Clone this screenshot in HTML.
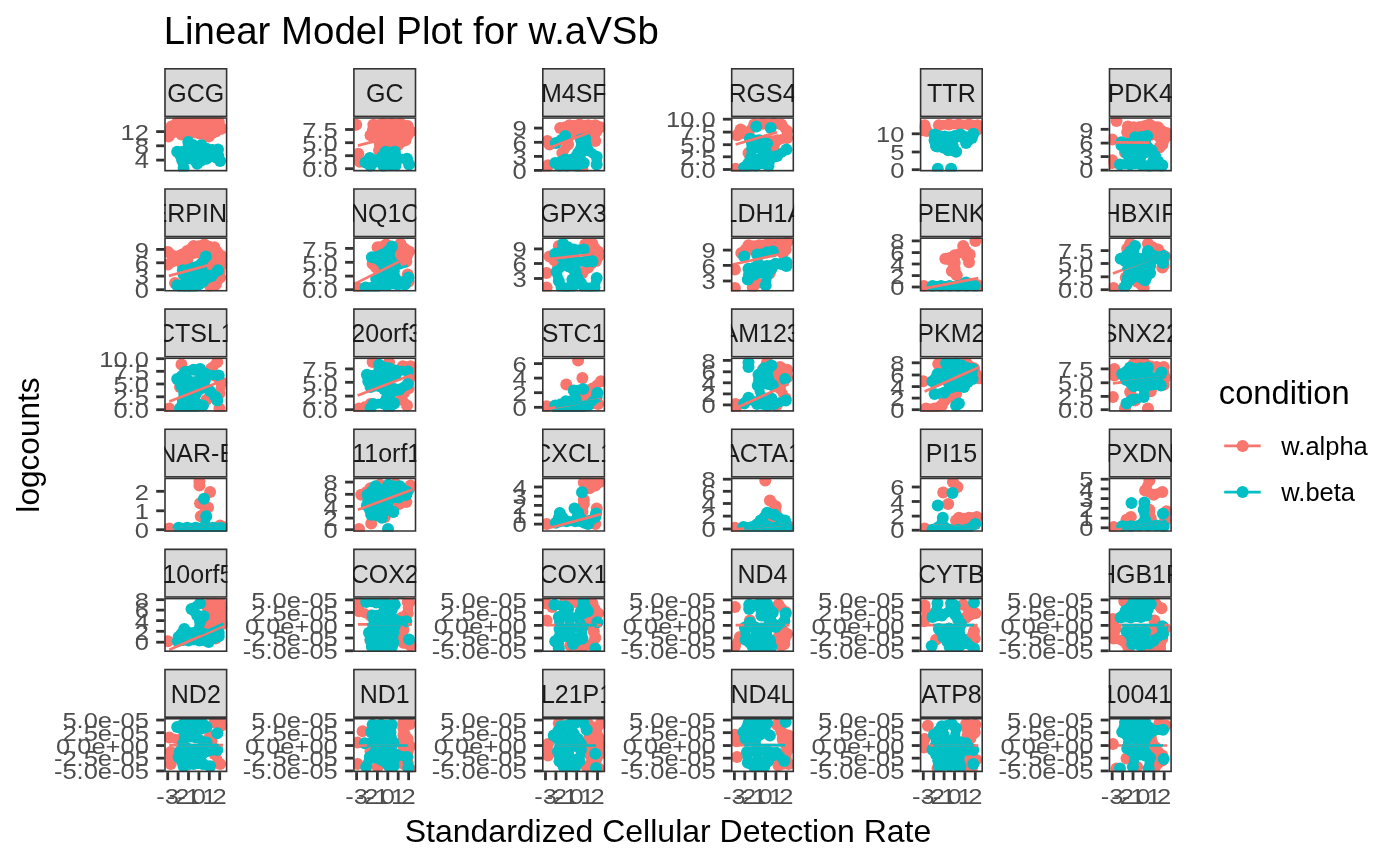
<!DOCTYPE html><html><head><meta charset="utf-8"><style>html,body{margin:0;padding:0;background:#fff;overflow:hidden}svg{display:block;will-change:transform;opacity:0.999}text{font-family:"Liberation Sans",sans-serif}</style></head><body>
<svg width="1400" height="866" viewBox="0 0 1400 866">
<rect width="1400" height="866" fill="#fff"/>
<defs>
<clipPath id="s0"><rect x="164.20" y="68.00" width="63.2" height="49.2"/></clipPath>
<clipPath id="p0"><rect x="164.20" y="117.20" width="63.2" height="54.2"/></clipPath>
<clipPath id="s1"><rect x="353.10" y="68.00" width="63.2" height="49.2"/></clipPath>
<clipPath id="p1"><rect x="353.10" y="117.20" width="63.2" height="54.2"/></clipPath>
<clipPath id="s2"><rect x="542.00" y="68.00" width="63.2" height="49.2"/></clipPath>
<clipPath id="p2"><rect x="542.00" y="117.20" width="63.2" height="54.2"/></clipPath>
<clipPath id="s3"><rect x="730.90" y="68.00" width="63.2" height="49.2"/></clipPath>
<clipPath id="p3"><rect x="730.90" y="117.20" width="63.2" height="54.2"/></clipPath>
<clipPath id="s4"><rect x="919.80" y="68.00" width="63.2" height="49.2"/></clipPath>
<clipPath id="p4"><rect x="919.80" y="117.20" width="63.2" height="54.2"/></clipPath>
<clipPath id="s5"><rect x="1108.70" y="68.00" width="63.2" height="49.2"/></clipPath>
<clipPath id="p5"><rect x="1108.70" y="117.20" width="63.2" height="54.2"/></clipPath>
<clipPath id="s6"><rect x="164.20" y="188.15" width="63.2" height="49.2"/></clipPath>
<clipPath id="p6"><rect x="164.20" y="237.35" width="63.2" height="54.2"/></clipPath>
<clipPath id="s7"><rect x="353.10" y="188.15" width="63.2" height="49.2"/></clipPath>
<clipPath id="p7"><rect x="353.10" y="237.35" width="63.2" height="54.2"/></clipPath>
<clipPath id="s8"><rect x="542.00" y="188.15" width="63.2" height="49.2"/></clipPath>
<clipPath id="p8"><rect x="542.00" y="237.35" width="63.2" height="54.2"/></clipPath>
<clipPath id="s9"><rect x="730.90" y="188.15" width="63.2" height="49.2"/></clipPath>
<clipPath id="p9"><rect x="730.90" y="237.35" width="63.2" height="54.2"/></clipPath>
<clipPath id="s10"><rect x="919.80" y="188.15" width="63.2" height="49.2"/></clipPath>
<clipPath id="p10"><rect x="919.80" y="237.35" width="63.2" height="54.2"/></clipPath>
<clipPath id="s11"><rect x="1108.70" y="188.15" width="63.2" height="49.2"/></clipPath>
<clipPath id="p11"><rect x="1108.70" y="237.35" width="63.2" height="54.2"/></clipPath>
<clipPath id="s12"><rect x="164.20" y="308.30" width="63.2" height="49.2"/></clipPath>
<clipPath id="p12"><rect x="164.20" y="357.50" width="63.2" height="54.2"/></clipPath>
<clipPath id="s13"><rect x="353.10" y="308.30" width="63.2" height="49.2"/></clipPath>
<clipPath id="p13"><rect x="353.10" y="357.50" width="63.2" height="54.2"/></clipPath>
<clipPath id="s14"><rect x="542.00" y="308.30" width="63.2" height="49.2"/></clipPath>
<clipPath id="p14"><rect x="542.00" y="357.50" width="63.2" height="54.2"/></clipPath>
<clipPath id="s15"><rect x="730.90" y="308.30" width="63.2" height="49.2"/></clipPath>
<clipPath id="p15"><rect x="730.90" y="357.50" width="63.2" height="54.2"/></clipPath>
<clipPath id="s16"><rect x="919.80" y="308.30" width="63.2" height="49.2"/></clipPath>
<clipPath id="p16"><rect x="919.80" y="357.50" width="63.2" height="54.2"/></clipPath>
<clipPath id="s17"><rect x="1108.70" y="308.30" width="63.2" height="49.2"/></clipPath>
<clipPath id="p17"><rect x="1108.70" y="357.50" width="63.2" height="54.2"/></clipPath>
<clipPath id="s18"><rect x="164.20" y="428.45" width="63.2" height="49.2"/></clipPath>
<clipPath id="p18"><rect x="164.20" y="477.65" width="63.2" height="54.2"/></clipPath>
<clipPath id="s19"><rect x="353.10" y="428.45" width="63.2" height="49.2"/></clipPath>
<clipPath id="p19"><rect x="353.10" y="477.65" width="63.2" height="54.2"/></clipPath>
<clipPath id="s20"><rect x="542.00" y="428.45" width="63.2" height="49.2"/></clipPath>
<clipPath id="p20"><rect x="542.00" y="477.65" width="63.2" height="54.2"/></clipPath>
<clipPath id="s21"><rect x="730.90" y="428.45" width="63.2" height="49.2"/></clipPath>
<clipPath id="p21"><rect x="730.90" y="477.65" width="63.2" height="54.2"/></clipPath>
<clipPath id="s22"><rect x="919.80" y="428.45" width="63.2" height="49.2"/></clipPath>
<clipPath id="p22"><rect x="919.80" y="477.65" width="63.2" height="54.2"/></clipPath>
<clipPath id="s23"><rect x="1108.70" y="428.45" width="63.2" height="49.2"/></clipPath>
<clipPath id="p23"><rect x="1108.70" y="477.65" width="63.2" height="54.2"/></clipPath>
<clipPath id="s24"><rect x="164.20" y="548.60" width="63.2" height="49.2"/></clipPath>
<clipPath id="p24"><rect x="164.20" y="597.80" width="63.2" height="54.2"/></clipPath>
<clipPath id="s25"><rect x="353.10" y="548.60" width="63.2" height="49.2"/></clipPath>
<clipPath id="p25"><rect x="353.10" y="597.80" width="63.2" height="54.2"/></clipPath>
<clipPath id="s26"><rect x="542.00" y="548.60" width="63.2" height="49.2"/></clipPath>
<clipPath id="p26"><rect x="542.00" y="597.80" width="63.2" height="54.2"/></clipPath>
<clipPath id="s27"><rect x="730.90" y="548.60" width="63.2" height="49.2"/></clipPath>
<clipPath id="p27"><rect x="730.90" y="597.80" width="63.2" height="54.2"/></clipPath>
<clipPath id="s28"><rect x="919.80" y="548.60" width="63.2" height="49.2"/></clipPath>
<clipPath id="p28"><rect x="919.80" y="597.80" width="63.2" height="54.2"/></clipPath>
<clipPath id="s29"><rect x="1108.70" y="548.60" width="63.2" height="49.2"/></clipPath>
<clipPath id="p29"><rect x="1108.70" y="597.80" width="63.2" height="54.2"/></clipPath>
<clipPath id="s30"><rect x="164.20" y="668.75" width="63.2" height="49.2"/></clipPath>
<clipPath id="p30"><rect x="164.20" y="717.95" width="63.2" height="54.2"/></clipPath>
<clipPath id="s31"><rect x="353.10" y="668.75" width="63.2" height="49.2"/></clipPath>
<clipPath id="p31"><rect x="353.10" y="717.95" width="63.2" height="54.2"/></clipPath>
<clipPath id="s32"><rect x="542.00" y="668.75" width="63.2" height="49.2"/></clipPath>
<clipPath id="p32"><rect x="542.00" y="717.95" width="63.2" height="54.2"/></clipPath>
<clipPath id="s33"><rect x="730.90" y="668.75" width="63.2" height="49.2"/></clipPath>
<clipPath id="p33"><rect x="730.90" y="717.95" width="63.2" height="54.2"/></clipPath>
<clipPath id="s34"><rect x="919.80" y="668.75" width="63.2" height="49.2"/></clipPath>
<clipPath id="p34"><rect x="919.80" y="717.95" width="63.2" height="54.2"/></clipPath>
<clipPath id="s35"><rect x="1108.70" y="668.75" width="63.2" height="49.2"/></clipPath>
<clipPath id="p35"><rect x="1108.70" y="717.95" width="63.2" height="54.2"/></clipPath>
</defs>
<text x="163.7" y="43.6" font-size="38.4" fill="#000">Linear Model Plot for w.aVSb</text>
<text x="668" y="842" font-size="32" text-anchor="middle" fill="#000">Standardized Cellular Detection Rate</text>
<text transform="translate(39.2,445) rotate(-90)" font-size="31.6" text-anchor="middle" fill="#000">logcounts</text>
<text transform="translate(1218.8,404.3) scale(0.99,1)" font-size="33" fill="#000">condition</text>
<line x1="1224.2" y1="445.9" x2="1260.7" y2="445.9" stroke="#F8766D" stroke-width="2.6"/>
<circle cx="1242.6" cy="445.9" r="6.0" fill="#F8766D"/>
<text transform="translate(1281.3,454.7) scale(1.02,1)" font-size="25" fill="#000">w.alpha</text>
<line x1="1224.2" y1="492.1" x2="1260.7" y2="492.1" stroke="#00BFC4" stroke-width="2.6"/>
<circle cx="1242.6" cy="492.1" r="6.0" fill="#00BFC4"/>
<text transform="translate(1281.3,500.9) scale(1.02,1)" font-size="25" fill="#000">w.beta</text>
<g clip-path="url(#s0)"><rect x="164.20" y="68.00" width="63.2" height="49.2" fill="#D9D9D9" stroke="#333" stroke-width="3.2"/>
<text x="195.80" y="102.00" font-size="25" text-anchor="middle" fill="#1A1A1A">GCG</text></g>
<g clip-path="url(#p0)"><rect x="164.20" y="117.20" width="63.2" height="54.2" fill="#fff"/>
<circle cx="171.5" cy="126.6" r="6.0" fill="#F8766D"/>
<circle cx="168.6" cy="136.6" r="6.0" fill="#F8766D"/>
<circle cx="180.8" cy="124.8" r="6.0" fill="#F8766D"/>
<circle cx="181.5" cy="134.5" r="6.0" fill="#F8766D"/>
<circle cx="190.8" cy="124.5" r="6.0" fill="#F8766D"/>
<circle cx="190.1" cy="133.0" r="6.0" fill="#F8766D"/>
<circle cx="200.1" cy="124.8" r="6.0" fill="#F8766D"/>
<circle cx="200.1" cy="133.8" r="6.0" fill="#F8766D"/>
<circle cx="209.4" cy="124.5" r="6.0" fill="#F8766D"/>
<circle cx="208.7" cy="136.6" r="6.0" fill="#F8766D"/>
<circle cx="218.7" cy="125.9" r="6.0" fill="#F8766D"/>
<circle cx="221.6" cy="128.7" r="6.0" fill="#F8766D"/>
<circle cx="215.8" cy="131.6" r="6.0" fill="#F8766D"/>
<circle cx="175.7" cy="130.9" r="6.0" fill="#F8766D"/>
<circle cx="177.9" cy="121.6" r="6.0" fill="#F8766D"/>
<circle cx="188.6" cy="120.9" r="6.0" fill="#F8766D"/>
<circle cx="199.4" cy="120.9" r="6.0" fill="#F8766D"/>
<circle cx="210.1" cy="120.9" r="6.0" fill="#F8766D"/>
<circle cx="218.7" cy="121.6" r="6.0" fill="#F8766D"/>
<circle cx="170.0" cy="131.6" r="5.0" fill="#F8766D"/>
<circle cx="176.1" cy="125.7" r="5.0" fill="#F8766D"/>
<circle cx="173.6" cy="128.7" r="5.0" fill="#F8766D"/>
<circle cx="174.7" cy="124.1" r="5.0" fill="#F8766D"/>
<circle cx="172.2" cy="133.8" r="5.0" fill="#F8766D"/>
<circle cx="181.1" cy="129.6" r="5.0" fill="#F8766D"/>
<circle cx="185.8" cy="124.6" r="5.0" fill="#F8766D"/>
<circle cx="185.4" cy="128.9" r="5.0" fill="#F8766D"/>
<circle cx="178.3" cy="127.9" r="5.0" fill="#F8766D"/>
<circle cx="179.3" cy="123.2" r="5.0" fill="#F8766D"/>
<circle cx="184.7" cy="122.8" r="5.0" fill="#F8766D"/>
<circle cx="185.8" cy="133.8" r="5.0" fill="#F8766D"/>
<circle cx="178.6" cy="132.7" r="5.0" fill="#F8766D"/>
<circle cx="190.4" cy="128.7" r="5.0" fill="#F8766D"/>
<circle cx="195.4" cy="124.6" r="5.0" fill="#F8766D"/>
<circle cx="189.7" cy="122.7" r="5.0" fill="#F8766D"/>
<circle cx="195.1" cy="122.7" r="5.0" fill="#F8766D"/>
<circle cx="195.1" cy="133.4" r="5.0" fill="#F8766D"/>
<circle cx="189.3" cy="127.0" r="5.0" fill="#F8766D"/>
<circle cx="200.1" cy="129.3" r="5.0" fill="#F8766D"/>
<circle cx="204.7" cy="124.6" r="5.0" fill="#F8766D"/>
<circle cx="194.4" cy="122.8" r="5.0" fill="#F8766D"/>
<circle cx="199.7" cy="122.8" r="5.0" fill="#F8766D"/>
<circle cx="205.1" cy="122.8" r="5.0" fill="#F8766D"/>
<circle cx="204.4" cy="135.2" r="5.0" fill="#F8766D"/>
<circle cx="209.0" cy="130.5" r="5.0" fill="#F8766D"/>
<circle cx="214.0" cy="125.2" r="5.0" fill="#F8766D"/>
<circle cx="212.6" cy="128.0" r="5.0" fill="#F8766D"/>
<circle cx="204.4" cy="122.7" r="5.0" fill="#F8766D"/>
<circle cx="209.7" cy="122.7" r="5.0" fill="#F8766D"/>
<circle cx="214.0" cy="123.0" r="5.0" fill="#F8766D"/>
<circle cx="212.3" cy="134.1" r="5.0" fill="#F8766D"/>
<circle cx="220.1" cy="127.3" r="5.0" fill="#F8766D"/>
<circle cx="217.3" cy="128.7" r="5.0" fill="#F8766D"/>
<circle cx="214.4" cy="123.4" r="5.0" fill="#F8766D"/>
<circle cx="218.7" cy="123.7" r="5.0" fill="#F8766D"/>
<circle cx="218.7" cy="130.2" r="5.0" fill="#F8766D"/>
<circle cx="220.1" cy="125.2" r="5.0" fill="#F8766D"/>
<circle cx="213.0" cy="126.2" r="5.0" fill="#F8766D"/>
<circle cx="217.3" cy="126.6" r="5.0" fill="#F8766D"/>
<circle cx="176.8" cy="126.2" r="5.0" fill="#F8766D"/>
<circle cx="183.3" cy="121.2" r="5.0" fill="#F8766D"/>
<circle cx="194.0" cy="120.9" r="5.0" fill="#F8766D"/>
<circle cx="204.7" cy="120.9" r="5.0" fill="#F8766D"/>
<circle cx="214.4" cy="121.2" r="5.0" fill="#F8766D"/>
<circle cx="177.2" cy="151.7" r="6.0" fill="#00BFC4"/>
<circle cx="188.3" cy="142.0" r="6.0" fill="#00BFC4"/>
<circle cx="201.5" cy="145.2" r="6.0" fill="#00BFC4"/>
<circle cx="218.0" cy="149.5" r="6.0" fill="#00BFC4"/>
<circle cx="220.1" cy="161.0" r="6.0" fill="#00BFC4"/>
<circle cx="197.2" cy="163.8" r="6.0" fill="#00BFC4"/>
<circle cx="206.5" cy="158.8" r="6.0" fill="#00BFC4"/>
<circle cx="182.2" cy="160.2" r="6.0" fill="#00BFC4"/>
<circle cx="183.6" cy="168.1" r="6.0" fill="#00BFC4"/>
<circle cx="194.4" cy="153.1" r="6.0" fill="#00BFC4"/>
<circle cx="187.2" cy="150.2" r="6.0" fill="#00BFC4"/>
<circle cx="206.5" cy="148.8" r="6.0" fill="#00BFC4"/>
<circle cx="198.7" cy="146.6" r="6.0" fill="#00BFC4"/>
<circle cx="181.5" cy="154.5" r="6.0" fill="#00BFC4"/>
<circle cx="188.6" cy="155.9" r="6.0" fill="#00BFC4"/>
<circle cx="200.1" cy="155.9" r="6.0" fill="#00BFC4"/>
<circle cx="210.1" cy="153.1" r="6.0" fill="#00BFC4"/>
<circle cx="192.9" cy="158.8" r="6.0" fill="#00BFC4"/>
<circle cx="202.9" cy="153.1" r="6.0" fill="#00BFC4"/>
<circle cx="211.5" cy="155.9" r="6.0" fill="#00BFC4"/>
<circle cx="179.7" cy="155.9" r="5.0" fill="#00BFC4"/>
<circle cx="182.2" cy="150.9" r="5.0" fill="#00BFC4"/>
<circle cx="179.3" cy="153.1" r="5.0" fill="#00BFC4"/>
<circle cx="182.9" cy="153.8" r="5.0" fill="#00BFC4"/>
<circle cx="187.7" cy="146.1" r="5.0" fill="#00BFC4"/>
<circle cx="193.5" cy="144.3" r="5.0" fill="#00BFC4"/>
<circle cx="197.9" cy="149.1" r="5.0" fill="#00BFC4"/>
<circle cx="204.0" cy="147.0" r="5.0" fill="#00BFC4"/>
<circle cx="200.1" cy="145.9" r="5.0" fill="#00BFC4"/>
<circle cx="200.8" cy="150.6" r="5.0" fill="#00BFC4"/>
<circle cx="205.8" cy="149.1" r="5.0" fill="#00BFC4"/>
<circle cx="202.2" cy="149.1" r="5.0" fill="#00BFC4"/>
<circle cx="219.1" cy="155.2" r="5.0" fill="#00BFC4"/>
<circle cx="212.3" cy="149.1" r="5.0" fill="#00BFC4"/>
<circle cx="214.0" cy="151.3" r="5.0" fill="#00BFC4"/>
<circle cx="214.8" cy="152.7" r="5.0" fill="#00BFC4"/>
<circle cx="215.8" cy="158.5" r="5.0" fill="#00BFC4"/>
<circle cx="201.9" cy="161.3" r="5.0" fill="#00BFC4"/>
<circle cx="195.8" cy="158.5" r="5.0" fill="#00BFC4"/>
<circle cx="192.9" cy="159.9" r="5.0" fill="#00BFC4"/>
<circle cx="198.7" cy="159.9" r="5.0" fill="#00BFC4"/>
<circle cx="195.1" cy="161.3" r="5.0" fill="#00BFC4"/>
<circle cx="200.1" cy="158.5" r="5.0" fill="#00BFC4"/>
<circle cx="206.5" cy="153.8" r="5.0" fill="#00BFC4"/>
<circle cx="203.3" cy="157.4" r="5.0" fill="#00BFC4"/>
<circle cx="208.3" cy="155.9" r="5.0" fill="#00BFC4"/>
<circle cx="204.7" cy="155.9" r="5.0" fill="#00BFC4"/>
<circle cx="209.0" cy="157.4" r="5.0" fill="#00BFC4"/>
<circle cx="182.9" cy="164.2" r="5.0" fill="#00BFC4"/>
<circle cx="184.7" cy="155.2" r="5.0" fill="#00BFC4"/>
<circle cx="181.8" cy="157.4" r="5.0" fill="#00BFC4"/>
<circle cx="185.4" cy="158.1" r="5.0" fill="#00BFC4"/>
<circle cx="187.6" cy="159.5" r="5.0" fill="#00BFC4"/>
<circle cx="190.8" cy="151.7" r="5.0" fill="#00BFC4"/>
<circle cx="196.5" cy="149.9" r="5.0" fill="#00BFC4"/>
<circle cx="191.5" cy="154.5" r="5.0" fill="#00BFC4"/>
<circle cx="197.2" cy="154.5" r="5.0" fill="#00BFC4"/>
<circle cx="193.6" cy="155.9" r="5.0" fill="#00BFC4"/>
<circle cx="198.7" cy="153.1" r="5.0" fill="#00BFC4"/>
<circle cx="192.9" cy="148.4" r="5.0" fill="#00BFC4"/>
<circle cx="184.3" cy="152.4" r="5.0" fill="#00BFC4"/>
<circle cx="187.9" cy="153.1" r="5.0" fill="#00BFC4"/>
<circle cx="190.1" cy="154.5" r="5.0" fill="#00BFC4"/>
<circle cx="202.6" cy="147.7" r="5.0" fill="#00BFC4"/>
<circle cx="203.3" cy="152.4" r="5.0" fill="#00BFC4"/>
<circle cx="208.3" cy="150.9" r="5.0" fill="#00BFC4"/>
<circle cx="204.7" cy="150.9" r="5.0" fill="#00BFC4"/>
<circle cx="209.0" cy="152.4" r="5.0" fill="#00BFC4"/>
<circle cx="199.4" cy="151.3" r="5.0" fill="#00BFC4"/>
<circle cx="200.8" cy="149.9" r="5.0" fill="#00BFC4"/>
<circle cx="185.1" cy="155.2" r="5.0" fill="#00BFC4"/>
<circle cx="187.2" cy="156.7" r="5.0" fill="#00BFC4"/>
<circle cx="194.4" cy="155.9" r="5.0" fill="#00BFC4"/>
<circle cx="190.8" cy="157.4" r="5.0" fill="#00BFC4"/>
<circle cx="205.1" cy="154.5" r="5.0" fill="#00BFC4"/>
<circle cx="196.5" cy="157.4" r="5.0" fill="#00BFC4"/>
<circle cx="201.5" cy="154.5" r="5.0" fill="#00BFC4"/>
<circle cx="205.8" cy="155.9" r="5.0" fill="#00BFC4"/>
<circle cx="206.5" cy="153.1" r="5.0" fill="#00BFC4"/>
<circle cx="210.8" cy="154.5" r="5.0" fill="#00BFC4"/>
<circle cx="197.9" cy="155.9" r="5.0" fill="#00BFC4"/>
<circle cx="207.2" cy="154.5" r="5.0" fill="#00BFC4"/>
<rect x="164.20" y="117.20" width="63.2" height="54.2" fill="none" stroke="#333" stroke-width="3.2"/></g>
<line x1="156.20" y1="131.6" x2="164.20" y2="131.6" stroke="#333" stroke-width="2.8"/>
<text transform="translate(148.90,139.80) scale(1.16,1)" font-size="22" text-anchor="end" fill="#4D4D4D">12</text>
<line x1="156.20" y1="145.79999999999998" x2="164.20" y2="145.79999999999998" stroke="#333" stroke-width="2.8"/>
<text transform="translate(148.90,154.00) scale(1.16,1)" font-size="22" text-anchor="end" fill="#4D4D4D">8</text>
<line x1="156.20" y1="160.1" x2="164.20" y2="160.1" stroke="#333" stroke-width="2.8"/>
<text transform="translate(148.90,168.30) scale(1.16,1)" font-size="22" text-anchor="end" fill="#4D4D4D">4</text>
<g clip-path="url(#s1)"><rect x="353.10" y="68.00" width="63.2" height="49.2" fill="#D9D9D9" stroke="#333" stroke-width="3.2"/>
<text x="384.70" y="102.00" font-size="25" text-anchor="middle" fill="#1A1A1A">GC</text></g>
<g clip-path="url(#p1)"><rect x="353.10" y="117.20" width="63.2" height="54.2" fill="#fff"/>
<circle cx="356.2" cy="124.8" r="6.0" fill="#F8766D"/>
<circle cx="373.3" cy="124.8" r="6.0" fill="#F8766D"/>
<circle cx="382.6" cy="123.7" r="6.0" fill="#F8766D"/>
<circle cx="391.9" cy="123.7" r="6.0" fill="#F8766D"/>
<circle cx="400.5" cy="123.7" r="6.0" fill="#F8766D"/>
<circle cx="407.7" cy="125.9" r="6.0" fill="#F8766D"/>
<circle cx="410.6" cy="131.6" r="6.0" fill="#F8766D"/>
<circle cx="370.5" cy="135.2" r="6.0" fill="#F8766D"/>
<circle cx="380.5" cy="134.5" r="6.0" fill="#F8766D"/>
<circle cx="390.5" cy="133.0" r="6.0" fill="#F8766D"/>
<circle cx="400.5" cy="134.5" r="6.0" fill="#F8766D"/>
<circle cx="405.5" cy="140.2" r="6.0" fill="#F8766D"/>
<circle cx="379.8" cy="143.8" r="6.0" fill="#F8766D"/>
<circle cx="389.1" cy="143.8" r="6.0" fill="#F8766D"/>
<circle cx="397.7" cy="145.2" r="6.0" fill="#F8766D"/>
<circle cx="379.1" cy="150.2" r="6.0" fill="#F8766D"/>
<circle cx="358.3" cy="153.8" r="6.0" fill="#F8766D"/>
<circle cx="359.7" cy="161.7" r="6.0" fill="#F8766D"/>
<circle cx="378.0" cy="124.3" r="5.0" fill="#F8766D"/>
<circle cx="371.9" cy="130.0" r="5.0" fill="#F8766D"/>
<circle cx="376.9" cy="129.6" r="5.0" fill="#F8766D"/>
<circle cx="387.3" cy="123.7" r="5.0" fill="#F8766D"/>
<circle cx="381.6" cy="129.1" r="5.0" fill="#F8766D"/>
<circle cx="386.6" cy="128.4" r="5.0" fill="#F8766D"/>
<circle cx="396.2" cy="123.7" r="5.0" fill="#F8766D"/>
<circle cx="391.2" cy="128.4" r="5.0" fill="#F8766D"/>
<circle cx="404.1" cy="124.8" r="5.0" fill="#F8766D"/>
<circle cx="400.5" cy="129.1" r="5.0" fill="#F8766D"/>
<circle cx="409.1" cy="128.7" r="5.0" fill="#F8766D"/>
<circle cx="404.1" cy="130.2" r="5.0" fill="#F8766D"/>
<circle cx="405.5" cy="133.0" r="5.0" fill="#F8766D"/>
<circle cx="408.1" cy="135.9" r="5.0" fill="#F8766D"/>
<circle cx="375.5" cy="134.8" r="5.0" fill="#F8766D"/>
<circle cx="385.5" cy="133.8" r="5.0" fill="#F8766D"/>
<circle cx="380.1" cy="139.1" r="5.0" fill="#F8766D"/>
<circle cx="395.5" cy="133.8" r="5.0" fill="#F8766D"/>
<circle cx="389.8" cy="138.4" r="5.0" fill="#F8766D"/>
<circle cx="403.0" cy="137.3" r="5.0" fill="#F8766D"/>
<circle cx="399.1" cy="139.8" r="5.0" fill="#F8766D"/>
<circle cx="401.6" cy="142.7" r="5.0" fill="#F8766D"/>
<circle cx="384.4" cy="143.8" r="5.0" fill="#F8766D"/>
<circle cx="379.4" cy="147.0" r="5.0" fill="#F8766D"/>
<circle cx="393.4" cy="144.5" r="5.0" fill="#F8766D"/>
<circle cx="384.1" cy="147.0" r="5.0" fill="#F8766D"/>
<circle cx="359.0" cy="157.7" r="5.0" fill="#F8766D"/>
<circle cx="369.8" cy="158.1" r="6.0" fill="#00BFC4"/>
<circle cx="365.5" cy="162.4" r="6.0" fill="#00BFC4"/>
<circle cx="385.5" cy="151.7" r="6.0" fill="#00BFC4"/>
<circle cx="394.8" cy="151.7" r="6.0" fill="#00BFC4"/>
<circle cx="377.6" cy="160.2" r="6.0" fill="#00BFC4"/>
<circle cx="388.4" cy="159.5" r="6.0" fill="#00BFC4"/>
<circle cx="397.7" cy="158.8" r="6.0" fill="#00BFC4"/>
<circle cx="407.0" cy="158.8" r="6.0" fill="#00BFC4"/>
<circle cx="409.1" cy="164.5" r="6.0" fill="#00BFC4"/>
<circle cx="370.5" cy="166.0" r="6.0" fill="#00BFC4"/>
<circle cx="383.4" cy="166.0" r="6.0" fill="#00BFC4"/>
<circle cx="395.5" cy="165.3" r="6.0" fill="#00BFC4"/>
<circle cx="367.6" cy="160.2" r="5.0" fill="#00BFC4"/>
<circle cx="373.7" cy="159.2" r="5.0" fill="#00BFC4"/>
<circle cx="370.1" cy="162.0" r="5.0" fill="#00BFC4"/>
<circle cx="371.5" cy="161.3" r="5.0" fill="#00BFC4"/>
<circle cx="368.0" cy="164.2" r="5.0" fill="#00BFC4"/>
<circle cx="390.2" cy="151.7" r="5.0" fill="#00BFC4"/>
<circle cx="381.6" cy="155.9" r="5.0" fill="#00BFC4"/>
<circle cx="386.9" cy="155.6" r="5.0" fill="#00BFC4"/>
<circle cx="391.6" cy="155.6" r="5.0" fill="#00BFC4"/>
<circle cx="396.2" cy="155.2" r="5.0" fill="#00BFC4"/>
<circle cx="383.0" cy="159.9" r="5.0" fill="#00BFC4"/>
<circle cx="374.1" cy="163.1" r="5.0" fill="#00BFC4"/>
<circle cx="380.5" cy="163.1" r="5.0" fill="#00BFC4"/>
<circle cx="393.0" cy="159.2" r="5.0" fill="#00BFC4"/>
<circle cx="385.9" cy="162.7" r="5.0" fill="#00BFC4"/>
<circle cx="391.9" cy="162.4" r="5.0" fill="#00BFC4"/>
<circle cx="402.3" cy="158.8" r="5.0" fill="#00BFC4"/>
<circle cx="396.6" cy="162.0" r="5.0" fill="#00BFC4"/>
<circle cx="408.1" cy="161.7" r="5.0" fill="#00BFC4"/>
<circle cx="389.4" cy="165.6" r="5.0" fill="#00BFC4"/>
<line x1="357.9" y1="145.6" x2="391.9" y2="136.6" stroke="#F8766D" stroke-width="2.7"/>
<rect x="353.10" y="117.20" width="63.2" height="54.2" fill="none" stroke="#333" stroke-width="3.2"/></g>
<line x1="345.10" y1="129.5" x2="353.10" y2="129.5" stroke="#333" stroke-width="2.8"/>
<text transform="translate(337.80,137.70) scale(1.16,1)" font-size="22" text-anchor="end" fill="#4D4D4D">7.5</text>
<line x1="345.10" y1="142.7" x2="353.10" y2="142.7" stroke="#333" stroke-width="2.8"/>
<text transform="translate(337.80,150.90) scale(1.16,1)" font-size="22" text-anchor="end" fill="#4D4D4D">5.0</text>
<line x1="345.10" y1="155.7" x2="353.10" y2="155.7" stroke="#333" stroke-width="2.8"/>
<text transform="translate(337.80,163.90) scale(1.16,1)" font-size="22" text-anchor="end" fill="#4D4D4D">2.5</text>
<line x1="345.10" y1="168.7" x2="353.10" y2="168.7" stroke="#333" stroke-width="2.8"/>
<text transform="translate(337.80,176.90) scale(1.16,1)" font-size="22" text-anchor="end" fill="#4D4D4D">0.0</text>
<g clip-path="url(#s2)"><rect x="542.00" y="68.00" width="63.2" height="49.2" fill="#D9D9D9" stroke="#333" stroke-width="3.2"/>
<text x="573.60" y="102.00" font-size="25" text-anchor="middle" fill="#1A1A1A">TM4SF4</text></g>
<g clip-path="url(#p2)"><rect x="542.00" y="117.20" width="63.2" height="54.2" fill="#fff"/>
<circle cx="560.2" cy="128.0" r="6.0" fill="#F8766D"/>
<circle cx="569.5" cy="125.2" r="6.0" fill="#F8766D"/>
<circle cx="579.5" cy="124.5" r="6.0" fill="#F8766D"/>
<circle cx="588.1" cy="125.2" r="6.0" fill="#F8766D"/>
<circle cx="595.3" cy="125.2" r="6.0" fill="#F8766D"/>
<circle cx="600.3" cy="127.3" r="6.0" fill="#F8766D"/>
<circle cx="568.8" cy="133.8" r="6.0" fill="#F8766D"/>
<circle cx="578.1" cy="131.6" r="6.0" fill="#F8766D"/>
<circle cx="593.8" cy="136.6" r="6.0" fill="#F8766D"/>
<circle cx="595.3" cy="140.9" r="6.0" fill="#F8766D"/>
<circle cx="583.8" cy="133.0" r="6.0" fill="#F8766D"/>
<circle cx="547.3" cy="140.9" r="6.0" fill="#F8766D"/>
<circle cx="549.5" cy="144.5" r="6.0" fill="#F8766D"/>
<circle cx="562.3" cy="153.1" r="6.0" fill="#F8766D"/>
<circle cx="548.0" cy="165.3" r="6.0" fill="#F8766D"/>
<circle cx="546.6" cy="167.4" r="6.0" fill="#F8766D"/>
<circle cx="568.1" cy="144.5" r="6.0" fill="#F8766D"/>
<circle cx="582.4" cy="169.5" r="6.0" fill="#F8766D"/>
<circle cx="564.8" cy="126.6" r="5.0" fill="#F8766D"/>
<circle cx="564.5" cy="130.9" r="5.0" fill="#F8766D"/>
<circle cx="574.5" cy="124.8" r="5.0" fill="#F8766D"/>
<circle cx="569.1" cy="129.5" r="5.0" fill="#F8766D"/>
<circle cx="573.8" cy="128.4" r="5.0" fill="#F8766D"/>
<circle cx="583.8" cy="124.8" r="5.0" fill="#F8766D"/>
<circle cx="578.8" cy="128.0" r="5.0" fill="#F8766D"/>
<circle cx="581.7" cy="128.7" r="5.0" fill="#F8766D"/>
<circle cx="591.7" cy="125.2" r="5.0" fill="#F8766D"/>
<circle cx="594.2" cy="126.2" r="5.0" fill="#F8766D"/>
<circle cx="583.1" cy="128.4" r="5.0" fill="#F8766D"/>
<circle cx="586.0" cy="129.1" r="5.0" fill="#F8766D"/>
<circle cx="597.8" cy="126.2" r="5.0" fill="#F8766D"/>
<circle cx="594.5" cy="130.9" r="5.0" fill="#F8766D"/>
<circle cx="597.1" cy="132.0" r="5.0" fill="#F8766D"/>
<circle cx="573.4" cy="132.7" r="5.0" fill="#F8766D"/>
<circle cx="568.4" cy="139.1" r="5.0" fill="#F8766D"/>
<circle cx="580.9" cy="132.3" r="5.0" fill="#F8766D"/>
<circle cx="594.5" cy="138.8" r="5.0" fill="#F8766D"/>
<circle cx="588.8" cy="134.8" r="5.0" fill="#F8766D"/>
<circle cx="548.4" cy="142.7" r="5.0" fill="#F8766D"/>
<circle cx="565.2" cy="148.8" r="5.0" fill="#F8766D"/>
<circle cx="547.3" cy="166.3" r="5.0" fill="#F8766D"/>
<circle cx="555.9" cy="143.1" r="6.0" fill="#00BFC4"/>
<circle cx="565.2" cy="135.9" r="6.0" fill="#00BFC4"/>
<circle cx="580.9" cy="139.5" r="6.0" fill="#00BFC4"/>
<circle cx="585.2" cy="138.8" r="6.0" fill="#00BFC4"/>
<circle cx="580.9" cy="148.8" r="6.0" fill="#00BFC4"/>
<circle cx="578.1" cy="153.1" r="6.0" fill="#00BFC4"/>
<circle cx="588.1" cy="150.2" r="6.0" fill="#00BFC4"/>
<circle cx="555.2" cy="163.1" r="6.0" fill="#00BFC4"/>
<circle cx="565.2" cy="159.5" r="6.0" fill="#00BFC4"/>
<circle cx="573.8" cy="158.8" r="6.0" fill="#00BFC4"/>
<circle cx="583.8" cy="163.1" r="6.0" fill="#00BFC4"/>
<circle cx="596.7" cy="156.7" r="6.0" fill="#00BFC4"/>
<circle cx="596.7" cy="164.5" r="6.0" fill="#00BFC4"/>
<circle cx="566.6" cy="166.0" r="6.0" fill="#00BFC4"/>
<circle cx="576.7" cy="166.0" r="6.0" fill="#00BFC4"/>
<circle cx="559.5" cy="166.0" r="6.0" fill="#00BFC4"/>
<circle cx="560.5" cy="139.5" r="5.0" fill="#00BFC4"/>
<circle cx="583.1" cy="139.1" r="5.0" fill="#00BFC4"/>
<circle cx="580.9" cy="144.1" r="5.0" fill="#00BFC4"/>
<circle cx="583.1" cy="143.8" r="5.0" fill="#00BFC4"/>
<circle cx="586.7" cy="144.5" r="5.0" fill="#00BFC4"/>
<circle cx="579.5" cy="150.9" r="5.0" fill="#00BFC4"/>
<circle cx="584.5" cy="149.5" r="5.0" fill="#00BFC4"/>
<circle cx="577.4" cy="153.8" r="5.0" fill="#00BFC4"/>
<circle cx="583.1" cy="151.7" r="5.0" fill="#00BFC4"/>
<circle cx="575.9" cy="155.9" r="5.0" fill="#00BFC4"/>
<circle cx="580.9" cy="158.1" r="5.0" fill="#00BFC4"/>
<circle cx="592.4" cy="153.4" r="5.0" fill="#00BFC4"/>
<circle cx="560.2" cy="161.3" r="5.0" fill="#00BFC4"/>
<circle cx="560.9" cy="164.5" r="5.0" fill="#00BFC4"/>
<circle cx="557.3" cy="164.5" r="5.0" fill="#00BFC4"/>
<circle cx="569.5" cy="159.2" r="5.0" fill="#00BFC4"/>
<circle cx="565.9" cy="162.7" r="5.0" fill="#00BFC4"/>
<circle cx="562.3" cy="162.7" r="5.0" fill="#00BFC4"/>
<circle cx="578.8" cy="161.0" r="5.0" fill="#00BFC4"/>
<circle cx="570.2" cy="162.4" r="5.0" fill="#00BFC4"/>
<circle cx="575.2" cy="162.4" r="5.0" fill="#00BFC4"/>
<circle cx="580.2" cy="164.5" r="5.0" fill="#00BFC4"/>
<circle cx="596.7" cy="160.6" r="5.0" fill="#00BFC4"/>
<circle cx="571.6" cy="166.0" r="5.0" fill="#00BFC4"/>
<circle cx="563.1" cy="166.0" r="5.0" fill="#00BFC4"/>
<line x1="546.6" y1="148.8" x2="588.1" y2="133.0" stroke="#F8766D" stroke-width="2.7"/>
<rect x="542.00" y="117.20" width="63.2" height="54.2" fill="none" stroke="#333" stroke-width="3.2"/></g>
<line x1="534.00" y1="128.1" x2="542.00" y2="128.1" stroke="#333" stroke-width="2.8"/>
<text transform="translate(526.70,136.30) scale(1.16,1)" font-size="22" text-anchor="end" fill="#4D4D4D">9</text>
<line x1="534.00" y1="142.29999999999998" x2="542.00" y2="142.29999999999998" stroke="#333" stroke-width="2.8"/>
<text transform="translate(526.70,150.50) scale(1.16,1)" font-size="22" text-anchor="end" fill="#4D4D4D">6</text>
<line x1="534.00" y1="156.39999999999998" x2="542.00" y2="156.39999999999998" stroke="#333" stroke-width="2.8"/>
<text transform="translate(526.70,164.60) scale(1.16,1)" font-size="22" text-anchor="end" fill="#4D4D4D">3</text>
<line x1="534.00" y1="170.39999999999998" x2="542.00" y2="170.39999999999998" stroke="#333" stroke-width="2.8"/>
<text transform="translate(526.70,178.60) scale(1.16,1)" font-size="22" text-anchor="end" fill="#4D4D4D">0</text>
<g clip-path="url(#s3)"><rect x="730.90" y="68.00" width="63.2" height="49.2" fill="#D9D9D9" stroke="#333" stroke-width="3.2"/>
<text x="762.50" y="102.00" font-size="25" text-anchor="middle" fill="#1A1A1A">RGS4</text></g>
<g clip-path="url(#p3)"><rect x="730.90" y="117.20" width="63.2" height="54.2" fill="#fff"/>
<circle cx="740.6" cy="129.5" r="6.0" fill="#F8766D"/>
<circle cx="737.0" cy="135.2" r="6.0" fill="#F8766D"/>
<circle cx="754.2" cy="124.5" r="6.0" fill="#F8766D"/>
<circle cx="762.8" cy="123.7" r="6.0" fill="#F8766D"/>
<circle cx="773.5" cy="123.7" r="6.0" fill="#F8766D"/>
<circle cx="781.4" cy="124.5" r="6.0" fill="#F8766D"/>
<circle cx="787.1" cy="130.9" r="6.0" fill="#F8766D"/>
<circle cx="787.1" cy="138.1" r="6.0" fill="#F8766D"/>
<circle cx="777.1" cy="140.2" r="6.0" fill="#F8766D"/>
<circle cx="773.5" cy="146.6" r="6.0" fill="#F8766D"/>
<circle cx="748.5" cy="153.1" r="6.0" fill="#F8766D"/>
<circle cx="735.6" cy="168.8" r="6.0" fill="#F8766D"/>
<circle cx="766.4" cy="140.2" r="6.0" fill="#F8766D"/>
<circle cx="748.5" cy="133.0" r="6.0" fill="#F8766D"/>
<circle cx="738.8" cy="132.3" r="5.0" fill="#F8766D"/>
<circle cx="744.5" cy="131.3" r="5.0" fill="#F8766D"/>
<circle cx="742.7" cy="134.1" r="5.0" fill="#F8766D"/>
<circle cx="758.5" cy="124.1" r="5.0" fill="#F8766D"/>
<circle cx="751.3" cy="128.7" r="5.0" fill="#F8766D"/>
<circle cx="768.2" cy="123.7" r="5.0" fill="#F8766D"/>
<circle cx="777.5" cy="124.1" r="5.0" fill="#F8766D"/>
<circle cx="784.3" cy="127.7" r="5.0" fill="#F8766D"/>
<circle cx="787.1" cy="134.5" r="5.0" fill="#F8766D"/>
<circle cx="782.1" cy="139.1" r="5.0" fill="#F8766D"/>
<circle cx="775.3" cy="143.4" r="5.0" fill="#F8766D"/>
<circle cx="771.7" cy="140.2" r="5.0" fill="#F8766D"/>
<circle cx="769.9" cy="143.4" r="5.0" fill="#F8766D"/>
<circle cx="756.3" cy="126.6" r="6.0" fill="#00BFC4"/>
<circle cx="770.7" cy="128.0" r="6.0" fill="#00BFC4"/>
<circle cx="749.9" cy="138.8" r="6.0" fill="#00BFC4"/>
<circle cx="759.2" cy="140.2" r="6.0" fill="#00BFC4"/>
<circle cx="767.1" cy="143.8" r="6.0" fill="#00BFC4"/>
<circle cx="752.1" cy="148.8" r="6.0" fill="#00BFC4"/>
<circle cx="764.2" cy="148.8" r="6.0" fill="#00BFC4"/>
<circle cx="750.6" cy="158.8" r="6.0" fill="#00BFC4"/>
<circle cx="761.4" cy="158.8" r="6.0" fill="#00BFC4"/>
<circle cx="771.4" cy="157.4" r="6.0" fill="#00BFC4"/>
<circle cx="777.1" cy="155.9" r="6.0" fill="#00BFC4"/>
<circle cx="786.4" cy="149.5" r="6.0" fill="#00BFC4"/>
<circle cx="744.2" cy="167.4" r="6.0" fill="#00BFC4"/>
<circle cx="755.6" cy="166.0" r="6.0" fill="#00BFC4"/>
<circle cx="768.5" cy="166.0" r="6.0" fill="#00BFC4"/>
<circle cx="761.4" cy="163.1" r="6.0" fill="#00BFC4"/>
<circle cx="754.6" cy="139.5" r="5.0" fill="#00BFC4"/>
<circle cx="751.0" cy="143.8" r="5.0" fill="#00BFC4"/>
<circle cx="763.1" cy="142.0" r="5.0" fill="#00BFC4"/>
<circle cx="755.6" cy="144.5" r="5.0" fill="#00BFC4"/>
<circle cx="761.7" cy="144.5" r="5.0" fill="#00BFC4"/>
<circle cx="765.7" cy="146.3" r="5.0" fill="#00BFC4"/>
<circle cx="758.1" cy="148.8" r="5.0" fill="#00BFC4"/>
<circle cx="751.3" cy="153.8" r="5.0" fill="#00BFC4"/>
<circle cx="762.8" cy="153.8" r="5.0" fill="#00BFC4"/>
<circle cx="767.8" cy="153.1" r="5.0" fill="#00BFC4"/>
<circle cx="756.0" cy="158.8" r="5.0" fill="#00BFC4"/>
<circle cx="747.4" cy="163.1" r="5.0" fill="#00BFC4"/>
<circle cx="753.1" cy="162.4" r="5.0" fill="#00BFC4"/>
<circle cx="756.0" cy="161.0" r="5.0" fill="#00BFC4"/>
<circle cx="766.4" cy="158.1" r="5.0" fill="#00BFC4"/>
<circle cx="758.5" cy="162.4" r="5.0" fill="#00BFC4"/>
<circle cx="764.9" cy="162.4" r="5.0" fill="#00BFC4"/>
<circle cx="761.4" cy="161.0" r="5.0" fill="#00BFC4"/>
<circle cx="774.2" cy="156.7" r="5.0" fill="#00BFC4"/>
<circle cx="769.9" cy="161.7" r="5.0" fill="#00BFC4"/>
<circle cx="766.4" cy="160.2" r="5.0" fill="#00BFC4"/>
<circle cx="781.8" cy="152.7" r="5.0" fill="#00BFC4"/>
<circle cx="749.9" cy="166.7" r="5.0" fill="#00BFC4"/>
<circle cx="758.5" cy="164.5" r="5.0" fill="#00BFC4"/>
<circle cx="764.9" cy="164.5" r="5.0" fill="#00BFC4"/>
<line x1="735.6" y1="144.5" x2="777.1" y2="132.3" stroke="#F8766D" stroke-width="2.7"/>
<rect x="730.90" y="117.20" width="63.2" height="54.2" fill="none" stroke="#333" stroke-width="3.2"/></g>
<line x1="722.90" y1="119.2" x2="730.90" y2="119.2" stroke="#333" stroke-width="2.8"/>
<text transform="translate(715.60,127.40) scale(1.16,1)" font-size="22" text-anchor="end" fill="#4D4D4D">10.0</text>
<line x1="722.90" y1="132.1" x2="730.90" y2="132.1" stroke="#333" stroke-width="2.8"/>
<text transform="translate(715.60,140.30) scale(1.16,1)" font-size="22" text-anchor="end" fill="#4D4D4D">7.5</text>
<line x1="722.90" y1="144.7" x2="730.90" y2="144.7" stroke="#333" stroke-width="2.8"/>
<text transform="translate(715.60,152.90) scale(1.16,1)" font-size="22" text-anchor="end" fill="#4D4D4D">5.0</text>
<line x1="722.90" y1="156.79999999999998" x2="730.90" y2="156.79999999999998" stroke="#333" stroke-width="2.8"/>
<text transform="translate(715.60,165.00) scale(1.16,1)" font-size="22" text-anchor="end" fill="#4D4D4D">2.5</text>
<line x1="722.90" y1="169.5" x2="730.90" y2="169.5" stroke="#333" stroke-width="2.8"/>
<text transform="translate(715.60,177.70) scale(1.16,1)" font-size="22" text-anchor="end" fill="#4D4D4D">0.0</text>
<g clip-path="url(#s4)"><rect x="919.80" y="68.00" width="63.2" height="49.2" fill="#D9D9D9" stroke="#333" stroke-width="3.2"/>
<text x="951.40" y="102.00" font-size="25" text-anchor="middle" fill="#1A1A1A">TTR</text></g>
<g clip-path="url(#p4)"><rect x="919.80" y="117.20" width="63.2" height="54.2" fill="#fff"/>
<circle cx="924.6" cy="125.2" r="6.0" fill="#F8766D"/>
<circle cx="923.2" cy="130.2" r="6.0" fill="#F8766D"/>
<circle cx="938.9" cy="125.2" r="6.0" fill="#F8766D"/>
<circle cx="948.9" cy="124.5" r="6.0" fill="#F8766D"/>
<circle cx="958.9" cy="124.5" r="6.0" fill="#F8766D"/>
<circle cx="969.0" cy="124.5" r="6.0" fill="#F8766D"/>
<circle cx="977.6" cy="125.2" r="6.0" fill="#F8766D"/>
<circle cx="977.6" cy="129.5" r="6.0" fill="#F8766D"/>
<circle cx="926.7" cy="130.9" r="6.0" fill="#F8766D"/>
<circle cx="923.9" cy="127.7" r="5.0" fill="#F8766D"/>
<circle cx="925.7" cy="128.0" r="5.0" fill="#F8766D"/>
<circle cx="924.9" cy="130.5" r="5.0" fill="#F8766D"/>
<circle cx="943.9" cy="124.8" r="5.0" fill="#F8766D"/>
<circle cx="953.9" cy="124.5" r="5.0" fill="#F8766D"/>
<circle cx="964.0" cy="124.5" r="5.0" fill="#F8766D"/>
<circle cx="973.3" cy="124.8" r="5.0" fill="#F8766D"/>
<circle cx="973.3" cy="127.0" r="5.0" fill="#F8766D"/>
<circle cx="977.6" cy="127.3" r="5.0" fill="#F8766D"/>
<circle cx="934.6" cy="134.5" r="6.0" fill="#00BFC4"/>
<circle cx="934.6" cy="140.2" r="6.0" fill="#00BFC4"/>
<circle cx="936.0" cy="145.9" r="6.0" fill="#00BFC4"/>
<circle cx="944.6" cy="136.6" r="6.0" fill="#00BFC4"/>
<circle cx="954.7" cy="135.9" r="6.0" fill="#00BFC4"/>
<circle cx="960.4" cy="134.5" r="6.0" fill="#00BFC4"/>
<circle cx="973.3" cy="133.8" r="6.0" fill="#00BFC4"/>
<circle cx="971.8" cy="138.1" r="6.0" fill="#00BFC4"/>
<circle cx="966.1" cy="143.1" r="6.0" fill="#00BFC4"/>
<circle cx="944.6" cy="145.9" r="6.0" fill="#00BFC4"/>
<circle cx="956.1" cy="151.7" r="6.0" fill="#00BFC4"/>
<circle cx="948.2" cy="150.2" r="6.0" fill="#00BFC4"/>
<circle cx="937.5" cy="146.6" r="6.0" fill="#00BFC4"/>
<circle cx="951.8" cy="141.6" r="6.0" fill="#00BFC4"/>
<circle cx="937.8" cy="168.8" r="6.0" fill="#00BFC4"/>
<circle cx="951.1" cy="168.8" r="6.0" fill="#00BFC4"/>
<circle cx="934.6" cy="137.3" r="5.0" fill="#00BFC4"/>
<circle cx="935.3" cy="140.2" r="5.0" fill="#00BFC4"/>
<circle cx="939.6" cy="135.5" r="5.0" fill="#00BFC4"/>
<circle cx="935.3" cy="143.1" r="5.0" fill="#00BFC4"/>
<circle cx="939.6" cy="138.4" r="5.0" fill="#00BFC4"/>
<circle cx="939.6" cy="143.1" r="5.0" fill="#00BFC4"/>
<circle cx="936.0" cy="143.4" r="5.0" fill="#00BFC4"/>
<circle cx="940.3" cy="145.9" r="5.0" fill="#00BFC4"/>
<circle cx="936.8" cy="146.3" r="5.0" fill="#00BFC4"/>
<circle cx="949.6" cy="136.3" r="5.0" fill="#00BFC4"/>
<circle cx="944.6" cy="141.3" r="5.0" fill="#00BFC4"/>
<circle cx="941.1" cy="141.6" r="5.0" fill="#00BFC4"/>
<circle cx="948.2" cy="139.1" r="5.0" fill="#00BFC4"/>
<circle cx="957.5" cy="135.2" r="5.0" fill="#00BFC4"/>
<circle cx="953.2" cy="138.8" r="5.0" fill="#00BFC4"/>
<circle cx="966.1" cy="136.3" r="5.0" fill="#00BFC4"/>
<circle cx="963.2" cy="138.8" r="5.0" fill="#00BFC4"/>
<circle cx="956.1" cy="138.1" r="5.0" fill="#00BFC4"/>
<circle cx="972.5" cy="135.9" r="5.0" fill="#00BFC4"/>
<circle cx="969.7" cy="138.4" r="5.0" fill="#00BFC4"/>
<circle cx="969.0" cy="140.6" r="5.0" fill="#00BFC4"/>
<circle cx="946.4" cy="148.1" r="5.0" fill="#00BFC4"/>
<circle cx="941.1" cy="146.3" r="5.0" fill="#00BFC4"/>
<circle cx="948.2" cy="143.8" r="5.0" fill="#00BFC4"/>
<circle cx="952.1" cy="150.9" r="5.0" fill="#00BFC4"/>
<circle cx="953.9" cy="146.6" r="5.0" fill="#00BFC4"/>
<circle cx="942.8" cy="148.4" r="5.0" fill="#00BFC4"/>
<circle cx="950.0" cy="145.9" r="5.0" fill="#00BFC4"/>
<rect x="919.80" y="117.20" width="63.2" height="54.2" fill="none" stroke="#333" stroke-width="3.2"/></g>
<line x1="911.80" y1="133.79999999999998" x2="919.80" y2="133.79999999999998" stroke="#333" stroke-width="2.8"/>
<text transform="translate(904.50,142.00) scale(1.16,1)" font-size="22" text-anchor="end" fill="#4D4D4D">10</text>
<line x1="911.80" y1="152.0" x2="919.80" y2="152.0" stroke="#333" stroke-width="2.8"/>
<text transform="translate(904.50,160.20) scale(1.16,1)" font-size="22" text-anchor="end" fill="#4D4D4D">5</text>
<line x1="911.80" y1="169.7" x2="919.80" y2="169.7" stroke="#333" stroke-width="2.8"/>
<text transform="translate(904.50,177.90) scale(1.16,1)" font-size="22" text-anchor="end" fill="#4D4D4D">0</text>
<g clip-path="url(#s5)"><rect x="1108.70" y="68.00" width="63.2" height="49.2" fill="#D9D9D9" stroke="#333" stroke-width="3.2"/>
<text x="1140.30" y="102.00" font-size="25" text-anchor="middle" fill="#1A1A1A">PDK4</text></g>
<g clip-path="url(#p5)"><rect x="1108.70" y="117.20" width="63.2" height="54.2" fill="#fff"/>
<circle cx="1116.5" cy="120.9" r="6.0" fill="#F8766D"/>
<circle cx="1127.9" cy="126.6" r="6.0" fill="#F8766D"/>
<circle cx="1127.2" cy="132.3" r="6.0" fill="#F8766D"/>
<circle cx="1139.4" cy="127.3" r="6.0" fill="#F8766D"/>
<circle cx="1149.4" cy="124.5" r="6.0" fill="#F8766D"/>
<circle cx="1158.0" cy="127.3" r="6.0" fill="#F8766D"/>
<circle cx="1166.6" cy="133.0" r="6.0" fill="#F8766D"/>
<circle cx="1166.6" cy="136.6" r="6.0" fill="#F8766D"/>
<circle cx="1162.3" cy="144.5" r="6.0" fill="#F8766D"/>
<circle cx="1159.4" cy="147.4" r="6.0" fill="#F8766D"/>
<circle cx="1152.2" cy="134.5" r="6.0" fill="#F8766D"/>
<circle cx="1112.2" cy="139.5" r="6.0" fill="#F8766D"/>
<circle cx="1112.2" cy="160.2" r="6.0" fill="#F8766D"/>
<circle cx="1112.2" cy="163.1" r="6.0" fill="#F8766D"/>
<circle cx="1125.0" cy="152.4" r="6.0" fill="#F8766D"/>
<circle cx="1145.1" cy="130.2" r="6.0" fill="#F8766D"/>
<circle cx="1155.1" cy="161.7" r="6.0" fill="#F8766D"/>
<circle cx="1133.6" cy="127.3" r="6.0" fill="#F8766D"/>
<circle cx="1140.8" cy="130.9" r="6.0" fill="#F8766D"/>
<circle cx="1145.1" cy="125.9" r="6.0" fill="#F8766D"/>
<circle cx="1149.4" cy="130.9" r="6.0" fill="#F8766D"/>
<circle cx="1158.0" cy="134.5" r="6.0" fill="#F8766D"/>
<circle cx="1162.3" cy="138.1" r="6.0" fill="#F8766D"/>
<circle cx="1135.1" cy="131.6" r="6.0" fill="#F8766D"/>
<circle cx="1127.5" cy="129.5" r="5.0" fill="#F8766D"/>
<circle cx="1133.6" cy="127.0" r="5.0" fill="#F8766D"/>
<circle cx="1130.8" cy="127.0" r="5.0" fill="#F8766D"/>
<circle cx="1131.5" cy="129.1" r="5.0" fill="#F8766D"/>
<circle cx="1130.4" cy="129.8" r="5.0" fill="#F8766D"/>
<circle cx="1131.1" cy="132.0" r="5.0" fill="#F8766D"/>
<circle cx="1144.4" cy="125.9" r="5.0" fill="#F8766D"/>
<circle cx="1142.2" cy="128.7" r="5.0" fill="#F8766D"/>
<circle cx="1136.5" cy="127.3" r="5.0" fill="#F8766D"/>
<circle cx="1140.1" cy="129.1" r="5.0" fill="#F8766D"/>
<circle cx="1142.2" cy="126.6" r="5.0" fill="#F8766D"/>
<circle cx="1144.4" cy="129.1" r="5.0" fill="#F8766D"/>
<circle cx="1137.2" cy="129.5" r="5.0" fill="#F8766D"/>
<circle cx="1153.7" cy="125.9" r="5.0" fill="#F8766D"/>
<circle cx="1150.8" cy="129.5" r="5.0" fill="#F8766D"/>
<circle cx="1147.2" cy="127.3" r="5.0" fill="#F8766D"/>
<circle cx="1145.1" cy="127.7" r="5.0" fill="#F8766D"/>
<circle cx="1147.2" cy="125.2" r="5.0" fill="#F8766D"/>
<circle cx="1149.4" cy="127.7" r="5.0" fill="#F8766D"/>
<circle cx="1162.3" cy="130.2" r="5.0" fill="#F8766D"/>
<circle cx="1155.1" cy="130.9" r="5.0" fill="#F8766D"/>
<circle cx="1153.7" cy="129.1" r="5.0" fill="#F8766D"/>
<circle cx="1158.0" cy="130.9" r="5.0" fill="#F8766D"/>
<circle cx="1160.1" cy="132.7" r="5.0" fill="#F8766D"/>
<circle cx="1166.6" cy="134.8" r="5.0" fill="#F8766D"/>
<circle cx="1164.4" cy="138.8" r="5.0" fill="#F8766D"/>
<circle cx="1162.3" cy="133.8" r="5.0" fill="#F8766D"/>
<circle cx="1164.4" cy="135.5" r="5.0" fill="#F8766D"/>
<circle cx="1164.4" cy="140.6" r="5.0" fill="#F8766D"/>
<circle cx="1162.3" cy="135.5" r="5.0" fill="#F8766D"/>
<circle cx="1164.4" cy="137.3" r="5.0" fill="#F8766D"/>
<circle cx="1160.8" cy="145.9" r="5.0" fill="#F8766D"/>
<circle cx="1160.1" cy="139.5" r="5.0" fill="#F8766D"/>
<circle cx="1162.3" cy="141.3" r="5.0" fill="#F8766D"/>
<circle cx="1160.8" cy="142.7" r="5.0" fill="#F8766D"/>
<circle cx="1148.7" cy="132.3" r="5.0" fill="#F8766D"/>
<circle cx="1146.5" cy="132.7" r="5.0" fill="#F8766D"/>
<circle cx="1148.7" cy="130.2" r="5.0" fill="#F8766D"/>
<circle cx="1150.8" cy="132.7" r="5.0" fill="#F8766D"/>
<circle cx="1155.1" cy="134.5" r="5.0" fill="#F8766D"/>
<circle cx="1157.3" cy="136.3" r="5.0" fill="#F8766D"/>
<circle cx="1112.2" cy="161.7" r="5.0" fill="#F8766D"/>
<circle cx="1139.4" cy="128.7" r="5.0" fill="#F8766D"/>
<circle cx="1142.9" cy="130.5" r="5.0" fill="#F8766D"/>
<circle cx="1145.1" cy="128.0" r="5.0" fill="#F8766D"/>
<circle cx="1147.2" cy="130.5" r="5.0" fill="#F8766D"/>
<circle cx="1140.1" cy="130.9" r="5.0" fill="#F8766D"/>
<circle cx="1137.2" cy="129.1" r="5.0" fill="#F8766D"/>
<circle cx="1139.4" cy="126.6" r="5.0" fill="#F8766D"/>
<circle cx="1134.3" cy="129.5" r="5.0" fill="#F8766D"/>
<circle cx="1142.9" cy="128.4" r="5.0" fill="#F8766D"/>
<circle cx="1145.1" cy="130.9" r="5.0" fill="#F8766D"/>
<circle cx="1137.9" cy="131.3" r="5.0" fill="#F8766D"/>
<circle cx="1147.2" cy="128.4" r="5.0" fill="#F8766D"/>
<circle cx="1140.1" cy="128.7" r="5.0" fill="#F8766D"/>
<circle cx="1153.7" cy="132.7" r="5.0" fill="#F8766D"/>
<circle cx="1160.1" cy="136.3" r="5.0" fill="#F8766D"/>
<circle cx="1121.5" cy="142.3" r="6.0" fill="#00BFC4"/>
<circle cx="1121.5" cy="145.2" r="6.0" fill="#00BFC4"/>
<circle cx="1135.1" cy="137.3" r="6.0" fill="#00BFC4"/>
<circle cx="1147.2" cy="135.9" r="6.0" fill="#00BFC4"/>
<circle cx="1140.8" cy="137.3" r="6.0" fill="#00BFC4"/>
<circle cx="1133.6" cy="150.2" r="6.0" fill="#00BFC4"/>
<circle cx="1145.1" cy="148.8" r="6.0" fill="#00BFC4"/>
<circle cx="1151.5" cy="150.2" r="6.0" fill="#00BFC4"/>
<circle cx="1155.1" cy="155.9" r="6.0" fill="#00BFC4"/>
<circle cx="1130.1" cy="155.9" r="6.0" fill="#00BFC4"/>
<circle cx="1140.8" cy="155.9" r="6.0" fill="#00BFC4"/>
<circle cx="1120.0" cy="164.5" r="6.0" fill="#00BFC4"/>
<circle cx="1130.1" cy="164.5" r="6.0" fill="#00BFC4"/>
<circle cx="1140.8" cy="164.5" r="6.0" fill="#00BFC4"/>
<circle cx="1149.4" cy="166.0" r="6.0" fill="#00BFC4"/>
<circle cx="1162.3" cy="165.3" r="6.0" fill="#00BFC4"/>
<circle cx="1161.5" cy="166.0" r="6.0" fill="#00BFC4"/>
<circle cx="1133.6" cy="143.1" r="6.0" fill="#00BFC4"/>
<circle cx="1145.1" cy="143.1" r="6.0" fill="#00BFC4"/>
<circle cx="1126.5" cy="153.1" r="6.0" fill="#00BFC4"/>
<circle cx="1137.2" cy="145.9" r="6.0" fill="#00BFC4"/>
<circle cx="1121.5" cy="143.8" r="5.0" fill="#00BFC4"/>
<circle cx="1127.5" cy="142.7" r="5.0" fill="#00BFC4"/>
<circle cx="1124.0" cy="147.7" r="5.0" fill="#00BFC4"/>
<circle cx="1127.5" cy="144.1" r="5.0" fill="#00BFC4"/>
<circle cx="1124.0" cy="149.1" r="5.0" fill="#00BFC4"/>
<circle cx="1141.1" cy="136.6" r="5.0" fill="#00BFC4"/>
<circle cx="1137.9" cy="137.3" r="5.0" fill="#00BFC4"/>
<circle cx="1134.3" cy="140.2" r="5.0" fill="#00BFC4"/>
<circle cx="1140.1" cy="140.2" r="5.0" fill="#00BFC4"/>
<circle cx="1136.1" cy="141.6" r="5.0" fill="#00BFC4"/>
<circle cx="1144.0" cy="136.6" r="5.0" fill="#00BFC4"/>
<circle cx="1146.2" cy="139.5" r="5.0" fill="#00BFC4"/>
<circle cx="1142.9" cy="143.1" r="5.0" fill="#00BFC4"/>
<circle cx="1137.2" cy="140.2" r="5.0" fill="#00BFC4"/>
<circle cx="1142.9" cy="140.2" r="5.0" fill="#00BFC4"/>
<circle cx="1139.0" cy="141.6" r="5.0" fill="#00BFC4"/>
<circle cx="1139.4" cy="149.5" r="5.0" fill="#00BFC4"/>
<circle cx="1131.8" cy="153.1" r="5.0" fill="#00BFC4"/>
<circle cx="1137.2" cy="153.1" r="5.0" fill="#00BFC4"/>
<circle cx="1133.6" cy="146.6" r="5.0" fill="#00BFC4"/>
<circle cx="1130.1" cy="151.7" r="5.0" fill="#00BFC4"/>
<circle cx="1135.4" cy="148.1" r="5.0" fill="#00BFC4"/>
<circle cx="1148.3" cy="149.5" r="5.0" fill="#00BFC4"/>
<circle cx="1150.1" cy="152.4" r="5.0" fill="#00BFC4"/>
<circle cx="1142.9" cy="152.4" r="5.0" fill="#00BFC4"/>
<circle cx="1145.1" cy="145.9" r="5.0" fill="#00BFC4"/>
<circle cx="1141.1" cy="147.4" r="5.0" fill="#00BFC4"/>
<circle cx="1153.3" cy="153.1" r="5.0" fill="#00BFC4"/>
<circle cx="1146.2" cy="153.1" r="5.0" fill="#00BFC4"/>
<circle cx="1148.3" cy="146.6" r="5.0" fill="#00BFC4"/>
<circle cx="1152.2" cy="161.0" r="5.0" fill="#00BFC4"/>
<circle cx="1158.7" cy="160.6" r="5.0" fill="#00BFC4"/>
<circle cx="1158.3" cy="161.0" r="5.0" fill="#00BFC4"/>
<circle cx="1135.4" cy="155.9" r="5.0" fill="#00BFC4"/>
<circle cx="1130.1" cy="160.2" r="5.0" fill="#00BFC4"/>
<circle cx="1128.3" cy="154.5" r="5.0" fill="#00BFC4"/>
<circle cx="1133.6" cy="150.9" r="5.0" fill="#00BFC4"/>
<circle cx="1140.8" cy="160.2" r="5.0" fill="#00BFC4"/>
<circle cx="1139.0" cy="150.9" r="5.0" fill="#00BFC4"/>
<circle cx="1125.0" cy="164.5" r="5.0" fill="#00BFC4"/>
<circle cx="1135.4" cy="164.5" r="5.0" fill="#00BFC4"/>
<circle cx="1128.3" cy="158.8" r="5.0" fill="#00BFC4"/>
<circle cx="1145.1" cy="165.3" r="5.0" fill="#00BFC4"/>
<circle cx="1155.5" cy="166.0" r="5.0" fill="#00BFC4"/>
<circle cx="1161.9" cy="165.6" r="5.0" fill="#00BFC4"/>
<circle cx="1139.4" cy="143.1" r="5.0" fill="#00BFC4"/>
<circle cx="1130.1" cy="148.1" r="5.0" fill="#00BFC4"/>
<circle cx="1135.4" cy="144.5" r="5.0" fill="#00BFC4"/>
<circle cx="1141.1" cy="144.5" r="5.0" fill="#00BFC4"/>
<line x1="1115.7" y1="142.3" x2="1149.4" y2="142.7" stroke="#F8766D" stroke-width="2.7"/>
<rect x="1108.70" y="117.20" width="63.2" height="54.2" fill="none" stroke="#333" stroke-width="3.2"/></g>
<line x1="1100.70" y1="129.29999999999998" x2="1108.70" y2="129.29999999999998" stroke="#333" stroke-width="2.8"/>
<text transform="translate(1093.40,137.50) scale(1.16,1)" font-size="22" text-anchor="end" fill="#4D4D4D">9</text>
<line x1="1100.70" y1="143.1" x2="1108.70" y2="143.1" stroke="#333" stroke-width="2.8"/>
<text transform="translate(1093.40,151.30) scale(1.16,1)" font-size="22" text-anchor="end" fill="#4D4D4D">6</text>
<line x1="1100.70" y1="156.6" x2="1108.70" y2="156.6" stroke="#333" stroke-width="2.8"/>
<text transform="translate(1093.40,164.80) scale(1.16,1)" font-size="22" text-anchor="end" fill="#4D4D4D">3</text>
<line x1="1100.70" y1="170.1" x2="1108.70" y2="170.1" stroke="#333" stroke-width="2.8"/>
<text transform="translate(1093.40,178.30) scale(1.16,1)" font-size="22" text-anchor="end" fill="#4D4D4D">0</text>
<g clip-path="url(#s6)"><rect x="164.20" y="188.15" width="63.2" height="49.2" fill="#D9D9D9" stroke="#333" stroke-width="3.2"/>
<text x="195.80" y="222.15" font-size="25" text-anchor="middle" fill="#1A1A1A">SERPINA1</text></g>
<g clip-path="url(#p6)"><rect x="164.20" y="237.35" width="63.2" height="54.2" fill="#fff"/>
<circle cx="167.9" cy="252.0" r="6.0" fill="#F8766D"/>
<circle cx="167.9" cy="264.5" r="6.0" fill="#F8766D"/>
<circle cx="182.2" cy="254.5" r="6.0" fill="#F8766D"/>
<circle cx="193.6" cy="245.9" r="6.0" fill="#F8766D"/>
<circle cx="204.4" cy="244.5" r="6.0" fill="#F8766D"/>
<circle cx="214.4" cy="247.3" r="6.0" fill="#F8766D"/>
<circle cx="221.6" cy="255.9" r="6.0" fill="#F8766D"/>
<circle cx="220.8" cy="265.9" r="6.0" fill="#F8766D"/>
<circle cx="220.1" cy="277.4" r="6.0" fill="#F8766D"/>
<circle cx="215.8" cy="284.5" r="6.0" fill="#F8766D"/>
<circle cx="210.1" cy="286.0" r="6.0" fill="#F8766D"/>
<circle cx="190.1" cy="254.5" r="6.0" fill="#F8766D"/>
<circle cx="200.1" cy="253.0" r="6.0" fill="#F8766D"/>
<circle cx="210.1" cy="256.6" r="6.0" fill="#F8766D"/>
<circle cx="175.0" cy="283.1" r="6.0" fill="#F8766D"/>
<circle cx="187.2" cy="250.9" r="6.0" fill="#F8766D"/>
<circle cx="198.7" cy="250.2" r="6.0" fill="#F8766D"/>
<circle cx="206.5" cy="251.6" r="6.0" fill="#F8766D"/>
<circle cx="214.4" cy="254.5" r="6.0" fill="#F8766D"/>
<circle cx="217.3" cy="261.6" r="6.0" fill="#F8766D"/>
<circle cx="211.5" cy="268.8" r="6.0" fill="#F8766D"/>
<circle cx="217.3" cy="273.1" r="6.0" fill="#F8766D"/>
<circle cx="178.6" cy="260.2" r="6.0" fill="#F8766D"/>
<circle cx="175.7" cy="256.6" r="6.0" fill="#F8766D"/>
<circle cx="187.2" cy="260.2" r="6.0" fill="#F8766D"/>
<circle cx="181.5" cy="263.1" r="6.0" fill="#F8766D"/>
<circle cx="171.8" cy="254.3" r="5.0" fill="#F8766D"/>
<circle cx="173.2" cy="262.3" r="5.0" fill="#F8766D"/>
<circle cx="171.8" cy="260.6" r="5.0" fill="#F8766D"/>
<circle cx="186.1" cy="254.5" r="5.0" fill="#F8766D"/>
<circle cx="184.7" cy="252.7" r="5.0" fill="#F8766D"/>
<circle cx="180.4" cy="257.3" r="5.0" fill="#F8766D"/>
<circle cx="179.0" cy="255.5" r="5.0" fill="#F8766D"/>
<circle cx="184.7" cy="257.3" r="5.0" fill="#F8766D"/>
<circle cx="181.8" cy="258.8" r="5.0" fill="#F8766D"/>
<circle cx="199.0" cy="245.2" r="5.0" fill="#F8766D"/>
<circle cx="191.9" cy="250.2" r="5.0" fill="#F8766D"/>
<circle cx="196.9" cy="249.5" r="5.0" fill="#F8766D"/>
<circle cx="190.4" cy="248.4" r="5.0" fill="#F8766D"/>
<circle cx="196.1" cy="248.0" r="5.0" fill="#F8766D"/>
<circle cx="209.4" cy="245.9" r="5.0" fill="#F8766D"/>
<circle cx="202.2" cy="248.7" r="5.0" fill="#F8766D"/>
<circle cx="201.5" cy="247.3" r="5.0" fill="#F8766D"/>
<circle cx="205.5" cy="248.0" r="5.0" fill="#F8766D"/>
<circle cx="218.0" cy="251.6" r="5.0" fill="#F8766D"/>
<circle cx="212.3" cy="252.0" r="5.0" fill="#F8766D"/>
<circle cx="210.5" cy="249.5" r="5.0" fill="#F8766D"/>
<circle cx="214.4" cy="250.9" r="5.0" fill="#F8766D"/>
<circle cx="221.2" cy="260.9" r="5.0" fill="#F8766D"/>
<circle cx="215.8" cy="256.3" r="5.0" fill="#F8766D"/>
<circle cx="218.0" cy="255.2" r="5.0" fill="#F8766D"/>
<circle cx="219.4" cy="258.8" r="5.0" fill="#F8766D"/>
<circle cx="220.5" cy="271.7" r="5.0" fill="#F8766D"/>
<circle cx="219.1" cy="263.8" r="5.0" fill="#F8766D"/>
<circle cx="216.2" cy="267.4" r="5.0" fill="#F8766D"/>
<circle cx="219.1" cy="269.5" r="5.0" fill="#F8766D"/>
<circle cx="218.0" cy="281.0" r="5.0" fill="#F8766D"/>
<circle cx="215.8" cy="273.1" r="5.0" fill="#F8766D"/>
<circle cx="218.7" cy="275.2" r="5.0" fill="#F8766D"/>
<circle cx="213.0" cy="285.3" r="5.0" fill="#F8766D"/>
<circle cx="216.5" cy="278.8" r="5.0" fill="#F8766D"/>
<circle cx="195.1" cy="253.8" r="5.0" fill="#F8766D"/>
<circle cx="188.6" cy="252.7" r="5.0" fill="#F8766D"/>
<circle cx="194.4" cy="252.3" r="5.0" fill="#F8766D"/>
<circle cx="188.6" cy="257.3" r="5.0" fill="#F8766D"/>
<circle cx="185.8" cy="258.8" r="5.0" fill="#F8766D"/>
<circle cx="205.1" cy="254.8" r="5.0" fill="#F8766D"/>
<circle cx="199.4" cy="251.6" r="5.0" fill="#F8766D"/>
<circle cx="203.3" cy="252.3" r="5.0" fill="#F8766D"/>
<circle cx="208.3" cy="254.1" r="5.0" fill="#F8766D"/>
<circle cx="212.3" cy="255.5" r="5.0" fill="#F8766D"/>
<circle cx="213.7" cy="259.1" r="5.0" fill="#F8766D"/>
<circle cx="210.8" cy="262.7" r="5.0" fill="#F8766D"/>
<circle cx="192.9" cy="250.5" r="5.0" fill="#F8766D"/>
<circle cx="187.2" cy="255.5" r="5.0" fill="#F8766D"/>
<circle cx="202.6" cy="250.9" r="5.0" fill="#F8766D"/>
<circle cx="210.5" cy="253.0" r="5.0" fill="#F8766D"/>
<circle cx="215.8" cy="258.1" r="5.0" fill="#F8766D"/>
<circle cx="214.4" cy="265.2" r="5.0" fill="#F8766D"/>
<circle cx="217.3" cy="267.4" r="5.0" fill="#F8766D"/>
<circle cx="214.4" cy="270.9" r="5.0" fill="#F8766D"/>
<circle cx="177.2" cy="258.4" r="5.0" fill="#F8766D"/>
<circle cx="182.9" cy="260.2" r="5.0" fill="#F8766D"/>
<circle cx="180.0" cy="261.6" r="5.0" fill="#F8766D"/>
<circle cx="181.5" cy="258.4" r="5.0" fill="#F8766D"/>
<circle cx="178.6" cy="259.8" r="5.0" fill="#F8766D"/>
<circle cx="184.3" cy="261.6" r="5.0" fill="#F8766D"/>
<circle cx="205.8" cy="256.6" r="6.0" fill="#00BFC4"/>
<circle cx="182.9" cy="270.2" r="6.0" fill="#00BFC4"/>
<circle cx="194.4" cy="267.4" r="6.0" fill="#00BFC4"/>
<circle cx="201.5" cy="263.8" r="6.0" fill="#00BFC4"/>
<circle cx="218.0" cy="270.2" r="6.0" fill="#00BFC4"/>
<circle cx="211.5" cy="275.9" r="6.0" fill="#00BFC4"/>
<circle cx="202.9" cy="273.1" r="6.0" fill="#00BFC4"/>
<circle cx="192.2" cy="275.9" r="6.0" fill="#00BFC4"/>
<circle cx="183.6" cy="274.5" r="6.0" fill="#00BFC4"/>
<circle cx="177.2" cy="285.3" r="6.0" fill="#00BFC4"/>
<circle cx="187.2" cy="284.5" r="6.0" fill="#00BFC4"/>
<circle cx="198.7" cy="284.5" r="6.0" fill="#00BFC4"/>
<circle cx="202.9" cy="281.7" r="6.0" fill="#00BFC4"/>
<circle cx="181.5" cy="287.4" r="6.0" fill="#00BFC4"/>
<circle cx="192.9" cy="287.4" r="6.0" fill="#00BFC4"/>
<circle cx="203.7" cy="260.2" r="5.0" fill="#00BFC4"/>
<circle cx="188.6" cy="268.8" r="5.0" fill="#00BFC4"/>
<circle cx="187.6" cy="273.1" r="5.0" fill="#00BFC4"/>
<circle cx="183.3" cy="272.4" r="5.0" fill="#00BFC4"/>
<circle cx="197.9" cy="265.6" r="5.0" fill="#00BFC4"/>
<circle cx="198.7" cy="270.2" r="5.0" fill="#00BFC4"/>
<circle cx="193.3" cy="271.7" r="5.0" fill="#00BFC4"/>
<circle cx="202.2" cy="268.4" r="5.0" fill="#00BFC4"/>
<circle cx="214.8" cy="273.1" r="5.0" fill="#00BFC4"/>
<circle cx="207.2" cy="274.5" r="5.0" fill="#00BFC4"/>
<circle cx="207.2" cy="278.8" r="5.0" fill="#00BFC4"/>
<circle cx="197.6" cy="274.5" r="5.0" fill="#00BFC4"/>
<circle cx="200.8" cy="278.8" r="5.0" fill="#00BFC4"/>
<circle cx="202.9" cy="277.4" r="5.0" fill="#00BFC4"/>
<circle cx="187.9" cy="275.2" r="5.0" fill="#00BFC4"/>
<circle cx="189.7" cy="280.2" r="5.0" fill="#00BFC4"/>
<circle cx="195.4" cy="280.2" r="5.0" fill="#00BFC4"/>
<circle cx="197.6" cy="278.8" r="5.0" fill="#00BFC4"/>
<circle cx="192.6" cy="281.7" r="5.0" fill="#00BFC4"/>
<circle cx="185.4" cy="279.5" r="5.0" fill="#00BFC4"/>
<circle cx="182.2" cy="284.9" r="5.0" fill="#00BFC4"/>
<circle cx="179.3" cy="286.3" r="5.0" fill="#00BFC4"/>
<circle cx="192.9" cy="284.5" r="5.0" fill="#00BFC4"/>
<circle cx="184.3" cy="286.0" r="5.0" fill="#00BFC4"/>
<circle cx="190.1" cy="286.0" r="5.0" fill="#00BFC4"/>
<circle cx="200.8" cy="283.1" r="5.0" fill="#00BFC4"/>
<circle cx="195.8" cy="286.0" r="5.0" fill="#00BFC4"/>
<circle cx="197.9" cy="284.5" r="5.0" fill="#00BFC4"/>
<circle cx="187.2" cy="287.4" r="5.0" fill="#00BFC4"/>
<line x1="168.9" y1="275.9" x2="210.8" y2="264.5" stroke="#F8766D" stroke-width="2.7"/>
<rect x="164.20" y="237.35" width="63.2" height="54.2" fill="none" stroke="#333" stroke-width="3.2"/></g>
<line x1="156.20" y1="249.39999999999998" x2="164.20" y2="249.39999999999998" stroke="#333" stroke-width="2.8"/>
<text transform="translate(148.90,257.60) scale(1.16,1)" font-size="22" text-anchor="end" fill="#4D4D4D">9</text>
<line x1="156.20" y1="262.8" x2="164.20" y2="262.8" stroke="#333" stroke-width="2.8"/>
<text transform="translate(148.90,271.00) scale(1.16,1)" font-size="22" text-anchor="end" fill="#4D4D4D">6</text>
<line x1="156.20" y1="276.09999999999997" x2="164.20" y2="276.09999999999997" stroke="#333" stroke-width="2.8"/>
<text transform="translate(148.90,284.30) scale(1.16,1)" font-size="22" text-anchor="end" fill="#4D4D4D">3</text>
<line x1="156.20" y1="289.7" x2="164.20" y2="289.7" stroke="#333" stroke-width="2.8"/>
<text transform="translate(148.90,297.90) scale(1.16,1)" font-size="22" text-anchor="end" fill="#4D4D4D">0</text>
<g clip-path="url(#s7)"><rect x="353.10" y="188.15" width="63.2" height="49.2" fill="#D9D9D9" stroke="#333" stroke-width="3.2"/>
<text x="384.70" y="222.15" font-size="25" text-anchor="middle" fill="#1A1A1A">NQ1C</text></g>
<g clip-path="url(#p7)"><rect x="353.10" y="237.35" width="63.2" height="54.2" fill="#fff"/>
<circle cx="377.6" cy="247.3" r="6.0" fill="#F8766D"/>
<circle cx="386.2" cy="244.5" r="6.0" fill="#F8766D"/>
<circle cx="400.5" cy="243.7" r="6.0" fill="#F8766D"/>
<circle cx="409.1" cy="251.6" r="6.0" fill="#F8766D"/>
<circle cx="403.4" cy="256.6" r="6.0" fill="#F8766D"/>
<circle cx="399.1" cy="261.6" r="6.0" fill="#F8766D"/>
<circle cx="372.6" cy="263.8" r="6.0" fill="#F8766D"/>
<circle cx="376.2" cy="267.4" r="6.0" fill="#F8766D"/>
<circle cx="407.7" cy="274.5" r="6.0" fill="#F8766D"/>
<circle cx="408.4" cy="281.7" r="6.0" fill="#F8766D"/>
<circle cx="356.9" cy="287.4" r="6.0" fill="#F8766D"/>
<circle cx="399.5" cy="251.6" r="6.0" fill="#F8766D"/>
<circle cx="403.4" cy="249.5" r="6.0" fill="#F8766D"/>
<circle cx="406.3" cy="261.6" r="6.0" fill="#F8766D"/>
<circle cx="381.9" cy="245.9" r="5.0" fill="#F8766D"/>
<circle cx="404.8" cy="247.7" r="5.0" fill="#F8766D"/>
<circle cx="400.0" cy="247.7" r="5.0" fill="#F8766D"/>
<circle cx="402.0" cy="246.6" r="5.0" fill="#F8766D"/>
<circle cx="406.3" cy="254.1" r="5.0" fill="#F8766D"/>
<circle cx="404.3" cy="251.6" r="5.0" fill="#F8766D"/>
<circle cx="406.3" cy="250.5" r="5.0" fill="#F8766D"/>
<circle cx="407.7" cy="256.6" r="5.0" fill="#F8766D"/>
<circle cx="401.3" cy="259.1" r="5.0" fill="#F8766D"/>
<circle cx="401.4" cy="254.1" r="5.0" fill="#F8766D"/>
<circle cx="403.4" cy="253.0" r="5.0" fill="#F8766D"/>
<circle cx="404.8" cy="259.1" r="5.0" fill="#F8766D"/>
<circle cx="399.3" cy="256.6" r="5.0" fill="#F8766D"/>
<circle cx="402.7" cy="261.6" r="5.0" fill="#F8766D"/>
<circle cx="374.4" cy="265.6" r="5.0" fill="#F8766D"/>
<circle cx="408.1" cy="278.1" r="5.0" fill="#F8766D"/>
<circle cx="401.4" cy="250.5" r="5.0" fill="#F8766D"/>
<circle cx="402.9" cy="256.6" r="5.0" fill="#F8766D"/>
<circle cx="391.9" cy="246.6" r="6.0" fill="#00BFC4"/>
<circle cx="371.9" cy="257.3" r="6.0" fill="#00BFC4"/>
<circle cx="382.6" cy="254.5" r="6.0" fill="#00BFC4"/>
<circle cx="389.1" cy="256.6" r="6.0" fill="#00BFC4"/>
<circle cx="381.2" cy="261.6" r="6.0" fill="#00BFC4"/>
<circle cx="394.8" cy="265.2" r="6.0" fill="#00BFC4"/>
<circle cx="384.8" cy="268.8" r="6.0" fill="#00BFC4"/>
<circle cx="376.2" cy="278.8" r="6.0" fill="#00BFC4"/>
<circle cx="386.2" cy="275.9" r="6.0" fill="#00BFC4"/>
<circle cx="394.8" cy="277.4" r="6.0" fill="#00BFC4"/>
<circle cx="408.4" cy="277.4" r="6.0" fill="#00BFC4"/>
<circle cx="404.8" cy="284.5" r="6.0" fill="#00BFC4"/>
<circle cx="365.5" cy="287.4" r="6.0" fill="#00BFC4"/>
<circle cx="376.2" cy="286.7" r="6.0" fill="#00BFC4"/>
<circle cx="388.4" cy="284.5" r="6.0" fill="#00BFC4"/>
<circle cx="397.7" cy="284.5" r="6.0" fill="#00BFC4"/>
<circle cx="382.6" cy="281.7" r="6.0" fill="#00BFC4"/>
<circle cx="387.3" cy="250.5" r="5.0" fill="#00BFC4"/>
<circle cx="390.5" cy="251.6" r="5.0" fill="#00BFC4"/>
<circle cx="377.3" cy="255.9" r="5.0" fill="#00BFC4"/>
<circle cx="376.6" cy="259.5" r="5.0" fill="#00BFC4"/>
<circle cx="385.9" cy="255.5" r="5.0" fill="#00BFC4"/>
<circle cx="381.9" cy="258.1" r="5.0" fill="#00BFC4"/>
<circle cx="385.1" cy="259.1" r="5.0" fill="#00BFC4"/>
<circle cx="391.9" cy="260.9" r="5.0" fill="#00BFC4"/>
<circle cx="383.0" cy="265.2" r="5.0" fill="#00BFC4"/>
<circle cx="389.8" cy="267.0" r="5.0" fill="#00BFC4"/>
<circle cx="394.8" cy="271.3" r="5.0" fill="#00BFC4"/>
<circle cx="385.5" cy="272.4" r="5.0" fill="#00BFC4"/>
<circle cx="381.2" cy="277.4" r="5.0" fill="#00BFC4"/>
<circle cx="376.2" cy="282.7" r="5.0" fill="#00BFC4"/>
<circle cx="379.4" cy="280.2" r="5.0" fill="#00BFC4"/>
<circle cx="390.5" cy="276.7" r="5.0" fill="#00BFC4"/>
<circle cx="387.3" cy="280.2" r="5.0" fill="#00BFC4"/>
<circle cx="384.4" cy="278.8" r="5.0" fill="#00BFC4"/>
<circle cx="399.8" cy="281.0" r="5.0" fill="#00BFC4"/>
<circle cx="391.6" cy="281.0" r="5.0" fill="#00BFC4"/>
<circle cx="396.2" cy="281.0" r="5.0" fill="#00BFC4"/>
<circle cx="406.6" cy="281.0" r="5.0" fill="#00BFC4"/>
<circle cx="401.3" cy="284.5" r="5.0" fill="#00BFC4"/>
<circle cx="370.8" cy="287.0" r="5.0" fill="#00BFC4"/>
<circle cx="382.3" cy="285.6" r="5.0" fill="#00BFC4"/>
<circle cx="379.4" cy="284.2" r="5.0" fill="#00BFC4"/>
<circle cx="393.0" cy="284.5" r="5.0" fill="#00BFC4"/>
<circle cx="385.5" cy="283.1" r="5.0" fill="#00BFC4"/>
<line x1="357.6" y1="282.4" x2="399.1" y2="261.6" stroke="#F8766D" stroke-width="2.7"/>
<line x1="391.9" y1="270.6" x2="407.7" y2="265.6" stroke="#00BFC4" stroke-width="2.7"/>
<rect x="353.10" y="237.35" width="63.2" height="54.2" fill="none" stroke="#333" stroke-width="3.2"/></g>
<line x1="345.10" y1="248.39999999999998" x2="353.10" y2="248.39999999999998" stroke="#333" stroke-width="2.8"/>
<text transform="translate(337.80,256.60) scale(1.16,1)" font-size="22" text-anchor="end" fill="#4D4D4D">7.5</text>
<line x1="345.10" y1="262.3" x2="353.10" y2="262.3" stroke="#333" stroke-width="2.8"/>
<text transform="translate(337.80,270.50) scale(1.16,1)" font-size="22" text-anchor="end" fill="#4D4D4D">5.0</text>
<line x1="345.10" y1="276.09999999999997" x2="353.10" y2="276.09999999999997" stroke="#333" stroke-width="2.8"/>
<text transform="translate(337.80,284.30) scale(1.16,1)" font-size="22" text-anchor="end" fill="#4D4D4D">2.5</text>
<line x1="345.10" y1="289.7" x2="353.10" y2="289.7" stroke="#333" stroke-width="2.8"/>
<text transform="translate(337.80,297.90) scale(1.16,1)" font-size="22" text-anchor="end" fill="#4D4D4D">0.0</text>
<g clip-path="url(#s8)"><rect x="542.00" y="188.15" width="63.2" height="49.2" fill="#D9D9D9" stroke="#333" stroke-width="3.2"/>
<text x="573.60" y="222.15" font-size="25" text-anchor="middle" fill="#1A1A1A">GPX3</text></g>
<g clip-path="url(#p8)"><rect x="542.00" y="237.35" width="63.2" height="54.2" fill="#fff"/>
<circle cx="558.8" cy="245.9" r="6.0" fill="#F8766D"/>
<circle cx="549.5" cy="256.6" r="6.0" fill="#F8766D"/>
<circle cx="585.2" cy="244.5" r="6.0" fill="#F8766D"/>
<circle cx="592.4" cy="243.7" r="6.0" fill="#F8766D"/>
<circle cx="598.1" cy="251.6" r="6.0" fill="#F8766D"/>
<circle cx="596.0" cy="260.9" r="6.0" fill="#F8766D"/>
<circle cx="589.5" cy="263.1" r="6.0" fill="#F8766D"/>
<circle cx="582.4" cy="273.1" r="6.0" fill="#F8766D"/>
<circle cx="546.6" cy="273.1" r="6.0" fill="#F8766D"/>
<circle cx="546.6" cy="287.4" r="6.0" fill="#F8766D"/>
<circle cx="570.2" cy="256.6" r="6.0" fill="#F8766D"/>
<circle cx="558.0" cy="265.2" r="6.0" fill="#F8766D"/>
<circle cx="588.1" cy="254.5" r="6.0" fill="#F8766D"/>
<circle cx="595.3" cy="254.5" r="6.0" fill="#F8766D"/>
<circle cx="592.4" cy="250.9" r="6.0" fill="#F8766D"/>
<circle cx="598.1" cy="256.6" r="6.0" fill="#F8766D"/>
<circle cx="588.1" cy="267.4" r="6.0" fill="#F8766D"/>
<circle cx="553.7" cy="260.9" r="5.0" fill="#F8766D"/>
<circle cx="588.8" cy="244.1" r="5.0" fill="#F8766D"/>
<circle cx="586.7" cy="249.5" r="5.0" fill="#F8766D"/>
<circle cx="588.8" cy="247.7" r="5.0" fill="#F8766D"/>
<circle cx="595.3" cy="247.7" r="5.0" fill="#F8766D"/>
<circle cx="590.3" cy="249.1" r="5.0" fill="#F8766D"/>
<circle cx="593.8" cy="249.1" r="5.0" fill="#F8766D"/>
<circle cx="592.4" cy="247.3" r="5.0" fill="#F8766D"/>
<circle cx="597.1" cy="256.3" r="5.0" fill="#F8766D"/>
<circle cx="593.1" cy="253.0" r="5.0" fill="#F8766D"/>
<circle cx="596.7" cy="253.0" r="5.0" fill="#F8766D"/>
<circle cx="595.3" cy="251.3" r="5.0" fill="#F8766D"/>
<circle cx="598.1" cy="254.1" r="5.0" fill="#F8766D"/>
<circle cx="592.8" cy="262.0" r="5.0" fill="#F8766D"/>
<circle cx="592.0" cy="257.7" r="5.0" fill="#F8766D"/>
<circle cx="595.6" cy="257.7" r="5.0" fill="#F8766D"/>
<circle cx="594.2" cy="255.9" r="5.0" fill="#F8766D"/>
<circle cx="597.1" cy="258.8" r="5.0" fill="#F8766D"/>
<circle cx="592.0" cy="264.1" r="5.0" fill="#F8766D"/>
<circle cx="586.0" cy="268.1" r="5.0" fill="#F8766D"/>
<circle cx="588.8" cy="258.8" r="5.0" fill="#F8766D"/>
<circle cx="592.4" cy="258.8" r="5.0" fill="#F8766D"/>
<circle cx="593.8" cy="259.8" r="5.0" fill="#F8766D"/>
<circle cx="588.8" cy="265.2" r="5.0" fill="#F8766D"/>
<circle cx="585.2" cy="270.2" r="5.0" fill="#F8766D"/>
<circle cx="591.7" cy="254.5" r="5.0" fill="#F8766D"/>
<circle cx="590.3" cy="252.7" r="5.0" fill="#F8766D"/>
<circle cx="593.1" cy="255.5" r="5.0" fill="#F8766D"/>
<circle cx="593.8" cy="252.7" r="5.0" fill="#F8766D"/>
<circle cx="596.7" cy="255.5" r="5.0" fill="#F8766D"/>
<circle cx="595.3" cy="253.8" r="5.0" fill="#F8766D"/>
<circle cx="563.1" cy="243.7" r="6.0" fill="#00BFC4"/>
<circle cx="555.2" cy="253.8" r="6.0" fill="#00BFC4"/>
<circle cx="568.1" cy="250.9" r="6.0" fill="#00BFC4"/>
<circle cx="573.8" cy="249.5" r="6.0" fill="#00BFC4"/>
<circle cx="583.8" cy="249.5" r="6.0" fill="#00BFC4"/>
<circle cx="559.5" cy="255.2" r="6.0" fill="#00BFC4"/>
<circle cx="565.2" cy="263.1" r="6.0" fill="#00BFC4"/>
<circle cx="575.2" cy="261.6" r="6.0" fill="#00BFC4"/>
<circle cx="586.7" cy="261.6" r="6.0" fill="#00BFC4"/>
<circle cx="592.4" cy="261.3" r="6.0" fill="#00BFC4"/>
<circle cx="556.6" cy="271.7" r="6.0" fill="#00BFC4"/>
<circle cx="568.8" cy="266.6" r="6.0" fill="#00BFC4"/>
<circle cx="575.9" cy="272.4" r="6.0" fill="#00BFC4"/>
<circle cx="558.8" cy="281.0" r="6.0" fill="#00BFC4"/>
<circle cx="572.4" cy="279.5" r="6.0" fill="#00BFC4"/>
<circle cx="580.9" cy="283.1" r="6.0" fill="#00BFC4"/>
<circle cx="596.7" cy="278.1" r="6.0" fill="#00BFC4"/>
<circle cx="594.5" cy="287.4" r="6.0" fill="#00BFC4"/>
<circle cx="561.6" cy="287.4" r="6.0" fill="#00BFC4"/>
<circle cx="570.9" cy="287.4" r="6.0" fill="#00BFC4"/>
<circle cx="584.5" cy="287.4" r="6.0" fill="#00BFC4"/>
<circle cx="565.6" cy="247.3" r="5.0" fill="#00BFC4"/>
<circle cx="568.4" cy="246.6" r="5.0" fill="#00BFC4"/>
<circle cx="561.3" cy="249.5" r="5.0" fill="#00BFC4"/>
<circle cx="557.3" cy="254.5" r="5.0" fill="#00BFC4"/>
<circle cx="570.9" cy="250.2" r="5.0" fill="#00BFC4"/>
<circle cx="563.8" cy="253.0" r="5.0" fill="#00BFC4"/>
<circle cx="578.8" cy="249.5" r="5.0" fill="#00BFC4"/>
<circle cx="574.5" cy="255.5" r="5.0" fill="#00BFC4"/>
<circle cx="562.3" cy="259.1" r="5.0" fill="#00BFC4"/>
<circle cx="570.2" cy="262.3" r="5.0" fill="#00BFC4"/>
<circle cx="560.9" cy="267.4" r="5.0" fill="#00BFC4"/>
<circle cx="567.0" cy="264.9" r="5.0" fill="#00BFC4"/>
<circle cx="580.9" cy="261.6" r="5.0" fill="#00BFC4"/>
<circle cx="572.0" cy="264.1" r="5.0" fill="#00BFC4"/>
<circle cx="575.6" cy="267.0" r="5.0" fill="#00BFC4"/>
<circle cx="589.5" cy="261.5" r="5.0" fill="#00BFC4"/>
<circle cx="557.7" cy="276.3" r="5.0" fill="#00BFC4"/>
<circle cx="572.4" cy="269.5" r="5.0" fill="#00BFC4"/>
<circle cx="574.1" cy="275.9" r="5.0" fill="#00BFC4"/>
<circle cx="578.4" cy="277.7" r="5.0" fill="#00BFC4"/>
<circle cx="560.2" cy="284.2" r="5.0" fill="#00BFC4"/>
<circle cx="576.7" cy="281.3" r="5.0" fill="#00BFC4"/>
<circle cx="571.6" cy="283.5" r="5.0" fill="#00BFC4"/>
<circle cx="575.9" cy="285.3" r="5.0" fill="#00BFC4"/>
<circle cx="582.7" cy="285.3" r="5.0" fill="#00BFC4"/>
<circle cx="595.6" cy="282.7" r="5.0" fill="#00BFC4"/>
<circle cx="589.5" cy="287.4" r="5.0" fill="#00BFC4"/>
<circle cx="566.3" cy="287.4" r="5.0" fill="#00BFC4"/>
<line x1="550.9" y1="258.8" x2="589.5" y2="254.5" stroke="#F8766D" stroke-width="2.7"/>
<rect x="542.00" y="237.35" width="63.2" height="54.2" fill="none" stroke="#333" stroke-width="3.2"/></g>
<line x1="534.00" y1="248.89999999999998" x2="542.00" y2="248.89999999999998" stroke="#333" stroke-width="2.8"/>
<text transform="translate(526.70,257.10) scale(1.16,1)" font-size="22" text-anchor="end" fill="#4D4D4D">9</text>
<line x1="534.00" y1="263.5" x2="542.00" y2="263.5" stroke="#333" stroke-width="2.8"/>
<text transform="translate(526.70,271.70) scale(1.16,1)" font-size="22" text-anchor="end" fill="#4D4D4D">6</text>
<line x1="534.00" y1="278.5" x2="542.00" y2="278.5" stroke="#333" stroke-width="2.8"/>
<text transform="translate(526.70,286.70) scale(1.16,1)" font-size="22" text-anchor="end" fill="#4D4D4D">3</text>
<g clip-path="url(#s9)"><rect x="730.90" y="188.15" width="63.2" height="49.2" fill="#D9D9D9" stroke="#333" stroke-width="3.2"/>
<text x="762.50" y="222.15" font-size="25" text-anchor="middle" fill="#1A1A1A">ALDH1A1</text></g>
<g clip-path="url(#p9)"><rect x="730.90" y="237.35" width="63.2" height="54.2" fill="#fff"/>
<circle cx="741.3" cy="253.0" r="6.0" fill="#F8766D"/>
<circle cx="750.6" cy="249.5" r="6.0" fill="#F8766D"/>
<circle cx="759.2" cy="245.2" r="6.0" fill="#F8766D"/>
<circle cx="768.5" cy="243.7" r="6.0" fill="#F8766D"/>
<circle cx="778.5" cy="243.7" r="6.0" fill="#F8766D"/>
<circle cx="787.1" cy="242.3" r="6.0" fill="#F8766D"/>
<circle cx="785.7" cy="249.5" r="6.0" fill="#F8766D"/>
<circle cx="782.8" cy="253.0" r="6.0" fill="#F8766D"/>
<circle cx="734.9" cy="269.5" r="6.0" fill="#F8766D"/>
<circle cx="734.9" cy="288.1" r="6.0" fill="#F8766D"/>
<circle cx="752.8" cy="287.4" r="6.0" fill="#F8766D"/>
<circle cx="757.1" cy="283.1" r="6.0" fill="#F8766D"/>
<circle cx="769.9" cy="273.1" r="6.0" fill="#F8766D"/>
<circle cx="748.5" cy="245.2" r="6.0" fill="#F8766D"/>
<circle cx="746.0" cy="251.3" r="5.0" fill="#F8766D"/>
<circle cx="744.9" cy="249.1" r="5.0" fill="#F8766D"/>
<circle cx="754.9" cy="247.3" r="5.0" fill="#F8766D"/>
<circle cx="749.5" cy="247.3" r="5.0" fill="#F8766D"/>
<circle cx="763.9" cy="244.5" r="5.0" fill="#F8766D"/>
<circle cx="753.8" cy="245.2" r="5.0" fill="#F8766D"/>
<circle cx="773.5" cy="243.7" r="5.0" fill="#F8766D"/>
<circle cx="782.8" cy="243.0" r="5.0" fill="#F8766D"/>
<circle cx="782.1" cy="246.6" r="5.0" fill="#F8766D"/>
<circle cx="780.7" cy="248.4" r="5.0" fill="#F8766D"/>
<circle cx="786.4" cy="245.9" r="5.0" fill="#F8766D"/>
<circle cx="785.0" cy="247.7" r="5.0" fill="#F8766D"/>
<circle cx="784.3" cy="251.3" r="5.0" fill="#F8766D"/>
<circle cx="754.9" cy="285.3" r="5.0" fill="#F8766D"/>
<circle cx="744.2" cy="256.6" r="6.0" fill="#00BFC4"/>
<circle cx="757.1" cy="254.5" r="6.0" fill="#00BFC4"/>
<circle cx="767.1" cy="252.3" r="6.0" fill="#00BFC4"/>
<circle cx="772.8" cy="251.6" r="6.0" fill="#00BFC4"/>
<circle cx="786.4" cy="262.3" r="6.0" fill="#00BFC4"/>
<circle cx="786.4" cy="265.9" r="6.0" fill="#00BFC4"/>
<circle cx="775.7" cy="263.8" r="6.0" fill="#00BFC4"/>
<circle cx="748.5" cy="268.8" r="6.0" fill="#00BFC4"/>
<circle cx="758.5" cy="265.2" r="6.0" fill="#00BFC4"/>
<circle cx="767.1" cy="265.9" r="6.0" fill="#00BFC4"/>
<circle cx="747.8" cy="279.5" r="6.0" fill="#00BFC4"/>
<circle cx="767.1" cy="275.2" r="6.0" fill="#00BFC4"/>
<circle cx="765.7" cy="285.3" r="6.0" fill="#00BFC4"/>
<circle cx="755.6" cy="271.7" r="6.0" fill="#00BFC4"/>
<circle cx="754.2" cy="274.5" r="6.0" fill="#00BFC4"/>
<circle cx="760.6" cy="270.2" r="6.0" fill="#00BFC4"/>
<circle cx="771.4" cy="268.8" r="6.0" fill="#00BFC4"/>
<circle cx="762.1" cy="253.4" r="5.0" fill="#00BFC4"/>
<circle cx="757.8" cy="259.8" r="5.0" fill="#00BFC4"/>
<circle cx="769.9" cy="252.0" r="5.0" fill="#00BFC4"/>
<circle cx="786.4" cy="264.1" r="5.0" fill="#00BFC4"/>
<circle cx="781.0" cy="263.1" r="5.0" fill="#00BFC4"/>
<circle cx="781.0" cy="264.9" r="5.0" fill="#00BFC4"/>
<circle cx="771.4" cy="264.9" r="5.0" fill="#00BFC4"/>
<circle cx="773.5" cy="266.3" r="5.0" fill="#00BFC4"/>
<circle cx="753.5" cy="267.0" r="5.0" fill="#00BFC4"/>
<circle cx="748.1" cy="274.2" r="5.0" fill="#00BFC4"/>
<circle cx="752.1" cy="270.2" r="5.0" fill="#00BFC4"/>
<circle cx="751.3" cy="271.7" r="5.0" fill="#00BFC4"/>
<circle cx="754.6" cy="269.5" r="5.0" fill="#00BFC4"/>
<circle cx="762.8" cy="265.6" r="5.0" fill="#00BFC4"/>
<circle cx="757.1" cy="268.4" r="5.0" fill="#00BFC4"/>
<circle cx="756.3" cy="269.9" r="5.0" fill="#00BFC4"/>
<circle cx="759.6" cy="267.7" r="5.0" fill="#00BFC4"/>
<circle cx="767.1" cy="270.6" r="5.0" fill="#00BFC4"/>
<circle cx="763.9" cy="268.1" r="5.0" fill="#00BFC4"/>
<circle cx="769.2" cy="267.4" r="5.0" fill="#00BFC4"/>
<circle cx="751.7" cy="275.6" r="5.0" fill="#00BFC4"/>
<circle cx="751.0" cy="277.0" r="5.0" fill="#00BFC4"/>
<circle cx="766.4" cy="280.2" r="5.0" fill="#00BFC4"/>
<circle cx="761.4" cy="273.4" r="5.0" fill="#00BFC4"/>
<circle cx="763.9" cy="272.7" r="5.0" fill="#00BFC4"/>
<circle cx="769.2" cy="272.0" r="5.0" fill="#00BFC4"/>
<circle cx="754.9" cy="273.1" r="5.0" fill="#00BFC4"/>
<circle cx="758.1" cy="270.9" r="5.0" fill="#00BFC4"/>
<circle cx="757.4" cy="272.4" r="5.0" fill="#00BFC4"/>
<circle cx="766.0" cy="269.5" r="5.0" fill="#00BFC4"/>
<line x1="732.7" y1="264.5" x2="778.5" y2="254.5" stroke="#F8766D" stroke-width="2.7"/>
<rect x="730.90" y="237.35" width="63.2" height="54.2" fill="none" stroke="#333" stroke-width="3.2"/></g>
<line x1="722.90" y1="250.1" x2="730.90" y2="250.1" stroke="#333" stroke-width="2.8"/>
<text transform="translate(715.60,258.30) scale(1.16,1)" font-size="22" text-anchor="end" fill="#4D4D4D">9</text>
<line x1="722.90" y1="265.4" x2="730.90" y2="265.4" stroke="#333" stroke-width="2.8"/>
<text transform="translate(715.60,273.60) scale(1.16,1)" font-size="22" text-anchor="end" fill="#4D4D4D">6</text>
<line x1="722.90" y1="281.0" x2="730.90" y2="281.0" stroke="#333" stroke-width="2.8"/>
<text transform="translate(715.60,289.20) scale(1.16,1)" font-size="22" text-anchor="end" fill="#4D4D4D">3</text>
<g clip-path="url(#s10)"><rect x="919.80" y="188.15" width="63.2" height="49.2" fill="#D9D9D9" stroke="#333" stroke-width="3.2"/>
<text x="951.40" y="222.15" font-size="25" text-anchor="middle" fill="#1A1A1A">PENK</text></g>
<g clip-path="url(#p10)"><rect x="919.80" y="237.35" width="63.2" height="54.2" fill="#fff"/>
<circle cx="945.3" cy="258.8" r="6.0" fill="#F8766D"/>
<circle cx="954.7" cy="255.2" r="6.0" fill="#F8766D"/>
<circle cx="963.2" cy="245.9" r="6.0" fill="#F8766D"/>
<circle cx="963.2" cy="251.6" r="6.0" fill="#F8766D"/>
<circle cx="975.4" cy="240.9" r="6.0" fill="#F8766D"/>
<circle cx="969.7" cy="254.5" r="6.0" fill="#F8766D"/>
<circle cx="969.0" cy="262.3" r="6.0" fill="#F8766D"/>
<circle cx="954.7" cy="263.1" r="6.0" fill="#F8766D"/>
<circle cx="951.8" cy="270.9" r="6.0" fill="#F8766D"/>
<circle cx="956.8" cy="275.2" r="6.0" fill="#F8766D"/>
<circle cx="923.9" cy="286.0" r="6.0" fill="#F8766D"/>
<circle cx="977.6" cy="285.3" r="6.0" fill="#F8766D"/>
<circle cx="950.0" cy="257.0" r="5.0" fill="#F8766D"/>
<circle cx="950.0" cy="260.9" r="5.0" fill="#F8766D"/>
<circle cx="958.9" cy="253.4" r="5.0" fill="#F8766D"/>
<circle cx="954.7" cy="259.1" r="5.0" fill="#F8766D"/>
<circle cx="963.2" cy="248.7" r="5.0" fill="#F8766D"/>
<circle cx="966.5" cy="250.2" r="5.0" fill="#F8766D"/>
<circle cx="966.5" cy="253.0" r="5.0" fill="#F8766D"/>
<circle cx="966.1" cy="257.0" r="5.0" fill="#F8766D"/>
<circle cx="969.3" cy="258.4" r="5.0" fill="#F8766D"/>
<circle cx="953.2" cy="267.0" r="5.0" fill="#F8766D"/>
<circle cx="955.7" cy="269.1" r="5.0" fill="#F8766D"/>
<circle cx="954.3" cy="273.1" r="5.0" fill="#F8766D"/>
<circle cx="932.5" cy="286.0" r="6.0" fill="#00BFC4"/>
<circle cx="941.1" cy="286.0" r="6.0" fill="#00BFC4"/>
<circle cx="949.6" cy="286.0" r="6.0" fill="#00BFC4"/>
<circle cx="958.2" cy="286.0" r="6.0" fill="#00BFC4"/>
<circle cx="966.8" cy="286.0" r="6.0" fill="#00BFC4"/>
<circle cx="974.7" cy="286.0" r="6.0" fill="#00BFC4"/>
<circle cx="966.1" cy="282.4" r="6.0" fill="#00BFC4"/>
<circle cx="936.8" cy="286.0" r="5.0" fill="#00BFC4"/>
<circle cx="945.3" cy="286.0" r="5.0" fill="#00BFC4"/>
<circle cx="953.9" cy="286.0" r="5.0" fill="#00BFC4"/>
<circle cx="962.5" cy="286.0" r="5.0" fill="#00BFC4"/>
<circle cx="962.2" cy="284.2" r="5.0" fill="#00BFC4"/>
<circle cx="970.8" cy="286.0" r="5.0" fill="#00BFC4"/>
<circle cx="966.5" cy="284.2" r="5.0" fill="#00BFC4"/>
<circle cx="970.4" cy="284.2" r="5.0" fill="#00BFC4"/>
<line x1="926.0" y1="288.1" x2="978.3" y2="278.1" stroke="#F8766D" stroke-width="2.7"/>
<rect x="919.80" y="237.35" width="63.2" height="54.2" fill="none" stroke="#333" stroke-width="3.2"/></g>
<line x1="911.80" y1="240.89999999999998" x2="919.80" y2="240.89999999999998" stroke="#333" stroke-width="2.8"/>
<text transform="translate(904.50,249.10) scale(1.16,1)" font-size="22" text-anchor="end" fill="#4D4D4D">8</text>
<line x1="911.80" y1="252.6" x2="919.80" y2="252.6" stroke="#333" stroke-width="2.8"/>
<text transform="translate(904.50,260.80) scale(1.16,1)" font-size="22" text-anchor="end" fill="#4D4D4D">6</text>
<line x1="911.80" y1="264.0" x2="919.80" y2="264.0" stroke="#333" stroke-width="2.8"/>
<text transform="translate(904.50,272.20) scale(1.16,1)" font-size="22" text-anchor="end" fill="#4D4D4D">4</text>
<line x1="911.80" y1="275.59999999999997" x2="919.80" y2="275.59999999999997" stroke="#333" stroke-width="2.8"/>
<text transform="translate(904.50,283.80) scale(1.16,1)" font-size="22" text-anchor="end" fill="#4D4D4D">2</text>
<line x1="911.80" y1="287.0" x2="919.80" y2="287.0" stroke="#333" stroke-width="2.8"/>
<text transform="translate(904.50,295.20) scale(1.16,1)" font-size="22" text-anchor="end" fill="#4D4D4D">0</text>
<g clip-path="url(#s11)"><rect x="1108.70" y="188.15" width="63.2" height="49.2" fill="#D9D9D9" stroke="#333" stroke-width="3.2"/>
<text x="1140.30" y="222.15" font-size="25" text-anchor="middle" fill="#1A1A1A">HBXIP</text></g>
<g clip-path="url(#p11)"><rect x="1108.70" y="237.35" width="63.2" height="54.2" fill="#fff"/>
<circle cx="1130.1" cy="243.7" r="6.0" fill="#F8766D"/>
<circle cx="1127.2" cy="248.7" r="6.0" fill="#F8766D"/>
<circle cx="1147.9" cy="243.7" r="6.0" fill="#F8766D"/>
<circle cx="1158.0" cy="249.5" r="6.0" fill="#F8766D"/>
<circle cx="1165.1" cy="256.6" r="6.0" fill="#F8766D"/>
<circle cx="1163.7" cy="265.2" r="6.0" fill="#F8766D"/>
<circle cx="1162.3" cy="267.4" r="6.0" fill="#F8766D"/>
<circle cx="1125.8" cy="277.4" r="6.0" fill="#F8766D"/>
<circle cx="1137.2" cy="281.7" r="6.0" fill="#F8766D"/>
<circle cx="1143.7" cy="288.1" r="6.0" fill="#F8766D"/>
<circle cx="1113.6" cy="288.1" r="6.0" fill="#F8766D"/>
<circle cx="1128.6" cy="246.2" r="5.0" fill="#F8766D"/>
<circle cx="1153.0" cy="246.6" r="5.0" fill="#F8766D"/>
<circle cx="1161.5" cy="253.0" r="5.0" fill="#F8766D"/>
<circle cx="1164.4" cy="260.9" r="5.0" fill="#F8766D"/>
<circle cx="1163.7" cy="262.0" r="5.0" fill="#F8766D"/>
<circle cx="1163.0" cy="266.3" r="5.0" fill="#F8766D"/>
<circle cx="1131.5" cy="279.5" r="5.0" fill="#F8766D"/>
<circle cx="1140.4" cy="284.9" r="5.0" fill="#F8766D"/>
<circle cx="1135.1" cy="245.9" r="6.0" fill="#00BFC4"/>
<circle cx="1147.9" cy="250.9" r="6.0" fill="#00BFC4"/>
<circle cx="1130.1" cy="251.6" r="6.0" fill="#00BFC4"/>
<circle cx="1120.7" cy="258.8" r="6.0" fill="#00BFC4"/>
<circle cx="1133.6" cy="258.1" r="6.0" fill="#00BFC4"/>
<circle cx="1145.1" cy="258.1" r="6.0" fill="#00BFC4"/>
<circle cx="1155.1" cy="256.6" r="6.0" fill="#00BFC4"/>
<circle cx="1163.7" cy="255.9" r="6.0" fill="#00BFC4"/>
<circle cx="1163.0" cy="263.1" r="6.0" fill="#00BFC4"/>
<circle cx="1150.1" cy="265.9" r="6.0" fill="#00BFC4"/>
<circle cx="1128.6" cy="265.2" r="6.0" fill="#00BFC4"/>
<circle cx="1139.4" cy="265.2" r="6.0" fill="#00BFC4"/>
<circle cx="1127.9" cy="277.4" r="6.0" fill="#00BFC4"/>
<circle cx="1126.5" cy="284.5" r="6.0" fill="#00BFC4"/>
<circle cx="1145.1" cy="278.1" r="6.0" fill="#00BFC4"/>
<circle cx="1150.1" cy="273.1" r="6.0" fill="#00BFC4"/>
<circle cx="1138.6" cy="273.1" r="6.0" fill="#00BFC4"/>
<circle cx="1135.1" cy="275.9" r="6.0" fill="#00BFC4"/>
<circle cx="1124.3" cy="287.4" r="6.0" fill="#00BFC4"/>
<circle cx="1145.1" cy="280.2" r="6.0" fill="#00BFC4"/>
<circle cx="1132.6" cy="248.7" r="5.0" fill="#00BFC4"/>
<circle cx="1134.3" cy="252.0" r="5.0" fill="#00BFC4"/>
<circle cx="1146.5" cy="254.5" r="5.0" fill="#00BFC4"/>
<circle cx="1151.5" cy="253.8" r="5.0" fill="#00BFC4"/>
<circle cx="1125.4" cy="255.2" r="5.0" fill="#00BFC4"/>
<circle cx="1131.8" cy="254.8" r="5.0" fill="#00BFC4"/>
<circle cx="1124.7" cy="262.0" r="5.0" fill="#00BFC4"/>
<circle cx="1139.4" cy="258.1" r="5.0" fill="#00BFC4"/>
<circle cx="1131.1" cy="261.6" r="5.0" fill="#00BFC4"/>
<circle cx="1136.5" cy="261.6" r="5.0" fill="#00BFC4"/>
<circle cx="1150.1" cy="257.3" r="5.0" fill="#00BFC4"/>
<circle cx="1147.6" cy="262.0" r="5.0" fill="#00BFC4"/>
<circle cx="1142.2" cy="261.6" r="5.0" fill="#00BFC4"/>
<circle cx="1159.4" cy="256.3" r="5.0" fill="#00BFC4"/>
<circle cx="1159.0" cy="259.8" r="5.0" fill="#00BFC4"/>
<circle cx="1152.6" cy="261.3" r="5.0" fill="#00BFC4"/>
<circle cx="1163.3" cy="259.5" r="5.0" fill="#00BFC4"/>
<circle cx="1144.7" cy="265.6" r="5.0" fill="#00BFC4"/>
<circle cx="1150.1" cy="269.5" r="5.0" fill="#00BFC4"/>
<circle cx="1134.0" cy="265.2" r="5.0" fill="#00BFC4"/>
<circle cx="1128.3" cy="271.3" r="5.0" fill="#00BFC4"/>
<circle cx="1139.0" cy="269.1" r="5.0" fill="#00BFC4"/>
<circle cx="1137.2" cy="270.6" r="5.0" fill="#00BFC4"/>
<circle cx="1127.2" cy="281.0" r="5.0" fill="#00BFC4"/>
<circle cx="1133.3" cy="275.2" r="5.0" fill="#00BFC4"/>
<circle cx="1131.5" cy="276.7" r="5.0" fill="#00BFC4"/>
<circle cx="1126.1" cy="282.4" r="5.0" fill="#00BFC4"/>
<circle cx="1130.8" cy="280.2" r="5.0" fill="#00BFC4"/>
<circle cx="1125.4" cy="286.0" r="5.0" fill="#00BFC4"/>
<circle cx="1147.6" cy="275.6" r="5.0" fill="#00BFC4"/>
<circle cx="1141.9" cy="275.6" r="5.0" fill="#00BFC4"/>
<circle cx="1140.1" cy="277.0" r="5.0" fill="#00BFC4"/>
<circle cx="1145.1" cy="279.2" r="5.0" fill="#00BFC4"/>
<circle cx="1144.4" cy="273.1" r="5.0" fill="#00BFC4"/>
<circle cx="1147.6" cy="276.7" r="5.0" fill="#00BFC4"/>
<circle cx="1136.9" cy="274.5" r="5.0" fill="#00BFC4"/>
<circle cx="1141.9" cy="276.7" r="5.0" fill="#00BFC4"/>
<circle cx="1140.1" cy="278.1" r="5.0" fill="#00BFC4"/>
<line x1="1112.9" y1="273.4" x2="1168.0" y2="253.0" stroke="#F8766D" stroke-width="2.7"/>
<line x1="1122.2" y1="269.1" x2="1168.0" y2="253.4" stroke="#00BFC4" stroke-width="2.7"/>
<rect x="1108.70" y="237.35" width="63.2" height="54.2" fill="none" stroke="#333" stroke-width="3.2"/></g>
<line x1="1100.70" y1="250.6" x2="1108.70" y2="250.6" stroke="#333" stroke-width="2.8"/>
<text transform="translate(1093.40,258.80) scale(1.16,1)" font-size="22" text-anchor="end" fill="#4D4D4D">7.5</text>
<line x1="1100.70" y1="263.5" x2="1108.70" y2="263.5" stroke="#333" stroke-width="2.8"/>
<text transform="translate(1093.40,271.70) scale(1.16,1)" font-size="22" text-anchor="end" fill="#4D4D4D">5.0</text>
<line x1="1100.70" y1="276.8" x2="1108.70" y2="276.8" stroke="#333" stroke-width="2.8"/>
<text transform="translate(1093.40,285.00) scale(1.16,1)" font-size="22" text-anchor="end" fill="#4D4D4D">2.5</text>
<line x1="1100.70" y1="289.7" x2="1108.70" y2="289.7" stroke="#333" stroke-width="2.8"/>
<text transform="translate(1093.40,297.90) scale(1.16,1)" font-size="22" text-anchor="end" fill="#4D4D4D">0.0</text>
<g clip-path="url(#s12)"><rect x="164.20" y="308.30" width="63.2" height="49.2" fill="#D9D9D9" stroke="#333" stroke-width="3.2"/>
<text x="195.80" y="342.30" font-size="25" text-anchor="middle" fill="#1A1A1A">CTSL1</text></g>
<g clip-path="url(#p12)"><rect x="164.20" y="357.50" width="63.2" height="54.2" fill="#fff"/>
<circle cx="181.5" cy="364.4" r="6.0" fill="#F8766D"/>
<circle cx="217.3" cy="361.9" r="6.0" fill="#F8766D"/>
<circle cx="211.5" cy="368.3" r="6.0" fill="#F8766D"/>
<circle cx="221.6" cy="382.6" r="6.0" fill="#F8766D"/>
<circle cx="219.4" cy="393.4" r="6.0" fill="#F8766D"/>
<circle cx="219.4" cy="408.4" r="6.0" fill="#F8766D"/>
<circle cx="180.0" cy="386.9" r="6.0" fill="#F8766D"/>
<circle cx="169.3" cy="408.4" r="6.0" fill="#F8766D"/>
<circle cx="206.5" cy="399.8" r="6.0" fill="#F8766D"/>
<circle cx="214.4" cy="375.5" r="6.0" fill="#F8766D"/>
<circle cx="214.4" cy="365.1" r="5.0" fill="#F8766D"/>
<circle cx="213.0" cy="371.9" r="5.0" fill="#F8766D"/>
<circle cx="220.5" cy="388.0" r="5.0" fill="#F8766D"/>
<circle cx="218.0" cy="379.1" r="5.0" fill="#F8766D"/>
<circle cx="177.2" cy="379.1" r="6.0" fill="#00BFC4"/>
<circle cx="185.1" cy="371.9" r="6.0" fill="#00BFC4"/>
<circle cx="193.6" cy="369.7" r="6.0" fill="#00BFC4"/>
<circle cx="200.1" cy="369.0" r="6.0" fill="#00BFC4"/>
<circle cx="207.2" cy="374.8" r="6.0" fill="#00BFC4"/>
<circle cx="218.7" cy="375.5" r="6.0" fill="#00BFC4"/>
<circle cx="188.6" cy="381.2" r="6.0" fill="#00BFC4"/>
<circle cx="199.4" cy="381.2" r="6.0" fill="#00BFC4"/>
<circle cx="181.5" cy="386.2" r="6.0" fill="#00BFC4"/>
<circle cx="192.2" cy="388.4" r="6.0" fill="#00BFC4"/>
<circle cx="204.4" cy="386.2" r="6.0" fill="#00BFC4"/>
<circle cx="210.1" cy="391.2" r="6.0" fill="#00BFC4"/>
<circle cx="215.8" cy="396.9" r="6.0" fill="#00BFC4"/>
<circle cx="217.3" cy="400.5" r="6.0" fill="#00BFC4"/>
<circle cx="184.3" cy="394.1" r="6.0" fill="#00BFC4"/>
<circle cx="195.8" cy="394.1" r="6.0" fill="#00BFC4"/>
<circle cx="182.9" cy="400.5" r="6.0" fill="#00BFC4"/>
<circle cx="192.2" cy="400.5" r="6.0" fill="#00BFC4"/>
<circle cx="202.9" cy="405.5" r="6.0" fill="#00BFC4"/>
<circle cx="180.0" cy="408.4" r="6.0" fill="#00BFC4"/>
<circle cx="192.2" cy="408.4" r="6.0" fill="#00BFC4"/>
<circle cx="181.1" cy="375.5" r="5.0" fill="#00BFC4"/>
<circle cx="182.9" cy="380.1" r="5.0" fill="#00BFC4"/>
<circle cx="179.3" cy="382.6" r="5.0" fill="#00BFC4"/>
<circle cx="189.3" cy="370.8" r="5.0" fill="#00BFC4"/>
<circle cx="186.8" cy="376.5" r="5.0" fill="#00BFC4"/>
<circle cx="196.9" cy="369.4" r="5.0" fill="#00BFC4"/>
<circle cx="203.7" cy="371.9" r="5.0" fill="#00BFC4"/>
<circle cx="199.7" cy="375.1" r="5.0" fill="#00BFC4"/>
<circle cx="213.0" cy="375.1" r="5.0" fill="#00BFC4"/>
<circle cx="203.3" cy="378.0" r="5.0" fill="#00BFC4"/>
<circle cx="205.8" cy="380.5" r="5.0" fill="#00BFC4"/>
<circle cx="194.0" cy="381.2" r="5.0" fill="#00BFC4"/>
<circle cx="185.1" cy="383.7" r="5.0" fill="#00BFC4"/>
<circle cx="190.4" cy="384.8" r="5.0" fill="#00BFC4"/>
<circle cx="195.8" cy="384.8" r="5.0" fill="#00BFC4"/>
<circle cx="201.9" cy="383.7" r="5.0" fill="#00BFC4"/>
<circle cx="186.8" cy="387.3" r="5.0" fill="#00BFC4"/>
<circle cx="182.9" cy="390.1" r="5.0" fill="#00BFC4"/>
<circle cx="198.3" cy="387.3" r="5.0" fill="#00BFC4"/>
<circle cx="188.3" cy="391.2" r="5.0" fill="#00BFC4"/>
<circle cx="194.0" cy="391.2" r="5.0" fill="#00BFC4"/>
<circle cx="192.2" cy="394.4" r="5.0" fill="#00BFC4"/>
<circle cx="207.2" cy="388.7" r="5.0" fill="#00BFC4"/>
<circle cx="200.1" cy="390.1" r="5.0" fill="#00BFC4"/>
<circle cx="213.0" cy="394.1" r="5.0" fill="#00BFC4"/>
<circle cx="213.7" cy="395.9" r="5.0" fill="#00BFC4"/>
<circle cx="216.5" cy="398.7" r="5.0" fill="#00BFC4"/>
<circle cx="190.1" cy="394.1" r="5.0" fill="#00BFC4"/>
<circle cx="183.6" cy="397.3" r="5.0" fill="#00BFC4"/>
<circle cx="188.3" cy="397.3" r="5.0" fill="#00BFC4"/>
<circle cx="194.0" cy="397.3" r="5.0" fill="#00BFC4"/>
<circle cx="187.6" cy="400.5" r="5.0" fill="#00BFC4"/>
<circle cx="181.5" cy="404.5" r="5.0" fill="#00BFC4"/>
<circle cx="187.6" cy="404.5" r="5.0" fill="#00BFC4"/>
<circle cx="197.6" cy="403.0" r="5.0" fill="#00BFC4"/>
<circle cx="192.2" cy="404.5" r="5.0" fill="#00BFC4"/>
<circle cx="197.6" cy="407.0" r="5.0" fill="#00BFC4"/>
<circle cx="186.1" cy="408.4" r="5.0" fill="#00BFC4"/>
<line x1="169.3" y1="401.6" x2="223.0" y2="380.5" stroke="#F8766D" stroke-width="2.7"/>
<rect x="164.20" y="357.50" width="63.2" height="54.2" fill="none" stroke="#333" stroke-width="3.2"/></g>
<line x1="156.20" y1="358.7" x2="164.20" y2="358.7" stroke="#333" stroke-width="2.8"/>
<text transform="translate(148.90,366.90) scale(1.16,1)" font-size="22" text-anchor="end" fill="#4D4D4D">10.0</text>
<line x1="156.20" y1="371.3" x2="164.20" y2="371.3" stroke="#333" stroke-width="2.8"/>
<text transform="translate(148.90,379.50) scale(1.16,1)" font-size="22" text-anchor="end" fill="#4D4D4D">7.5</text>
<line x1="156.20" y1="384.0" x2="164.20" y2="384.0" stroke="#333" stroke-width="2.8"/>
<text transform="translate(148.90,392.20) scale(1.16,1)" font-size="22" text-anchor="end" fill="#4D4D4D">5.0</text>
<line x1="156.20" y1="396.8" x2="164.20" y2="396.8" stroke="#333" stroke-width="2.8"/>
<text transform="translate(148.90,405.00) scale(1.16,1)" font-size="22" text-anchor="end" fill="#4D4D4D">2.5</text>
<line x1="156.20" y1="409.7" x2="164.20" y2="409.7" stroke="#333" stroke-width="2.8"/>
<text transform="translate(148.90,417.90) scale(1.16,1)" font-size="22" text-anchor="end" fill="#4D4D4D">0.0</text>
<g clip-path="url(#s13)"><rect x="353.10" y="308.30" width="63.2" height="49.2" fill="#D9D9D9" stroke="#333" stroke-width="3.2"/>
<text x="384.70" y="342.30" font-size="25" text-anchor="middle" fill="#1A1A1A">C20orf30</text></g>
<g clip-path="url(#p13)"><rect x="353.10" y="357.50" width="63.2" height="54.2" fill="#fff"/>
<circle cx="372.6" cy="361.9" r="6.0" fill="#F8766D"/>
<circle cx="389.1" cy="362.6" r="6.0" fill="#F8766D"/>
<circle cx="402.7" cy="366.2" r="6.0" fill="#F8766D"/>
<circle cx="410.6" cy="366.2" r="6.0" fill="#F8766D"/>
<circle cx="409.8" cy="377.6" r="6.0" fill="#F8766D"/>
<circle cx="408.4" cy="388.4" r="6.0" fill="#F8766D"/>
<circle cx="401.3" cy="398.4" r="6.0" fill="#F8766D"/>
<circle cx="407.0" cy="405.5" r="6.0" fill="#F8766D"/>
<circle cx="359.0" cy="408.4" r="6.0" fill="#F8766D"/>
<circle cx="370.5" cy="404.1" r="6.0" fill="#F8766D"/>
<circle cx="406.6" cy="366.2" r="5.0" fill="#F8766D"/>
<circle cx="410.2" cy="371.9" r="5.0" fill="#F8766D"/>
<circle cx="409.1" cy="383.0" r="5.0" fill="#F8766D"/>
<circle cx="404.8" cy="393.4" r="5.0" fill="#F8766D"/>
<circle cx="404.1" cy="402.0" r="5.0" fill="#F8766D"/>
<circle cx="364.7" cy="406.3" r="5.0" fill="#F8766D"/>
<circle cx="379.1" cy="364.7" r="6.0" fill="#00BFC4"/>
<circle cx="389.1" cy="368.3" r="6.0" fill="#00BFC4"/>
<circle cx="395.5" cy="370.5" r="6.0" fill="#00BFC4"/>
<circle cx="407.7" cy="371.2" r="6.0" fill="#00BFC4"/>
<circle cx="366.9" cy="374.8" r="6.0" fill="#00BFC4"/>
<circle cx="368.3" cy="381.2" r="6.0" fill="#00BFC4"/>
<circle cx="377.6" cy="375.5" r="6.0" fill="#00BFC4"/>
<circle cx="386.2" cy="376.9" r="6.0" fill="#00BFC4"/>
<circle cx="395.5" cy="375.5" r="6.0" fill="#00BFC4"/>
<circle cx="370.5" cy="386.9" r="6.0" fill="#00BFC4"/>
<circle cx="379.8" cy="386.2" r="6.0" fill="#00BFC4"/>
<circle cx="389.1" cy="386.2" r="6.0" fill="#00BFC4"/>
<circle cx="399.1" cy="389.8" r="6.0" fill="#00BFC4"/>
<circle cx="407.7" cy="384.1" r="6.0" fill="#00BFC4"/>
<circle cx="387.7" cy="394.1" r="6.0" fill="#00BFC4"/>
<circle cx="373.3" cy="404.1" r="6.0" fill="#00BFC4"/>
<circle cx="383.4" cy="403.4" r="6.0" fill="#00BFC4"/>
<circle cx="394.1" cy="403.4" r="6.0" fill="#00BFC4"/>
<circle cx="370.5" cy="408.4" r="6.0" fill="#00BFC4"/>
<circle cx="389.1" cy="408.4" r="6.0" fill="#00BFC4"/>
<circle cx="384.1" cy="366.5" r="5.0" fill="#00BFC4"/>
<circle cx="378.3" cy="370.1" r="5.0" fill="#00BFC4"/>
<circle cx="392.3" cy="369.4" r="5.0" fill="#00BFC4"/>
<circle cx="387.7" cy="372.6" r="5.0" fill="#00BFC4"/>
<circle cx="392.3" cy="371.9" r="5.0" fill="#00BFC4"/>
<circle cx="401.6" cy="370.8" r="5.0" fill="#00BFC4"/>
<circle cx="390.9" cy="373.7" r="5.0" fill="#00BFC4"/>
<circle cx="395.5" cy="373.0" r="5.0" fill="#00BFC4"/>
<circle cx="367.6" cy="378.0" r="5.0" fill="#00BFC4"/>
<circle cx="372.3" cy="375.1" r="5.0" fill="#00BFC4"/>
<circle cx="373.0" cy="378.3" r="5.0" fill="#00BFC4"/>
<circle cx="369.4" cy="384.1" r="5.0" fill="#00BFC4"/>
<circle cx="381.9" cy="376.2" r="5.0" fill="#00BFC4"/>
<circle cx="378.7" cy="380.8" r="5.0" fill="#00BFC4"/>
<circle cx="390.9" cy="376.2" r="5.0" fill="#00BFC4"/>
<circle cx="383.0" cy="381.6" r="5.0" fill="#00BFC4"/>
<circle cx="387.7" cy="381.6" r="5.0" fill="#00BFC4"/>
<circle cx="375.1" cy="386.6" r="5.0" fill="#00BFC4"/>
<circle cx="384.4" cy="386.2" r="5.0" fill="#00BFC4"/>
<circle cx="383.7" cy="390.1" r="5.0" fill="#00BFC4"/>
<circle cx="394.1" cy="388.0" r="5.0" fill="#00BFC4"/>
<circle cx="388.4" cy="390.1" r="5.0" fill="#00BFC4"/>
<circle cx="403.4" cy="386.9" r="5.0" fill="#00BFC4"/>
<circle cx="393.4" cy="391.9" r="5.0" fill="#00BFC4"/>
<circle cx="385.5" cy="398.7" r="5.0" fill="#00BFC4"/>
<circle cx="390.9" cy="398.7" r="5.0" fill="#00BFC4"/>
<circle cx="378.3" cy="403.7" r="5.0" fill="#00BFC4"/>
<circle cx="371.9" cy="406.3" r="5.0" fill="#00BFC4"/>
<circle cx="388.7" cy="403.4" r="5.0" fill="#00BFC4"/>
<circle cx="386.2" cy="405.9" r="5.0" fill="#00BFC4"/>
<circle cx="391.6" cy="405.9" r="5.0" fill="#00BFC4"/>
<line x1="357.6" y1="395.5" x2="412.0" y2="374.8" stroke="#F8766D" stroke-width="2.7"/>
<rect x="353.10" y="357.50" width="63.2" height="54.2" fill="none" stroke="#333" stroke-width="3.2"/></g>
<line x1="345.10" y1="368.9" x2="353.10" y2="368.9" stroke="#333" stroke-width="2.8"/>
<text transform="translate(337.80,377.10) scale(1.16,1)" font-size="22" text-anchor="end" fill="#4D4D4D">7.5</text>
<line x1="345.10" y1="382.3" x2="353.10" y2="382.3" stroke="#333" stroke-width="2.8"/>
<text transform="translate(337.80,390.50) scale(1.16,1)" font-size="22" text-anchor="end" fill="#4D4D4D">5.0</text>
<line x1="345.10" y1="396.09999999999997" x2="353.10" y2="396.09999999999997" stroke="#333" stroke-width="2.8"/>
<text transform="translate(337.80,404.30) scale(1.16,1)" font-size="22" text-anchor="end" fill="#4D4D4D">2.5</text>
<line x1="345.10" y1="409.7" x2="353.10" y2="409.7" stroke="#333" stroke-width="2.8"/>
<text transform="translate(337.80,417.90) scale(1.16,1)" font-size="22" text-anchor="end" fill="#4D4D4D">0.0</text>
<g clip-path="url(#s14)"><rect x="542.00" y="308.30" width="63.2" height="49.2" fill="#D9D9D9" stroke="#333" stroke-width="3.2"/>
<text x="573.60" y="342.30" font-size="25" text-anchor="middle" fill="#1A1A1A">STC1</text></g>
<g clip-path="url(#p14)"><rect x="542.00" y="357.50" width="63.2" height="54.2" fill="#fff"/>
<circle cx="578.1" cy="360.4" r="6.0" fill="#F8766D"/>
<circle cx="582.4" cy="378.0" r="6.0" fill="#F8766D"/>
<circle cx="566.3" cy="384.4" r="6.0" fill="#F8766D"/>
<circle cx="601.0" cy="381.2" r="6.0" fill="#F8766D"/>
<circle cx="592.4" cy="388.4" r="6.0" fill="#F8766D"/>
<circle cx="584.5" cy="394.1" r="6.0" fill="#F8766D"/>
<circle cx="595.3" cy="400.5" r="6.0" fill="#F8766D"/>
<circle cx="598.1" cy="404.1" r="6.0" fill="#F8766D"/>
<circle cx="546.6" cy="406.3" r="6.0" fill="#F8766D"/>
<circle cx="589.5" cy="404.1" r="6.0" fill="#F8766D"/>
<circle cx="596.7" cy="384.8" r="5.0" fill="#F8766D"/>
<circle cx="588.5" cy="391.2" r="5.0" fill="#F8766D"/>
<circle cx="587.0" cy="399.1" r="5.0" fill="#F8766D"/>
<circle cx="596.7" cy="402.3" r="5.0" fill="#F8766D"/>
<circle cx="592.4" cy="402.3" r="5.0" fill="#F8766D"/>
<circle cx="593.8" cy="404.1" r="5.0" fill="#F8766D"/>
<circle cx="573.8" cy="390.5" r="6.0" fill="#00BFC4"/>
<circle cx="583.1" cy="389.1" r="6.0" fill="#00BFC4"/>
<circle cx="597.4" cy="392.7" r="6.0" fill="#00BFC4"/>
<circle cx="596.7" cy="396.9" r="6.0" fill="#00BFC4"/>
<circle cx="565.9" cy="401.2" r="6.0" fill="#00BFC4"/>
<circle cx="575.9" cy="399.8" r="6.0" fill="#00BFC4"/>
<circle cx="555.2" cy="405.5" r="6.0" fill="#00BFC4"/>
<circle cx="563.8" cy="406.3" r="6.0" fill="#00BFC4"/>
<circle cx="572.4" cy="406.3" r="6.0" fill="#00BFC4"/>
<circle cx="580.9" cy="407.0" r="6.0" fill="#00BFC4"/>
<circle cx="588.1" cy="405.5" r="6.0" fill="#00BFC4"/>
<circle cx="558.0" cy="409.8" r="6.0" fill="#00BFC4"/>
<circle cx="568.1" cy="409.8" r="6.0" fill="#00BFC4"/>
<circle cx="578.1" cy="409.8" r="6.0" fill="#00BFC4"/>
<circle cx="578.4" cy="389.8" r="5.0" fill="#00BFC4"/>
<circle cx="574.9" cy="395.2" r="5.0" fill="#00BFC4"/>
<circle cx="597.1" cy="394.8" r="5.0" fill="#00BFC4"/>
<circle cx="592.4" cy="401.2" r="5.0" fill="#00BFC4"/>
<circle cx="570.9" cy="400.5" r="5.0" fill="#00BFC4"/>
<circle cx="560.5" cy="403.4" r="5.0" fill="#00BFC4"/>
<circle cx="564.8" cy="403.7" r="5.0" fill="#00BFC4"/>
<circle cx="569.1" cy="403.7" r="5.0" fill="#00BFC4"/>
<circle cx="562.0" cy="405.5" r="5.0" fill="#00BFC4"/>
<circle cx="567.0" cy="405.5" r="5.0" fill="#00BFC4"/>
<circle cx="574.1" cy="403.0" r="5.0" fill="#00BFC4"/>
<circle cx="578.4" cy="403.4" r="5.0" fill="#00BFC4"/>
<circle cx="577.0" cy="404.8" r="5.0" fill="#00BFC4"/>
<circle cx="559.5" cy="405.9" r="5.0" fill="#00BFC4"/>
<circle cx="556.6" cy="407.7" r="5.0" fill="#00BFC4"/>
<circle cx="568.1" cy="406.3" r="5.0" fill="#00BFC4"/>
<circle cx="560.9" cy="408.0" r="5.0" fill="#00BFC4"/>
<circle cx="565.9" cy="408.0" r="5.0" fill="#00BFC4"/>
<circle cx="576.7" cy="406.6" r="5.0" fill="#00BFC4"/>
<circle cx="570.2" cy="408.0" r="5.0" fill="#00BFC4"/>
<circle cx="575.2" cy="408.0" r="5.0" fill="#00BFC4"/>
<circle cx="584.5" cy="406.3" r="5.0" fill="#00BFC4"/>
<circle cx="579.5" cy="408.4" r="5.0" fill="#00BFC4"/>
<circle cx="583.1" cy="407.7" r="5.0" fill="#00BFC4"/>
<circle cx="563.1" cy="409.8" r="5.0" fill="#00BFC4"/>
<circle cx="573.1" cy="409.8" r="5.0" fill="#00BFC4"/>
<line x1="549.5" y1="408.4" x2="601.0" y2="399.1" stroke="#F8766D" stroke-width="2.7"/>
<line x1="555.2" y1="406.6" x2="599.6" y2="399.8" stroke="#00BFC4" stroke-width="2.7"/>
<rect x="542.00" y="357.50" width="63.2" height="54.2" fill="none" stroke="#333" stroke-width="3.2"/></g>
<line x1="534.00" y1="363.59999999999997" x2="542.00" y2="363.59999999999997" stroke="#333" stroke-width="2.8"/>
<text transform="translate(526.70,371.80) scale(1.16,1)" font-size="22" text-anchor="end" fill="#4D4D4D">6</text>
<line x1="534.00" y1="378.09999999999997" x2="542.00" y2="378.09999999999997" stroke="#333" stroke-width="2.8"/>
<text transform="translate(526.70,386.30) scale(1.16,1)" font-size="22" text-anchor="end" fill="#4D4D4D">4</text>
<line x1="534.00" y1="392.7" x2="542.00" y2="392.7" stroke="#333" stroke-width="2.8"/>
<text transform="translate(526.70,400.90) scale(1.16,1)" font-size="22" text-anchor="end" fill="#4D4D4D">2</text>
<line x1="534.00" y1="407.3" x2="542.00" y2="407.3" stroke="#333" stroke-width="2.8"/>
<text transform="translate(526.70,415.50) scale(1.16,1)" font-size="22" text-anchor="end" fill="#4D4D4D">0</text>
<g clip-path="url(#s15)"><rect x="730.90" y="308.30" width="63.2" height="49.2" fill="#D9D9D9" stroke="#333" stroke-width="3.2"/>
<text x="762.50" y="342.30" font-size="25" text-anchor="middle" fill="#1A1A1A">FAM123A</text></g>
<g clip-path="url(#p15)"><rect x="730.90" y="357.50" width="63.2" height="54.2" fill="#fff"/>
<circle cx="767.1" cy="362.6" r="6.0" fill="#F8766D"/>
<circle cx="780.0" cy="366.9" r="6.0" fill="#F8766D"/>
<circle cx="787.1" cy="369.7" r="6.0" fill="#F8766D"/>
<circle cx="787.1" cy="377.6" r="6.0" fill="#F8766D"/>
<circle cx="777.1" cy="377.6" r="6.0" fill="#F8766D"/>
<circle cx="780.0" cy="388.4" r="6.0" fill="#F8766D"/>
<circle cx="762.8" cy="369.7" r="6.0" fill="#F8766D"/>
<circle cx="785.7" cy="398.4" r="6.0" fill="#F8766D"/>
<circle cx="776.4" cy="405.5" r="6.0" fill="#F8766D"/>
<circle cx="735.6" cy="404.1" r="6.0" fill="#F8766D"/>
<circle cx="735.6" cy="408.4" r="6.0" fill="#F8766D"/>
<circle cx="764.9" cy="366.2" r="5.0" fill="#F8766D"/>
<circle cx="783.5" cy="368.3" r="5.0" fill="#F8766D"/>
<circle cx="778.5" cy="372.3" r="5.0" fill="#F8766D"/>
<circle cx="787.1" cy="373.7" r="5.0" fill="#F8766D"/>
<circle cx="782.1" cy="377.6" r="5.0" fill="#F8766D"/>
<circle cx="778.5" cy="383.0" r="5.0" fill="#F8766D"/>
<circle cx="782.8" cy="393.4" r="5.0" fill="#F8766D"/>
<circle cx="781.0" cy="402.0" r="5.0" fill="#F8766D"/>
<circle cx="735.6" cy="406.3" r="5.0" fill="#F8766D"/>
<circle cx="748.5" cy="362.6" r="6.0" fill="#00BFC4"/>
<circle cx="748.5" cy="366.9" r="6.0" fill="#00BFC4"/>
<circle cx="771.4" cy="365.5" r="6.0" fill="#00BFC4"/>
<circle cx="764.2" cy="368.3" r="6.0" fill="#00BFC4"/>
<circle cx="758.5" cy="374.8" r="6.0" fill="#00BFC4"/>
<circle cx="767.1" cy="374.8" r="6.0" fill="#00BFC4"/>
<circle cx="785.0" cy="379.1" r="6.0" fill="#00BFC4"/>
<circle cx="757.8" cy="385.5" r="6.0" fill="#00BFC4"/>
<circle cx="768.5" cy="384.1" r="6.0" fill="#00BFC4"/>
<circle cx="772.8" cy="385.5" r="6.0" fill="#00BFC4"/>
<circle cx="748.5" cy="397.7" r="6.0" fill="#00BFC4"/>
<circle cx="761.4" cy="396.9" r="6.0" fill="#00BFC4"/>
<circle cx="771.4" cy="398.4" r="6.0" fill="#00BFC4"/>
<circle cx="785.7" cy="400.5" r="6.0" fill="#00BFC4"/>
<circle cx="744.2" cy="403.4" r="6.0" fill="#00BFC4"/>
<circle cx="757.1" cy="404.1" r="6.0" fill="#00BFC4"/>
<circle cx="767.1" cy="405.5" r="6.0" fill="#00BFC4"/>
<circle cx="774.2" cy="404.1" r="6.0" fill="#00BFC4"/>
<circle cx="748.5" cy="364.7" r="5.0" fill="#00BFC4"/>
<circle cx="767.8" cy="366.9" r="5.0" fill="#00BFC4"/>
<circle cx="769.2" cy="370.1" r="5.0" fill="#00BFC4"/>
<circle cx="761.4" cy="371.5" r="5.0" fill="#00BFC4"/>
<circle cx="765.7" cy="371.5" r="5.0" fill="#00BFC4"/>
<circle cx="762.8" cy="374.8" r="5.0" fill="#00BFC4"/>
<circle cx="758.1" cy="380.1" r="5.0" fill="#00BFC4"/>
<circle cx="767.8" cy="379.4" r="5.0" fill="#00BFC4"/>
<circle cx="769.9" cy="380.1" r="5.0" fill="#00BFC4"/>
<circle cx="763.1" cy="384.8" r="5.0" fill="#00BFC4"/>
<circle cx="759.6" cy="391.2" r="5.0" fill="#00BFC4"/>
<circle cx="770.7" cy="384.8" r="5.0" fill="#00BFC4"/>
<circle cx="746.3" cy="400.5" r="5.0" fill="#00BFC4"/>
<circle cx="752.8" cy="400.9" r="5.0" fill="#00BFC4"/>
<circle cx="766.4" cy="397.7" r="5.0" fill="#00BFC4"/>
<circle cx="759.2" cy="400.5" r="5.0" fill="#00BFC4"/>
<circle cx="764.2" cy="401.2" r="5.0" fill="#00BFC4"/>
<circle cx="769.2" cy="402.0" r="5.0" fill="#00BFC4"/>
<circle cx="772.8" cy="401.2" r="5.0" fill="#00BFC4"/>
<circle cx="780.0" cy="402.3" r="5.0" fill="#00BFC4"/>
<circle cx="762.1" cy="404.8" r="5.0" fill="#00BFC4"/>
<circle cx="770.7" cy="404.8" r="5.0" fill="#00BFC4"/>
<line x1="738.5" y1="407.0" x2="788.6" y2="384.1" stroke="#F8766D" stroke-width="2.7"/>
<rect x="730.90" y="357.50" width="63.2" height="54.2" fill="none" stroke="#333" stroke-width="3.2"/></g>
<line x1="722.90" y1="360.4" x2="730.90" y2="360.4" stroke="#333" stroke-width="2.8"/>
<text transform="translate(715.60,368.60) scale(1.16,1)" font-size="22" text-anchor="end" fill="#4D4D4D">8</text>
<line x1="722.90" y1="371.8" x2="730.90" y2="371.8" stroke="#333" stroke-width="2.8"/>
<text transform="translate(715.60,380.00) scale(1.16,1)" font-size="22" text-anchor="end" fill="#4D4D4D">6</text>
<line x1="722.90" y1="382.8" x2="730.90" y2="382.8" stroke="#333" stroke-width="2.8"/>
<text transform="translate(715.60,391.00) scale(1.16,1)" font-size="22" text-anchor="end" fill="#4D4D4D">4</text>
<line x1="722.90" y1="393.9" x2="730.90" y2="393.9" stroke="#333" stroke-width="2.8"/>
<text transform="translate(715.60,402.10) scale(1.16,1)" font-size="22" text-anchor="end" fill="#4D4D4D">2</text>
<line x1="722.90" y1="404.9" x2="730.90" y2="404.9" stroke="#333" stroke-width="2.8"/>
<text transform="translate(715.60,413.10) scale(1.16,1)" font-size="22" text-anchor="end" fill="#4D4D4D">0</text>
<g clip-path="url(#s16)"><rect x="919.80" y="308.30" width="63.2" height="49.2" fill="#D9D9D9" stroke="#333" stroke-width="3.2"/>
<text x="951.40" y="342.30" font-size="25" text-anchor="middle" fill="#1A1A1A">PKM2</text></g>
<g clip-path="url(#p16)"><rect x="919.80" y="357.50" width="63.2" height="54.2" fill="#fff"/>
<circle cx="938.2" cy="364.0" r="6.0" fill="#F8766D"/>
<circle cx="966.1" cy="362.6" r="6.0" fill="#F8766D"/>
<circle cx="974.0" cy="368.3" r="6.0" fill="#F8766D"/>
<circle cx="979.0" cy="378.3" r="6.0" fill="#F8766D"/>
<circle cx="923.2" cy="381.2" r="6.0" fill="#F8766D"/>
<circle cx="956.1" cy="394.1" r="6.0" fill="#F8766D"/>
<circle cx="944.6" cy="399.8" r="6.0" fill="#F8766D"/>
<circle cx="941.8" cy="405.5" r="6.0" fill="#F8766D"/>
<circle cx="926.0" cy="408.4" r="6.0" fill="#F8766D"/>
<circle cx="934.6" cy="408.4" r="6.0" fill="#F8766D"/>
<circle cx="948.9" cy="396.9" r="6.0" fill="#F8766D"/>
<circle cx="970.0" cy="365.5" r="5.0" fill="#F8766D"/>
<circle cx="976.5" cy="373.3" r="5.0" fill="#F8766D"/>
<circle cx="952.5" cy="395.5" r="5.0" fill="#F8766D"/>
<circle cx="943.2" cy="402.7" r="5.0" fill="#F8766D"/>
<circle cx="946.8" cy="398.4" r="5.0" fill="#F8766D"/>
<circle cx="938.2" cy="407.0" r="5.0" fill="#F8766D"/>
<circle cx="945.3" cy="401.2" r="5.0" fill="#F8766D"/>
<circle cx="930.3" cy="408.4" r="5.0" fill="#F8766D"/>
<circle cx="946.1" cy="363.3" r="6.0" fill="#00BFC4"/>
<circle cx="956.1" cy="363.3" r="6.0" fill="#00BFC4"/>
<circle cx="961.8" cy="365.5" r="6.0" fill="#00BFC4"/>
<circle cx="972.5" cy="369.0" r="6.0" fill="#00BFC4"/>
<circle cx="937.5" cy="374.0" r="6.0" fill="#00BFC4"/>
<circle cx="948.2" cy="371.9" r="6.0" fill="#00BFC4"/>
<circle cx="957.5" cy="371.9" r="6.0" fill="#00BFC4"/>
<circle cx="932.5" cy="381.2" r="6.0" fill="#00BFC4"/>
<circle cx="943.2" cy="378.3" r="6.0" fill="#00BFC4"/>
<circle cx="953.2" cy="377.6" r="6.0" fill="#00BFC4"/>
<circle cx="963.2" cy="377.6" r="6.0" fill="#00BFC4"/>
<circle cx="972.5" cy="379.1" r="6.0" fill="#00BFC4"/>
<circle cx="934.6" cy="394.1" r="6.0" fill="#00BFC4"/>
<circle cx="943.9" cy="392.7" r="6.0" fill="#00BFC4"/>
<circle cx="951.8" cy="386.9" r="6.0" fill="#00BFC4"/>
<circle cx="964.0" cy="386.9" r="6.0" fill="#00BFC4"/>
<circle cx="960.4" cy="384.1" r="6.0" fill="#00BFC4"/>
<circle cx="958.9" cy="403.4" r="6.0" fill="#00BFC4"/>
<circle cx="956.1" cy="405.5" r="6.0" fill="#00BFC4"/>
<circle cx="951.1" cy="363.3" r="5.0" fill="#00BFC4"/>
<circle cx="947.1" cy="367.6" r="5.0" fill="#00BFC4"/>
<circle cx="958.9" cy="364.4" r="5.0" fill="#00BFC4"/>
<circle cx="952.1" cy="367.6" r="5.0" fill="#00BFC4"/>
<circle cx="956.8" cy="367.6" r="5.0" fill="#00BFC4"/>
<circle cx="967.2" cy="367.2" r="5.0" fill="#00BFC4"/>
<circle cx="959.7" cy="368.7" r="5.0" fill="#00BFC4"/>
<circle cx="962.5" cy="371.5" r="5.0" fill="#00BFC4"/>
<circle cx="972.5" cy="374.0" r="5.0" fill="#00BFC4"/>
<circle cx="942.8" cy="373.0" r="5.0" fill="#00BFC4"/>
<circle cx="935.0" cy="377.6" r="5.0" fill="#00BFC4"/>
<circle cx="940.3" cy="376.2" r="5.0" fill="#00BFC4"/>
<circle cx="952.9" cy="371.9" r="5.0" fill="#00BFC4"/>
<circle cx="945.7" cy="375.1" r="5.0" fill="#00BFC4"/>
<circle cx="950.7" cy="374.8" r="5.0" fill="#00BFC4"/>
<circle cx="955.4" cy="374.8" r="5.0" fill="#00BFC4"/>
<circle cx="960.4" cy="374.8" r="5.0" fill="#00BFC4"/>
<circle cx="937.8" cy="379.8" r="5.0" fill="#00BFC4"/>
<circle cx="948.2" cy="378.0" r="5.0" fill="#00BFC4"/>
<circle cx="947.5" cy="382.6" r="5.0" fill="#00BFC4"/>
<circle cx="958.2" cy="377.6" r="5.0" fill="#00BFC4"/>
<circle cx="952.5" cy="382.3" r="5.0" fill="#00BFC4"/>
<circle cx="956.8" cy="380.8" r="5.0" fill="#00BFC4"/>
<circle cx="967.9" cy="378.3" r="5.0" fill="#00BFC4"/>
<circle cx="963.6" cy="382.3" r="5.0" fill="#00BFC4"/>
<circle cx="961.8" cy="380.8" r="5.0" fill="#00BFC4"/>
<circle cx="968.3" cy="383.0" r="5.0" fill="#00BFC4"/>
<circle cx="939.3" cy="393.4" r="5.0" fill="#00BFC4"/>
<circle cx="947.9" cy="389.8" r="5.0" fill="#00BFC4"/>
<circle cx="957.9" cy="386.9" r="5.0" fill="#00BFC4"/>
<circle cx="956.1" cy="385.5" r="5.0" fill="#00BFC4"/>
<circle cx="962.2" cy="385.5" r="5.0" fill="#00BFC4"/>
<circle cx="957.5" cy="404.5" r="5.0" fill="#00BFC4"/>
<line x1="924.6" y1="391.6" x2="978.3" y2="367.6" stroke="#F8766D" stroke-width="2.7"/>
<rect x="919.80" y="357.50" width="63.2" height="54.2" fill="none" stroke="#333" stroke-width="3.2"/></g>
<line x1="911.80" y1="362.8" x2="919.80" y2="362.8" stroke="#333" stroke-width="2.8"/>
<text transform="translate(904.50,371.00) scale(1.16,1)" font-size="22" text-anchor="end" fill="#4D4D4D">8</text>
<line x1="911.80" y1="375.0" x2="919.80" y2="375.0" stroke="#333" stroke-width="2.8"/>
<text transform="translate(904.50,383.20) scale(1.16,1)" font-size="22" text-anchor="end" fill="#4D4D4D">6</text>
<line x1="911.80" y1="386.59999999999997" x2="919.80" y2="386.59999999999997" stroke="#333" stroke-width="2.8"/>
<text transform="translate(904.50,394.80) scale(1.16,1)" font-size="22" text-anchor="end" fill="#4D4D4D">4</text>
<line x1="911.80" y1="398.09999999999997" x2="919.80" y2="398.09999999999997" stroke="#333" stroke-width="2.8"/>
<text transform="translate(904.50,406.30) scale(1.16,1)" font-size="22" text-anchor="end" fill="#4D4D4D">2</text>
<line x1="911.80" y1="409.7" x2="919.80" y2="409.7" stroke="#333" stroke-width="2.8"/>
<text transform="translate(904.50,417.90) scale(1.16,1)" font-size="22" text-anchor="end" fill="#4D4D4D">0</text>
<g clip-path="url(#s17)"><rect x="1108.70" y="308.30" width="63.2" height="49.2" fill="#D9D9D9" stroke="#333" stroke-width="3.2"/>
<text x="1140.30" y="342.30" font-size="25" text-anchor="middle" fill="#1A1A1A">SNX22</text></g>
<g clip-path="url(#p17)"><rect x="1108.70" y="357.50" width="63.2" height="54.2" fill="#fff"/>
<circle cx="1114.3" cy="369.0" r="6.0" fill="#F8766D"/>
<circle cx="1114.3" cy="375.5" r="6.0" fill="#F8766D"/>
<circle cx="1133.6" cy="364.0" r="6.0" fill="#F8766D"/>
<circle cx="1145.1" cy="364.0" r="6.0" fill="#F8766D"/>
<circle cx="1156.5" cy="366.9" r="6.0" fill="#F8766D"/>
<circle cx="1163.7" cy="366.9" r="6.0" fill="#F8766D"/>
<circle cx="1165.1" cy="377.6" r="6.0" fill="#F8766D"/>
<circle cx="1163.7" cy="384.8" r="6.0" fill="#F8766D"/>
<circle cx="1150.8" cy="391.2" r="6.0" fill="#F8766D"/>
<circle cx="1130.1" cy="391.9" r="6.0" fill="#F8766D"/>
<circle cx="1112.9" cy="396.9" r="6.0" fill="#F8766D"/>
<circle cx="1135.1" cy="400.5" r="6.0" fill="#F8766D"/>
<circle cx="1147.9" cy="408.4" r="6.0" fill="#F8766D"/>
<circle cx="1125.0" cy="408.4" r="6.0" fill="#F8766D"/>
<circle cx="1114.3" cy="372.3" r="5.0" fill="#F8766D"/>
<circle cx="1139.4" cy="364.0" r="5.0" fill="#F8766D"/>
<circle cx="1150.8" cy="365.5" r="5.0" fill="#F8766D"/>
<circle cx="1160.1" cy="366.9" r="5.0" fill="#F8766D"/>
<circle cx="1164.4" cy="372.3" r="5.0" fill="#F8766D"/>
<circle cx="1164.4" cy="381.2" r="5.0" fill="#F8766D"/>
<circle cx="1132.6" cy="396.2" r="5.0" fill="#F8766D"/>
<circle cx="1130.1" cy="367.6" r="6.0" fill="#00BFC4"/>
<circle cx="1140.8" cy="368.3" r="6.0" fill="#00BFC4"/>
<circle cx="1147.9" cy="367.6" r="6.0" fill="#00BFC4"/>
<circle cx="1122.2" cy="374.0" r="6.0" fill="#00BFC4"/>
<circle cx="1133.6" cy="374.0" r="6.0" fill="#00BFC4"/>
<circle cx="1145.1" cy="374.0" r="6.0" fill="#00BFC4"/>
<circle cx="1161.5" cy="372.6" r="6.0" fill="#00BFC4"/>
<circle cx="1125.8" cy="379.8" r="6.0" fill="#00BFC4"/>
<circle cx="1137.2" cy="379.8" r="6.0" fill="#00BFC4"/>
<circle cx="1147.9" cy="379.8" r="6.0" fill="#00BFC4"/>
<circle cx="1156.5" cy="378.3" r="6.0" fill="#00BFC4"/>
<circle cx="1160.8" cy="385.5" r="6.0" fill="#00BFC4"/>
<circle cx="1133.6" cy="386.2" r="6.0" fill="#00BFC4"/>
<circle cx="1144.4" cy="386.2" r="6.0" fill="#00BFC4"/>
<circle cx="1150.8" cy="384.8" r="6.0" fill="#00BFC4"/>
<circle cx="1143.7" cy="396.9" r="6.0" fill="#00BFC4"/>
<circle cx="1132.2" cy="399.8" r="6.0" fill="#00BFC4"/>
<circle cx="1126.5" cy="403.4" r="6.0" fill="#00BFC4"/>
<circle cx="1135.4" cy="368.0" r="5.0" fill="#00BFC4"/>
<circle cx="1126.1" cy="370.8" r="5.0" fill="#00BFC4"/>
<circle cx="1131.8" cy="370.8" r="5.0" fill="#00BFC4"/>
<circle cx="1144.4" cy="368.0" r="5.0" fill="#00BFC4"/>
<circle cx="1137.2" cy="371.2" r="5.0" fill="#00BFC4"/>
<circle cx="1142.9" cy="371.2" r="5.0" fill="#00BFC4"/>
<circle cx="1139.0" cy="374.0" r="5.0" fill="#00BFC4"/>
<circle cx="1146.5" cy="370.8" r="5.0" fill="#00BFC4"/>
<circle cx="1147.9" cy="373.7" r="5.0" fill="#00BFC4"/>
<circle cx="1127.9" cy="374.0" r="5.0" fill="#00BFC4"/>
<circle cx="1124.0" cy="376.9" r="5.0" fill="#00BFC4"/>
<circle cx="1139.4" cy="374.0" r="5.0" fill="#00BFC4"/>
<circle cx="1129.7" cy="376.9" r="5.0" fill="#00BFC4"/>
<circle cx="1135.4" cy="376.9" r="5.0" fill="#00BFC4"/>
<circle cx="1133.6" cy="380.1" r="5.0" fill="#00BFC4"/>
<circle cx="1141.1" cy="376.9" r="5.0" fill="#00BFC4"/>
<circle cx="1146.5" cy="376.9" r="5.0" fill="#00BFC4"/>
<circle cx="1150.8" cy="376.2" r="5.0" fill="#00BFC4"/>
<circle cx="1144.7" cy="380.1" r="5.0" fill="#00BFC4"/>
<circle cx="1147.9" cy="379.4" r="5.0" fill="#00BFC4"/>
<circle cx="1159.0" cy="375.5" r="5.0" fill="#00BFC4"/>
<circle cx="1131.5" cy="379.8" r="5.0" fill="#00BFC4"/>
<circle cx="1129.7" cy="383.0" r="5.0" fill="#00BFC4"/>
<circle cx="1142.6" cy="379.8" r="5.0" fill="#00BFC4"/>
<circle cx="1135.4" cy="383.0" r="5.0" fill="#00BFC4"/>
<circle cx="1140.8" cy="383.0" r="5.0" fill="#00BFC4"/>
<circle cx="1152.2" cy="379.1" r="5.0" fill="#00BFC4"/>
<circle cx="1146.2" cy="383.0" r="5.0" fill="#00BFC4"/>
<circle cx="1149.4" cy="382.3" r="5.0" fill="#00BFC4"/>
<circle cx="1158.7" cy="381.9" r="5.0" fill="#00BFC4"/>
<circle cx="1153.7" cy="381.6" r="5.0" fill="#00BFC4"/>
<circle cx="1155.8" cy="385.1" r="5.0" fill="#00BFC4"/>
<circle cx="1139.0" cy="386.2" r="5.0" fill="#00BFC4"/>
<circle cx="1147.6" cy="385.5" r="5.0" fill="#00BFC4"/>
<circle cx="1144.0" cy="391.6" r="5.0" fill="#00BFC4"/>
<circle cx="1137.9" cy="398.4" r="5.0" fill="#00BFC4"/>
<circle cx="1129.3" cy="401.6" r="5.0" fill="#00BFC4"/>
<line x1="1112.9" y1="383.3" x2="1165.8" y2="376.9" stroke="#F8766D" stroke-width="2.7"/>
<line x1="1121.5" y1="382.6" x2="1165.8" y2="376.9" stroke="#00BFC4" stroke-width="2.7"/>
<rect x="1108.70" y="357.50" width="63.2" height="54.2" fill="none" stroke="#333" stroke-width="3.2"/></g>
<line x1="1100.70" y1="368.9" x2="1108.70" y2="368.9" stroke="#333" stroke-width="2.8"/>
<text transform="translate(1093.40,377.10) scale(1.16,1)" font-size="22" text-anchor="end" fill="#4D4D4D">7.5</text>
<line x1="1100.70" y1="382.8" x2="1108.70" y2="382.8" stroke="#333" stroke-width="2.8"/>
<text transform="translate(1093.40,391.00) scale(1.16,1)" font-size="22" text-anchor="end" fill="#4D4D4D">5.0</text>
<line x1="1100.70" y1="396.4" x2="1108.70" y2="396.4" stroke="#333" stroke-width="2.8"/>
<text transform="translate(1093.40,404.60) scale(1.16,1)" font-size="22" text-anchor="end" fill="#4D4D4D">2.5</text>
<line x1="1100.70" y1="409.7" x2="1108.70" y2="409.7" stroke="#333" stroke-width="2.8"/>
<text transform="translate(1093.40,417.90) scale(1.16,1)" font-size="22" text-anchor="end" fill="#4D4D4D">0.0</text>
<g clip-path="url(#s18)"><rect x="164.20" y="428.45" width="63.2" height="49.2" fill="#D9D9D9" stroke="#333" stroke-width="3.2"/>
<text x="195.80" y="462.45" font-size="25" text-anchor="middle" fill="#1A1A1A">SNAR-B1</text></g>
<g clip-path="url(#p18)"><rect x="164.20" y="477.65" width="63.2" height="54.2" fill="#fff"/>
<circle cx="199.4" cy="481.2" r="6.0" fill="#F8766D"/>
<circle cx="199.4" cy="485.5" r="6.0" fill="#F8766D"/>
<circle cx="210.1" cy="491.9" r="6.0" fill="#F8766D"/>
<circle cx="200.1" cy="503.3" r="6.0" fill="#F8766D"/>
<circle cx="208.0" cy="507.6" r="6.0" fill="#F8766D"/>
<circle cx="200.8" cy="516.2" r="6.0" fill="#F8766D"/>
<circle cx="169.3" cy="528.4" r="6.0" fill="#F8766D"/>
<circle cx="223.0" cy="527.0" r="6.0" fill="#F8766D"/>
<circle cx="220.1" cy="525.5" r="6.0" fill="#F8766D"/>
<circle cx="199.4" cy="483.3" r="5.0" fill="#F8766D"/>
<circle cx="204.0" cy="505.5" r="5.0" fill="#F8766D"/>
<circle cx="204.4" cy="511.9" r="5.0" fill="#F8766D"/>
<circle cx="221.6" cy="526.3" r="5.0" fill="#F8766D"/>
<circle cx="204.0" cy="498.7" r="6.0" fill="#00BFC4"/>
<circle cx="206.2" cy="516.2" r="6.0" fill="#00BFC4"/>
<circle cx="178.6" cy="529.1" r="6.0" fill="#00BFC4"/>
<circle cx="187.2" cy="529.1" r="6.0" fill="#00BFC4"/>
<circle cx="195.8" cy="529.1" r="6.0" fill="#00BFC4"/>
<circle cx="204.4" cy="529.1" r="6.0" fill="#00BFC4"/>
<circle cx="213.0" cy="529.1" r="6.0" fill="#00BFC4"/>
<circle cx="220.8" cy="529.1" r="6.0" fill="#00BFC4"/>
<circle cx="178.6" cy="527.7" r="6.0" fill="#00BFC4"/>
<circle cx="187.2" cy="527.7" r="6.0" fill="#00BFC4"/>
<circle cx="195.8" cy="527.7" r="6.0" fill="#00BFC4"/>
<circle cx="204.4" cy="527.7" r="6.0" fill="#00BFC4"/>
<circle cx="213.0" cy="527.7" r="6.0" fill="#00BFC4"/>
<circle cx="220.8" cy="527.7" r="6.0" fill="#00BFC4"/>
<circle cx="205.3" cy="522.0" r="5.0" fill="#00BFC4"/>
<circle cx="182.9" cy="529.1" r="5.0" fill="#00BFC4"/>
<circle cx="178.6" cy="528.4" r="5.0" fill="#00BFC4"/>
<circle cx="182.9" cy="528.4" r="5.0" fill="#00BFC4"/>
<circle cx="191.5" cy="529.1" r="5.0" fill="#00BFC4"/>
<circle cx="182.9" cy="528.4" r="5.0" fill="#00BFC4"/>
<circle cx="187.2" cy="528.4" r="5.0" fill="#00BFC4"/>
<circle cx="191.5" cy="528.4" r="5.0" fill="#00BFC4"/>
<circle cx="200.1" cy="529.1" r="5.0" fill="#00BFC4"/>
<circle cx="191.5" cy="528.4" r="5.0" fill="#00BFC4"/>
<circle cx="195.8" cy="528.4" r="5.0" fill="#00BFC4"/>
<circle cx="200.1" cy="528.4" r="5.0" fill="#00BFC4"/>
<circle cx="208.7" cy="529.1" r="5.0" fill="#00BFC4"/>
<circle cx="200.1" cy="528.4" r="5.0" fill="#00BFC4"/>
<circle cx="204.4" cy="528.4" r="5.0" fill="#00BFC4"/>
<circle cx="208.7" cy="528.4" r="5.0" fill="#00BFC4"/>
<circle cx="216.9" cy="529.1" r="5.0" fill="#00BFC4"/>
<circle cx="208.7" cy="528.4" r="5.0" fill="#00BFC4"/>
<circle cx="213.0" cy="528.4" r="5.0" fill="#00BFC4"/>
<circle cx="216.9" cy="528.4" r="5.0" fill="#00BFC4"/>
<circle cx="216.9" cy="528.4" r="5.0" fill="#00BFC4"/>
<circle cx="220.8" cy="528.4" r="5.0" fill="#00BFC4"/>
<circle cx="182.9" cy="527.7" r="5.0" fill="#00BFC4"/>
<circle cx="191.5" cy="527.7" r="5.0" fill="#00BFC4"/>
<circle cx="200.1" cy="527.7" r="5.0" fill="#00BFC4"/>
<circle cx="208.7" cy="527.7" r="5.0" fill="#00BFC4"/>
<circle cx="216.9" cy="527.7" r="5.0" fill="#00BFC4"/>
<line x1="168.6" y1="530.5" x2="223.0" y2="523.4" stroke="#F8766D" stroke-width="2.7"/>
<line x1="174.3" y1="529.8" x2="223.0" y2="523.4" stroke="#00BFC4" stroke-width="2.7"/>
<rect x="164.20" y="477.65" width="63.2" height="54.2" fill="none" stroke="#333" stroke-width="3.2"/></g>
<line x1="156.20" y1="491.3" x2="164.20" y2="491.3" stroke="#333" stroke-width="2.8"/>
<text transform="translate(148.90,499.50) scale(1.16,1)" font-size="22" text-anchor="end" fill="#4D4D4D">2</text>
<line x1="156.20" y1="510.8" x2="164.20" y2="510.8" stroke="#333" stroke-width="2.8"/>
<text transform="translate(148.90,519.00) scale(1.16,1)" font-size="22" text-anchor="end" fill="#4D4D4D">1</text>
<line x1="156.20" y1="529.7" x2="164.20" y2="529.7" stroke="#333" stroke-width="2.8"/>
<text transform="translate(148.90,537.90) scale(1.16,1)" font-size="22" text-anchor="end" fill="#4D4D4D">0</text>
<g clip-path="url(#s19)"><rect x="353.10" y="428.45" width="63.2" height="49.2" fill="#D9D9D9" stroke="#333" stroke-width="3.2"/>
<text x="384.70" y="462.45" font-size="25" text-anchor="middle" fill="#1A1A1A">C11orf10</text></g>
<g clip-path="url(#p19)"><rect x="353.10" y="477.65" width="63.2" height="54.2" fill="#fff"/>
<circle cx="361.2" cy="494.8" r="6.0" fill="#F8766D"/>
<circle cx="379.8" cy="484.7" r="6.0" fill="#F8766D"/>
<circle cx="395.5" cy="484.0" r="6.0" fill="#F8766D"/>
<circle cx="410.6" cy="485.5" r="6.0" fill="#F8766D"/>
<circle cx="409.1" cy="489.0" r="6.0" fill="#F8766D"/>
<circle cx="406.3" cy="501.9" r="6.0" fill="#F8766D"/>
<circle cx="399.1" cy="504.1" r="6.0" fill="#F8766D"/>
<circle cx="371.2" cy="523.4" r="6.0" fill="#F8766D"/>
<circle cx="359.0" cy="529.1" r="6.0" fill="#F8766D"/>
<circle cx="384.8" cy="516.9" r="6.0" fill="#F8766D"/>
<circle cx="370.5" cy="488.3" r="6.0" fill="#F8766D"/>
<circle cx="365.8" cy="491.5" r="5.0" fill="#F8766D"/>
<circle cx="375.1" cy="486.5" r="5.0" fill="#F8766D"/>
<circle cx="409.8" cy="487.2" r="5.0" fill="#F8766D"/>
<circle cx="402.7" cy="503.0" r="5.0" fill="#F8766D"/>
<circle cx="375.5" cy="486.2" r="6.0" fill="#00BFC4"/>
<circle cx="388.4" cy="484.7" r="6.0" fill="#00BFC4"/>
<circle cx="399.8" cy="486.2" r="6.0" fill="#00BFC4"/>
<circle cx="407.0" cy="491.9" r="6.0" fill="#00BFC4"/>
<circle cx="406.3" cy="494.8" r="6.0" fill="#00BFC4"/>
<circle cx="367.6" cy="494.8" r="6.0" fill="#00BFC4"/>
<circle cx="379.1" cy="492.6" r="6.0" fill="#00BFC4"/>
<circle cx="390.5" cy="492.6" r="6.0" fill="#00BFC4"/>
<circle cx="366.9" cy="505.5" r="6.0" fill="#00BFC4"/>
<circle cx="377.6" cy="501.2" r="6.0" fill="#00BFC4"/>
<circle cx="389.1" cy="499.1" r="6.0" fill="#00BFC4"/>
<circle cx="398.4" cy="497.6" r="6.0" fill="#00BFC4"/>
<circle cx="371.2" cy="514.8" r="6.0" fill="#00BFC4"/>
<circle cx="381.9" cy="517.7" r="6.0" fill="#00BFC4"/>
<circle cx="393.4" cy="511.9" r="6.0" fill="#00BFC4"/>
<circle cx="379.1" cy="508.4" r="6.0" fill="#00BFC4"/>
<circle cx="387.7" cy="506.9" r="6.0" fill="#00BFC4"/>
<circle cx="388.0" cy="529.1" r="6.0" fill="#00BFC4"/>
<circle cx="371.5" cy="490.5" r="5.0" fill="#00BFC4"/>
<circle cx="377.3" cy="489.4" r="5.0" fill="#00BFC4"/>
<circle cx="394.1" cy="485.5" r="5.0" fill="#00BFC4"/>
<circle cx="383.7" cy="488.7" r="5.0" fill="#00BFC4"/>
<circle cx="389.4" cy="488.7" r="5.0" fill="#00BFC4"/>
<circle cx="403.4" cy="489.0" r="5.0" fill="#00BFC4"/>
<circle cx="403.0" cy="490.5" r="5.0" fill="#00BFC4"/>
<circle cx="395.2" cy="489.4" r="5.0" fill="#00BFC4"/>
<circle cx="399.1" cy="491.9" r="5.0" fill="#00BFC4"/>
<circle cx="406.6" cy="493.3" r="5.0" fill="#00BFC4"/>
<circle cx="402.7" cy="494.8" r="5.0" fill="#00BFC4"/>
<circle cx="402.3" cy="496.2" r="5.0" fill="#00BFC4"/>
<circle cx="373.3" cy="493.7" r="5.0" fill="#00BFC4"/>
<circle cx="367.3" cy="500.1" r="5.0" fill="#00BFC4"/>
<circle cx="372.6" cy="498.0" r="5.0" fill="#00BFC4"/>
<circle cx="384.8" cy="492.6" r="5.0" fill="#00BFC4"/>
<circle cx="378.3" cy="496.9" r="5.0" fill="#00BFC4"/>
<circle cx="384.1" cy="495.8" r="5.0" fill="#00BFC4"/>
<circle cx="389.8" cy="495.8" r="5.0" fill="#00BFC4"/>
<circle cx="394.5" cy="495.1" r="5.0" fill="#00BFC4"/>
<circle cx="372.3" cy="503.3" r="5.0" fill="#00BFC4"/>
<circle cx="369.0" cy="510.1" r="5.0" fill="#00BFC4"/>
<circle cx="383.4" cy="500.1" r="5.0" fill="#00BFC4"/>
<circle cx="378.3" cy="504.8" r="5.0" fill="#00BFC4"/>
<circle cx="382.6" cy="504.1" r="5.0" fill="#00BFC4"/>
<circle cx="393.7" cy="498.3" r="5.0" fill="#00BFC4"/>
<circle cx="388.4" cy="503.0" r="5.0" fill="#00BFC4"/>
<circle cx="376.6" cy="516.2" r="5.0" fill="#00BFC4"/>
<circle cx="375.1" cy="511.6" r="5.0" fill="#00BFC4"/>
<circle cx="380.5" cy="513.0" r="5.0" fill="#00BFC4"/>
<circle cx="384.8" cy="512.3" r="5.0" fill="#00BFC4"/>
<circle cx="390.5" cy="509.4" r="5.0" fill="#00BFC4"/>
<circle cx="383.4" cy="507.6" r="5.0" fill="#00BFC4"/>
<line x1="357.9" y1="509.8" x2="412.0" y2="489.7" stroke="#F8766D" stroke-width="2.7"/>
<rect x="353.10" y="477.65" width="63.2" height="54.2" fill="none" stroke="#333" stroke-width="3.2"/></g>
<line x1="345.10" y1="482.09999999999997" x2="353.10" y2="482.09999999999997" stroke="#333" stroke-width="2.8"/>
<text transform="translate(337.80,490.30) scale(1.16,1)" font-size="22" text-anchor="end" fill="#4D4D4D">8</text>
<line x1="345.10" y1="494.3" x2="353.10" y2="494.3" stroke="#333" stroke-width="2.8"/>
<text transform="translate(337.80,502.50) scale(1.16,1)" font-size="22" text-anchor="end" fill="#4D4D4D">6</text>
<line x1="345.10" y1="506.4" x2="353.10" y2="506.4" stroke="#333" stroke-width="2.8"/>
<text transform="translate(337.80,514.60) scale(1.16,1)" font-size="22" text-anchor="end" fill="#4D4D4D">4</text>
<line x1="345.10" y1="518.1" x2="353.10" y2="518.1" stroke="#333" stroke-width="2.8"/>
<text transform="translate(337.80,526.30) scale(1.16,1)" font-size="22" text-anchor="end" fill="#4D4D4D">2</text>
<line x1="345.10" y1="529.7" x2="353.10" y2="529.7" stroke="#333" stroke-width="2.8"/>
<text transform="translate(337.80,537.90) scale(1.16,1)" font-size="22" text-anchor="end" fill="#4D4D4D">0</text>
<g clip-path="url(#s20)"><rect x="542.00" y="428.45" width="63.2" height="49.2" fill="#D9D9D9" stroke="#333" stroke-width="3.2"/>
<text x="573.60" y="462.45" font-size="25" text-anchor="middle" fill="#1A1A1A">CXCL1</text></g>
<g clip-path="url(#p20)"><rect x="542.00" y="477.65" width="63.2" height="54.2" fill="#fff"/>
<circle cx="583.8" cy="482.6" r="6.0" fill="#F8766D"/>
<circle cx="593.8" cy="482.6" r="6.0" fill="#F8766D"/>
<circle cx="599.6" cy="481.9" r="6.0" fill="#F8766D"/>
<circle cx="595.3" cy="485.5" r="6.0" fill="#F8766D"/>
<circle cx="589.5" cy="488.3" r="6.0" fill="#F8766D"/>
<circle cx="583.8" cy="499.8" r="6.0" fill="#F8766D"/>
<circle cx="583.8" cy="504.1" r="6.0" fill="#F8766D"/>
<circle cx="582.4" cy="511.9" r="6.0" fill="#F8766D"/>
<circle cx="596.7" cy="508.4" r="6.0" fill="#F8766D"/>
<circle cx="595.3" cy="524.1" r="6.0" fill="#F8766D"/>
<circle cx="546.6" cy="524.1" r="6.0" fill="#F8766D"/>
<circle cx="588.8" cy="482.6" r="5.0" fill="#F8766D"/>
<circle cx="589.5" cy="484.0" r="5.0" fill="#F8766D"/>
<circle cx="586.7" cy="485.5" r="5.0" fill="#F8766D"/>
<circle cx="596.7" cy="482.2" r="5.0" fill="#F8766D"/>
<circle cx="594.5" cy="484.0" r="5.0" fill="#F8766D"/>
<circle cx="591.7" cy="485.5" r="5.0" fill="#F8766D"/>
<circle cx="597.4" cy="483.7" r="5.0" fill="#F8766D"/>
<circle cx="594.5" cy="485.1" r="5.0" fill="#F8766D"/>
<circle cx="592.4" cy="486.9" r="5.0" fill="#F8766D"/>
<circle cx="583.8" cy="501.9" r="5.0" fill="#F8766D"/>
<circle cx="583.1" cy="505.9" r="5.0" fill="#F8766D"/>
<circle cx="583.1" cy="508.0" r="5.0" fill="#F8766D"/>
<circle cx="582.0" cy="492.3" r="6.0" fill="#00BFC4"/>
<circle cx="559.8" cy="513.0" r="6.0" fill="#00BFC4"/>
<circle cx="574.5" cy="508.4" r="6.0" fill="#00BFC4"/>
<circle cx="578.1" cy="512.7" r="6.0" fill="#00BFC4"/>
<circle cx="596.0" cy="513.4" r="6.0" fill="#00BFC4"/>
<circle cx="595.3" cy="516.9" r="6.0" fill="#00BFC4"/>
<circle cx="555.9" cy="522.7" r="6.0" fill="#00BFC4"/>
<circle cx="566.6" cy="521.2" r="6.0" fill="#00BFC4"/>
<circle cx="575.2" cy="521.2" r="6.0" fill="#00BFC4"/>
<circle cx="584.5" cy="522.7" r="6.0" fill="#00BFC4"/>
<circle cx="588.1" cy="524.1" r="6.0" fill="#00BFC4"/>
<circle cx="557.9" cy="517.8" r="5.0" fill="#00BFC4"/>
<circle cx="563.2" cy="517.1" r="5.0" fill="#00BFC4"/>
<circle cx="576.3" cy="510.5" r="5.0" fill="#00BFC4"/>
<circle cx="576.7" cy="516.9" r="5.0" fill="#00BFC4"/>
<circle cx="581.3" cy="517.7" r="5.0" fill="#00BFC4"/>
<circle cx="595.6" cy="515.2" r="5.0" fill="#00BFC4"/>
<circle cx="589.9" cy="519.8" r="5.0" fill="#00BFC4"/>
<circle cx="591.7" cy="520.5" r="5.0" fill="#00BFC4"/>
<circle cx="561.3" cy="522.0" r="5.0" fill="#00BFC4"/>
<circle cx="570.9" cy="521.2" r="5.0" fill="#00BFC4"/>
<circle cx="579.9" cy="522.0" r="5.0" fill="#00BFC4"/>
<circle cx="586.3" cy="523.4" r="5.0" fill="#00BFC4"/>
<line x1="550.2" y1="527.7" x2="601.0" y2="514.1" stroke="#F8766D" stroke-width="2.7"/>
<rect x="542.00" y="477.65" width="63.2" height="54.2" fill="none" stroke="#333" stroke-width="3.2"/></g>
<line x1="534.00" y1="487.0" x2="542.00" y2="487.0" stroke="#333" stroke-width="2.8"/>
<text transform="translate(526.70,495.20) scale(1.16,1)" font-size="22" text-anchor="end" fill="#4D4D4D">4</text>
<line x1="534.00" y1="496.2" x2="542.00" y2="496.2" stroke="#333" stroke-width="2.8"/>
<text transform="translate(526.70,504.40) scale(1.16,1)" font-size="22" text-anchor="end" fill="#4D4D4D">3</text>
<line x1="534.00" y1="505.4" x2="542.00" y2="505.4" stroke="#333" stroke-width="2.8"/>
<text transform="translate(526.70,513.60) scale(1.16,1)" font-size="22" text-anchor="end" fill="#4D4D4D">2</text>
<line x1="534.00" y1="514.9000000000001" x2="542.00" y2="514.9000000000001" stroke="#333" stroke-width="2.8"/>
<text transform="translate(526.70,523.10) scale(1.16,1)" font-size="22" text-anchor="end" fill="#4D4D4D">1</text>
<line x1="534.00" y1="524.1" x2="542.00" y2="524.1" stroke="#333" stroke-width="2.8"/>
<text transform="translate(526.70,532.30) scale(1.16,1)" font-size="22" text-anchor="end" fill="#4D4D4D">0</text>
<g clip-path="url(#s21)"><rect x="730.90" y="428.45" width="63.2" height="49.2" fill="#D9D9D9" stroke="#333" stroke-width="3.2"/>
<text x="762.50" y="462.45" font-size="25" text-anchor="middle" fill="#1A1A1A">ACTA1</text></g>
<g clip-path="url(#p21)"><rect x="730.90" y="477.65" width="63.2" height="54.2" fill="#fff"/>
<circle cx="765.3" cy="480.4" r="6.0" fill="#F8766D"/>
<circle cx="769.9" cy="500.5" r="6.0" fill="#F8766D"/>
<circle cx="775.7" cy="506.2" r="6.0" fill="#F8766D"/>
<circle cx="775.7" cy="512.7" r="6.0" fill="#F8766D"/>
<circle cx="772.8" cy="519.8" r="6.0" fill="#F8766D"/>
<circle cx="734.9" cy="527.7" r="6.0" fill="#F8766D"/>
<circle cx="788.6" cy="526.3" r="6.0" fill="#F8766D"/>
<circle cx="780.0" cy="527.0" r="6.0" fill="#F8766D"/>
<circle cx="772.8" cy="503.3" r="5.0" fill="#F8766D"/>
<circle cx="775.7" cy="509.4" r="5.0" fill="#F8766D"/>
<circle cx="774.2" cy="516.2" r="5.0" fill="#F8766D"/>
<circle cx="776.4" cy="523.4" r="5.0" fill="#F8766D"/>
<circle cx="784.3" cy="526.6" r="5.0" fill="#F8766D"/>
<circle cx="767.1" cy="512.7" r="6.0" fill="#00BFC4"/>
<circle cx="774.2" cy="514.8" r="6.0" fill="#00BFC4"/>
<circle cx="760.6" cy="520.5" r="6.0" fill="#00BFC4"/>
<circle cx="785.0" cy="520.5" r="6.0" fill="#00BFC4"/>
<circle cx="743.5" cy="527.0" r="6.0" fill="#00BFC4"/>
<circle cx="752.1" cy="527.0" r="6.0" fill="#00BFC4"/>
<circle cx="760.6" cy="527.0" r="6.0" fill="#00BFC4"/>
<circle cx="769.2" cy="527.0" r="6.0" fill="#00BFC4"/>
<circle cx="777.1" cy="527.0" r="6.0" fill="#00BFC4"/>
<circle cx="787.1" cy="527.7" r="6.0" fill="#00BFC4"/>
<circle cx="770.7" cy="513.7" r="5.0" fill="#00BFC4"/>
<circle cx="763.9" cy="516.6" r="5.0" fill="#00BFC4"/>
<circle cx="779.6" cy="517.7" r="5.0" fill="#00BFC4"/>
<circle cx="756.3" cy="523.7" r="5.0" fill="#00BFC4"/>
<circle cx="760.6" cy="523.7" r="5.0" fill="#00BFC4"/>
<circle cx="764.9" cy="523.7" r="5.0" fill="#00BFC4"/>
<circle cx="781.0" cy="523.7" r="5.0" fill="#00BFC4"/>
<circle cx="786.1" cy="524.1" r="5.0" fill="#00BFC4"/>
<circle cx="747.8" cy="527.0" r="5.0" fill="#00BFC4"/>
<circle cx="756.3" cy="527.0" r="5.0" fill="#00BFC4"/>
<circle cx="764.9" cy="527.0" r="5.0" fill="#00BFC4"/>
<circle cx="773.2" cy="527.0" r="5.0" fill="#00BFC4"/>
<circle cx="782.1" cy="527.3" r="5.0" fill="#00BFC4"/>
<line x1="737.7" y1="529.1" x2="790.0" y2="524.1" stroke="#F8766D" stroke-width="2.7"/>
<line x1="744.2" y1="528.4" x2="790.0" y2="524.1" stroke="#00BFC4" stroke-width="2.7"/>
<rect x="730.90" y="477.65" width="63.2" height="54.2" fill="none" stroke="#333" stroke-width="3.2"/></g>
<line x1="722.90" y1="479.2" x2="730.90" y2="479.2" stroke="#333" stroke-width="2.8"/>
<text transform="translate(715.60,487.40) scale(1.16,1)" font-size="22" text-anchor="end" fill="#4D4D4D">8</text>
<line x1="722.90" y1="491.3" x2="730.90" y2="491.3" stroke="#333" stroke-width="2.8"/>
<text transform="translate(715.60,499.50) scale(1.16,1)" font-size="22" text-anchor="end" fill="#4D4D4D">6</text>
<line x1="722.90" y1="503.5" x2="730.90" y2="503.5" stroke="#333" stroke-width="2.8"/>
<text transform="translate(715.60,511.70) scale(1.16,1)" font-size="22" text-anchor="end" fill="#4D4D4D">4</text>
<line x1="722.90" y1="516.1" x2="730.90" y2="516.1" stroke="#333" stroke-width="2.8"/>
<text transform="translate(715.60,524.30) scale(1.16,1)" font-size="22" text-anchor="end" fill="#4D4D4D">2</text>
<line x1="722.90" y1="529.0" x2="730.90" y2="529.0" stroke="#333" stroke-width="2.8"/>
<text transform="translate(715.60,537.20) scale(1.16,1)" font-size="22" text-anchor="end" fill="#4D4D4D">0</text>
<g clip-path="url(#s22)"><rect x="919.80" y="428.45" width="63.2" height="49.2" fill="#D9D9D9" stroke="#333" stroke-width="3.2"/>
<text x="951.40" y="462.45" font-size="25" text-anchor="middle" fill="#1A1A1A">PI15</text></g>
<g clip-path="url(#p22)"><rect x="919.80" y="477.65" width="63.2" height="54.2" fill="#fff"/>
<circle cx="952.9" cy="481.9" r="6.0" fill="#F8766D"/>
<circle cx="957.5" cy="486.9" r="6.0" fill="#F8766D"/>
<circle cx="943.2" cy="492.6" r="6.0" fill="#F8766D"/>
<circle cx="948.2" cy="504.1" r="6.0" fill="#F8766D"/>
<circle cx="958.9" cy="517.7" r="6.0" fill="#F8766D"/>
<circle cx="969.0" cy="517.7" r="6.0" fill="#F8766D"/>
<circle cx="976.8" cy="516.9" r="6.0" fill="#F8766D"/>
<circle cx="956.1" cy="520.5" r="6.0" fill="#F8766D"/>
<circle cx="966.1" cy="522.0" r="6.0" fill="#F8766D"/>
<circle cx="924.6" cy="528.4" r="6.0" fill="#F8766D"/>
<circle cx="955.2" cy="484.4" r="5.0" fill="#F8766D"/>
<circle cx="964.0" cy="517.7" r="5.0" fill="#F8766D"/>
<circle cx="957.5" cy="519.1" r="5.0" fill="#F8766D"/>
<circle cx="962.5" cy="519.8" r="5.0" fill="#F8766D"/>
<circle cx="972.9" cy="517.3" r="5.0" fill="#F8766D"/>
<circle cx="967.5" cy="519.8" r="5.0" fill="#F8766D"/>
<circle cx="971.5" cy="519.5" r="5.0" fill="#F8766D"/>
<circle cx="961.1" cy="521.2" r="5.0" fill="#F8766D"/>
<circle cx="952.5" cy="493.0" r="6.0" fill="#00BFC4"/>
<circle cx="937.8" cy="505.5" r="6.0" fill="#00BFC4"/>
<circle cx="942.8" cy="517.7" r="6.0" fill="#00BFC4"/>
<circle cx="975.4" cy="524.1" r="6.0" fill="#00BFC4"/>
<circle cx="932.5" cy="529.8" r="6.0" fill="#00BFC4"/>
<circle cx="941.1" cy="529.8" r="6.0" fill="#00BFC4"/>
<circle cx="949.6" cy="529.8" r="6.0" fill="#00BFC4"/>
<circle cx="958.2" cy="529.8" r="6.0" fill="#00BFC4"/>
<circle cx="966.1" cy="529.8" r="6.0" fill="#00BFC4"/>
<circle cx="941.8" cy="524.1" r="6.0" fill="#00BFC4"/>
<circle cx="941.9" cy="523.7" r="5.0" fill="#00BFC4"/>
<circle cx="942.3" cy="520.9" r="5.0" fill="#00BFC4"/>
<circle cx="970.8" cy="527.0" r="5.0" fill="#00BFC4"/>
<circle cx="936.8" cy="529.8" r="5.0" fill="#00BFC4"/>
<circle cx="937.1" cy="527.0" r="5.0" fill="#00BFC4"/>
<circle cx="945.3" cy="529.8" r="5.0" fill="#00BFC4"/>
<circle cx="941.4" cy="527.0" r="5.0" fill="#00BFC4"/>
<circle cx="953.9" cy="529.8" r="5.0" fill="#00BFC4"/>
<circle cx="945.7" cy="527.0" r="5.0" fill="#00BFC4"/>
<circle cx="962.2" cy="529.8" r="5.0" fill="#00BFC4"/>
<line x1="933.2" y1="525.5" x2="978.3" y2="527.7" stroke="#F8766D" stroke-width="2.7"/>
<line x1="933.2" y1="525.9" x2="977.6" y2="527.7" stroke="#00BFC4" stroke-width="2.7"/>
<rect x="919.80" y="477.65" width="63.2" height="54.2" fill="none" stroke="#333" stroke-width="3.2"/></g>
<line x1="911.80" y1="487.0" x2="919.80" y2="487.0" stroke="#333" stroke-width="2.8"/>
<text transform="translate(904.50,495.20) scale(1.16,1)" font-size="22" text-anchor="end" fill="#4D4D4D">6</text>
<line x1="911.80" y1="501.5" x2="919.80" y2="501.5" stroke="#333" stroke-width="2.8"/>
<text transform="translate(904.50,509.70) scale(1.16,1)" font-size="22" text-anchor="end" fill="#4D4D4D">4</text>
<line x1="911.80" y1="516.1" x2="919.80" y2="516.1" stroke="#333" stroke-width="2.8"/>
<text transform="translate(904.50,524.30) scale(1.16,1)" font-size="22" text-anchor="end" fill="#4D4D4D">2</text>
<line x1="911.80" y1="530.2" x2="919.80" y2="530.2" stroke="#333" stroke-width="2.8"/>
<text transform="translate(904.50,538.40) scale(1.16,1)" font-size="22" text-anchor="end" fill="#4D4D4D">0</text>
<g clip-path="url(#s23)"><rect x="1108.70" y="428.45" width="63.2" height="49.2" fill="#D9D9D9" stroke="#333" stroke-width="3.2"/>
<text x="1140.30" y="462.45" font-size="25" text-anchor="middle" fill="#1A1A1A">PXDN</text></g>
<g clip-path="url(#p23)"><rect x="1108.70" y="477.65" width="63.2" height="54.2" fill="#fff"/>
<circle cx="1149.4" cy="480.4" r="6.0" fill="#F8766D"/>
<circle cx="1145.1" cy="490.5" r="6.0" fill="#F8766D"/>
<circle cx="1153.7" cy="494.8" r="6.0" fill="#F8766D"/>
<circle cx="1162.3" cy="491.9" r="6.0" fill="#F8766D"/>
<circle cx="1149.4" cy="509.8" r="6.0" fill="#F8766D"/>
<circle cx="1166.6" cy="511.2" r="6.0" fill="#F8766D"/>
<circle cx="1130.8" cy="516.9" r="6.0" fill="#F8766D"/>
<circle cx="1126.5" cy="519.8" r="6.0" fill="#F8766D"/>
<circle cx="1150.8" cy="518.4" r="6.0" fill="#F8766D"/>
<circle cx="1165.1" cy="520.5" r="6.0" fill="#F8766D"/>
<circle cx="1113.6" cy="527.0" r="6.0" fill="#F8766D"/>
<circle cx="1147.2" cy="485.5" r="5.0" fill="#F8766D"/>
<circle cx="1149.4" cy="492.6" r="5.0" fill="#F8766D"/>
<circle cx="1158.0" cy="493.3" r="5.0" fill="#F8766D"/>
<circle cx="1150.1" cy="514.1" r="5.0" fill="#F8766D"/>
<circle cx="1165.8" cy="515.9" r="5.0" fill="#F8766D"/>
<circle cx="1128.6" cy="518.4" r="5.0" fill="#F8766D"/>
<circle cx="1131.5" cy="503.0" r="6.0" fill="#00BFC4"/>
<circle cx="1144.4" cy="502.6" r="6.0" fill="#00BFC4"/>
<circle cx="1143.7" cy="509.8" r="6.0" fill="#00BFC4"/>
<circle cx="1163.0" cy="513.7" r="6.0" fill="#00BFC4"/>
<circle cx="1145.1" cy="519.8" r="6.0" fill="#00BFC4"/>
<circle cx="1122.2" cy="526.3" r="6.0" fill="#00BFC4"/>
<circle cx="1130.8" cy="526.3" r="6.0" fill="#00BFC4"/>
<circle cx="1139.4" cy="525.5" r="6.0" fill="#00BFC4"/>
<circle cx="1147.9" cy="525.5" r="6.0" fill="#00BFC4"/>
<circle cx="1156.5" cy="525.5" r="6.0" fill="#00BFC4"/>
<circle cx="1163.7" cy="526.3" r="6.0" fill="#00BFC4"/>
<circle cx="1144.0" cy="506.2" r="5.0" fill="#00BFC4"/>
<circle cx="1144.4" cy="514.8" r="5.0" fill="#00BFC4"/>
<circle cx="1142.2" cy="522.7" r="5.0" fill="#00BFC4"/>
<circle cx="1146.5" cy="522.7" r="5.0" fill="#00BFC4"/>
<circle cx="1126.5" cy="526.3" r="5.0" fill="#00BFC4"/>
<circle cx="1135.1" cy="525.9" r="5.0" fill="#00BFC4"/>
<circle cx="1143.7" cy="525.5" r="5.0" fill="#00BFC4"/>
<circle cx="1152.2" cy="525.5" r="5.0" fill="#00BFC4"/>
<circle cx="1160.1" cy="525.9" r="5.0" fill="#00BFC4"/>
<line x1="1116.5" y1="529.8" x2="1166.6" y2="521.2" stroke="#F8766D" stroke-width="2.7"/>
<line x1="1122.2" y1="528.8" x2="1166.6" y2="521.2" stroke="#00BFC4" stroke-width="2.7"/>
<rect x="1108.70" y="477.65" width="63.2" height="54.2" fill="none" stroke="#333" stroke-width="3.2"/></g>
<line x1="1100.70" y1="479.2" x2="1108.70" y2="479.2" stroke="#333" stroke-width="2.8"/>
<text transform="translate(1093.40,487.40) scale(1.16,1)" font-size="22" text-anchor="end" fill="#4D4D4D">5</text>
<line x1="1100.70" y1="488.9" x2="1108.70" y2="488.9" stroke="#333" stroke-width="2.8"/>
<text transform="translate(1093.40,497.10) scale(1.16,1)" font-size="22" text-anchor="end" fill="#4D4D4D">4</text>
<line x1="1100.70" y1="498.59999999999997" x2="1108.70" y2="498.59999999999997" stroke="#333" stroke-width="2.8"/>
<text transform="translate(1093.40,506.80) scale(1.16,1)" font-size="22" text-anchor="end" fill="#4D4D4D">3</text>
<line x1="1100.70" y1="508.3" x2="1108.70" y2="508.3" stroke="#333" stroke-width="2.8"/>
<text transform="translate(1093.40,516.50) scale(1.16,1)" font-size="22" text-anchor="end" fill="#4D4D4D">2</text>
<line x1="1100.70" y1="518.1" x2="1108.70" y2="518.1" stroke="#333" stroke-width="2.8"/>
<text transform="translate(1093.40,526.30) scale(1.16,1)" font-size="22" text-anchor="end" fill="#4D4D4D">1</text>
<line x1="1100.70" y1="527.8000000000001" x2="1108.70" y2="527.8000000000001" stroke="#333" stroke-width="2.8"/>
<text transform="translate(1093.40,536.00) scale(1.16,1)" font-size="22" text-anchor="end" fill="#4D4D4D">0</text>
<g clip-path="url(#s24)"><rect x="164.20" y="548.60" width="63.2" height="49.2" fill="#D9D9D9" stroke="#333" stroke-width="3.2"/>
<text x="195.80" y="582.60" font-size="25" text-anchor="middle" fill="#1A1A1A">C10orf54</text></g>
<g clip-path="url(#p24)"><rect x="164.20" y="597.80" width="63.2" height="54.2" fill="#fff"/>
<circle cx="210.1" cy="603.3" r="6.0" fill="#F8766D"/>
<circle cx="220.1" cy="602.6" r="6.0" fill="#F8766D"/>
<circle cx="210.1" cy="611.9" r="6.0" fill="#F8766D"/>
<circle cx="220.8" cy="615.5" r="6.0" fill="#F8766D"/>
<circle cx="217.3" cy="621.2" r="6.0" fill="#F8766D"/>
<circle cx="211.5" cy="626.2" r="6.0" fill="#F8766D"/>
<circle cx="200.1" cy="627.6" r="6.0" fill="#F8766D"/>
<circle cx="167.9" cy="641.2" r="6.0" fill="#F8766D"/>
<circle cx="215.8" cy="638.4" r="6.0" fill="#F8766D"/>
<circle cx="215.8" cy="608.3" r="6.0" fill="#F8766D"/>
<circle cx="206.5" cy="622.6" r="6.0" fill="#F8766D"/>
<circle cx="214.4" cy="616.9" r="6.0" fill="#F8766D"/>
<circle cx="222.3" cy="624.1" r="6.0" fill="#F8766D"/>
<circle cx="207.2" cy="606.9" r="6.0" fill="#F8766D"/>
<circle cx="221.6" cy="608.3" r="6.0" fill="#F8766D"/>
<circle cx="204.4" cy="624.1" r="6.0" fill="#F8766D"/>
<circle cx="210.1" cy="617.6" r="6.0" fill="#F8766D"/>
<circle cx="215.1" cy="602.9" r="5.0" fill="#F8766D"/>
<circle cx="210.1" cy="607.6" r="5.0" fill="#F8766D"/>
<circle cx="213.0" cy="605.8" r="5.0" fill="#F8766D"/>
<circle cx="208.7" cy="605.1" r="5.0" fill="#F8766D"/>
<circle cx="218.0" cy="605.5" r="5.0" fill="#F8766D"/>
<circle cx="220.8" cy="605.5" r="5.0" fill="#F8766D"/>
<circle cx="215.5" cy="613.7" r="5.0" fill="#F8766D"/>
<circle cx="213.7" cy="616.5" r="5.0" fill="#F8766D"/>
<circle cx="213.0" cy="610.1" r="5.0" fill="#F8766D"/>
<circle cx="208.3" cy="617.3" r="5.0" fill="#F8766D"/>
<circle cx="212.3" cy="614.4" r="5.0" fill="#F8766D"/>
<circle cx="208.7" cy="609.4" r="5.0" fill="#F8766D"/>
<circle cx="215.8" cy="610.1" r="5.0" fill="#F8766D"/>
<circle cx="210.1" cy="614.8" r="5.0" fill="#F8766D"/>
<circle cx="219.1" cy="618.3" r="5.0" fill="#F8766D"/>
<circle cx="218.3" cy="611.9" r="5.0" fill="#F8766D"/>
<circle cx="217.6" cy="616.2" r="5.0" fill="#F8766D"/>
<circle cx="221.6" cy="619.8" r="5.0" fill="#F8766D"/>
<circle cx="221.2" cy="611.9" r="5.0" fill="#F8766D"/>
<circle cx="215.5" cy="616.5" r="5.0" fill="#F8766D"/>
<circle cx="214.4" cy="623.7" r="5.0" fill="#F8766D"/>
<circle cx="211.9" cy="621.9" r="5.0" fill="#F8766D"/>
<circle cx="215.8" cy="619.1" r="5.0" fill="#F8766D"/>
<circle cx="219.8" cy="622.6" r="5.0" fill="#F8766D"/>
<circle cx="213.7" cy="619.4" r="5.0" fill="#F8766D"/>
<circle cx="205.8" cy="626.9" r="5.0" fill="#F8766D"/>
<circle cx="209.0" cy="624.4" r="5.0" fill="#F8766D"/>
<circle cx="213.0" cy="621.6" r="5.0" fill="#F8766D"/>
<circle cx="216.9" cy="625.1" r="5.0" fill="#F8766D"/>
<circle cx="208.0" cy="625.1" r="5.0" fill="#F8766D"/>
<circle cx="210.8" cy="621.9" r="5.0" fill="#F8766D"/>
<circle cx="203.3" cy="625.1" r="5.0" fill="#F8766D"/>
<circle cx="202.2" cy="625.9" r="5.0" fill="#F8766D"/>
<circle cx="215.1" cy="612.6" r="5.0" fill="#F8766D"/>
<circle cx="211.5" cy="607.6" r="5.0" fill="#F8766D"/>
<circle cx="218.7" cy="608.3" r="5.0" fill="#F8766D"/>
<circle cx="213.0" cy="613.0" r="5.0" fill="#F8766D"/>
<circle cx="210.5" cy="619.8" r="5.0" fill="#F8766D"/>
<circle cx="205.5" cy="623.3" r="5.0" fill="#F8766D"/>
<circle cx="208.3" cy="620.1" r="5.0" fill="#F8766D"/>
<circle cx="218.3" cy="620.5" r="5.0" fill="#F8766D"/>
<circle cx="210.8" cy="611.9" r="5.0" fill="#F8766D"/>
<circle cx="218.0" cy="612.6" r="5.0" fill="#F8766D"/>
<circle cx="209.4" cy="620.5" r="5.0" fill="#F8766D"/>
<circle cx="212.3" cy="617.3" r="5.0" fill="#F8766D"/>
<circle cx="208.7" cy="612.3" r="5.0" fill="#F8766D"/>
<circle cx="207.2" cy="620.8" r="5.0" fill="#F8766D"/>
<circle cx="200.1" cy="603.3" r="6.0" fill="#00BFC4"/>
<circle cx="191.5" cy="609.0" r="6.0" fill="#00BFC4"/>
<circle cx="197.2" cy="615.5" r="6.0" fill="#00BFC4"/>
<circle cx="203.7" cy="616.2" r="6.0" fill="#00BFC4"/>
<circle cx="200.1" cy="621.2" r="6.0" fill="#00BFC4"/>
<circle cx="184.3" cy="629.1" r="6.0" fill="#00BFC4"/>
<circle cx="198.7" cy="630.5" r="6.0" fill="#00BFC4"/>
<circle cx="218.7" cy="632.7" r="6.0" fill="#00BFC4"/>
<circle cx="218.7" cy="636.2" r="6.0" fill="#00BFC4"/>
<circle cx="177.9" cy="641.2" r="6.0" fill="#00BFC4"/>
<circle cx="188.6" cy="640.5" r="6.0" fill="#00BFC4"/>
<circle cx="199.4" cy="640.5" r="6.0" fill="#00BFC4"/>
<circle cx="208.7" cy="642.0" r="6.0" fill="#00BFC4"/>
<circle cx="210.1" cy="636.2" r="6.0" fill="#00BFC4"/>
<circle cx="187.2" cy="634.1" r="6.0" fill="#00BFC4"/>
<circle cx="204.4" cy="634.1" r="6.0" fill="#00BFC4"/>
<circle cx="213.0" cy="636.9" r="6.0" fill="#00BFC4"/>
<circle cx="194.4" cy="635.5" r="6.0" fill="#00BFC4"/>
<circle cx="181.5" cy="634.1" r="6.0" fill="#00BFC4"/>
<circle cx="178.6" cy="636.9" r="6.0" fill="#00BFC4"/>
<circle cx="185.1" cy="636.9" r="6.0" fill="#00BFC4"/>
<circle cx="190.1" cy="634.1" r="6.0" fill="#00BFC4"/>
<circle cx="195.8" cy="606.2" r="5.0" fill="#00BFC4"/>
<circle cx="194.4" cy="612.3" r="5.0" fill="#00BFC4"/>
<circle cx="200.4" cy="615.8" r="5.0" fill="#00BFC4"/>
<circle cx="198.7" cy="618.3" r="5.0" fill="#00BFC4"/>
<circle cx="201.9" cy="618.7" r="5.0" fill="#00BFC4"/>
<circle cx="199.4" cy="625.9" r="5.0" fill="#00BFC4"/>
<circle cx="186.5" cy="634.8" r="5.0" fill="#00BFC4"/>
<circle cx="185.8" cy="631.6" r="5.0" fill="#00BFC4"/>
<circle cx="189.3" cy="632.3" r="5.0" fill="#00BFC4"/>
<circle cx="182.9" cy="631.6" r="5.0" fill="#00BFC4"/>
<circle cx="181.5" cy="633.0" r="5.0" fill="#00BFC4"/>
<circle cx="184.7" cy="633.0" r="5.0" fill="#00BFC4"/>
<circle cx="187.2" cy="631.6" r="5.0" fill="#00BFC4"/>
<circle cx="199.0" cy="635.5" r="5.0" fill="#00BFC4"/>
<circle cx="192.9" cy="632.3" r="5.0" fill="#00BFC4"/>
<circle cx="201.5" cy="632.3" r="5.0" fill="#00BFC4"/>
<circle cx="196.5" cy="633.0" r="5.0" fill="#00BFC4"/>
<circle cx="194.4" cy="632.3" r="5.0" fill="#00BFC4"/>
<circle cx="218.7" cy="634.4" r="5.0" fill="#00BFC4"/>
<circle cx="214.4" cy="634.4" r="5.0" fill="#00BFC4"/>
<circle cx="215.8" cy="634.8" r="5.0" fill="#00BFC4"/>
<circle cx="213.7" cy="639.1" r="5.0" fill="#00BFC4"/>
<circle cx="214.4" cy="636.2" r="5.0" fill="#00BFC4"/>
<circle cx="215.8" cy="636.6" r="5.0" fill="#00BFC4"/>
<circle cx="183.3" cy="640.9" r="5.0" fill="#00BFC4"/>
<circle cx="182.5" cy="637.7" r="5.0" fill="#00BFC4"/>
<circle cx="179.7" cy="637.7" r="5.0" fill="#00BFC4"/>
<circle cx="178.3" cy="639.1" r="5.0" fill="#00BFC4"/>
<circle cx="181.5" cy="639.1" r="5.0" fill="#00BFC4"/>
<circle cx="194.0" cy="640.5" r="5.0" fill="#00BFC4"/>
<circle cx="187.9" cy="637.3" r="5.0" fill="#00BFC4"/>
<circle cx="191.5" cy="638.0" r="5.0" fill="#00BFC4"/>
<circle cx="185.1" cy="637.3" r="5.0" fill="#00BFC4"/>
<circle cx="183.6" cy="638.7" r="5.0" fill="#00BFC4"/>
<circle cx="186.8" cy="638.7" r="5.0" fill="#00BFC4"/>
<circle cx="189.3" cy="637.3" r="5.0" fill="#00BFC4"/>
<circle cx="204.0" cy="641.2" r="5.0" fill="#00BFC4"/>
<circle cx="204.7" cy="638.4" r="5.0" fill="#00BFC4"/>
<circle cx="201.9" cy="637.3" r="5.0" fill="#00BFC4"/>
<circle cx="196.9" cy="638.0" r="5.0" fill="#00BFC4"/>
<circle cx="194.7" cy="637.3" r="5.0" fill="#00BFC4"/>
<circle cx="209.4" cy="639.1" r="5.0" fill="#00BFC4"/>
<circle cx="206.5" cy="638.0" r="5.0" fill="#00BFC4"/>
<circle cx="210.8" cy="639.5" r="5.0" fill="#00BFC4"/>
<circle cx="207.2" cy="635.2" r="5.0" fill="#00BFC4"/>
<circle cx="211.5" cy="636.6" r="5.0" fill="#00BFC4"/>
<circle cx="190.8" cy="634.8" r="5.0" fill="#00BFC4"/>
<circle cx="184.3" cy="634.1" r="5.0" fill="#00BFC4"/>
<circle cx="182.9" cy="635.5" r="5.0" fill="#00BFC4"/>
<circle cx="186.1" cy="635.5" r="5.0" fill="#00BFC4"/>
<circle cx="188.6" cy="634.1" r="5.0" fill="#00BFC4"/>
<circle cx="208.7" cy="635.5" r="5.0" fill="#00BFC4"/>
<circle cx="199.4" cy="634.8" r="5.0" fill="#00BFC4"/>
<circle cx="189.7" cy="636.2" r="5.0" fill="#00BFC4"/>
<circle cx="192.2" cy="634.8" r="5.0" fill="#00BFC4"/>
<circle cx="180.0" cy="635.5" r="5.0" fill="#00BFC4"/>
<circle cx="183.3" cy="635.5" r="5.0" fill="#00BFC4"/>
<circle cx="185.8" cy="634.1" r="5.0" fill="#00BFC4"/>
<circle cx="181.8" cy="636.9" r="5.0" fill="#00BFC4"/>
<circle cx="184.3" cy="635.5" r="5.0" fill="#00BFC4"/>
<circle cx="187.6" cy="635.5" r="5.0" fill="#00BFC4"/>
<line x1="169.3" y1="649.8" x2="223.0" y2="626.2" stroke="#F8766D" stroke-width="2.7"/>
<line x1="200.2" y1="633.9" x2="223.4" y2="623.7" stroke="#00BFC4" stroke-width="2.7"/>
<rect x="164.20" y="597.80" width="63.2" height="54.2" fill="none" stroke="#333" stroke-width="3.2"/></g>
<line x1="156.20" y1="599.7" x2="164.20" y2="599.7" stroke="#333" stroke-width="2.8"/>
<text transform="translate(148.90,607.90) scale(1.16,1)" font-size="22" text-anchor="end" fill="#4D4D4D">8</text>
<line x1="156.20" y1="610.1" x2="164.20" y2="610.1" stroke="#333" stroke-width="2.8"/>
<text transform="translate(148.90,618.30) scale(1.16,1)" font-size="22" text-anchor="end" fill="#4D4D4D">6</text>
<line x1="156.20" y1="620.6" x2="164.20" y2="620.6" stroke="#333" stroke-width="2.8"/>
<text transform="translate(148.90,628.80) scale(1.16,1)" font-size="22" text-anchor="end" fill="#4D4D4D">4</text>
<line x1="156.20" y1="631.3000000000001" x2="164.20" y2="631.3000000000001" stroke="#333" stroke-width="2.8"/>
<text transform="translate(148.90,639.50) scale(1.16,1)" font-size="22" text-anchor="end" fill="#4D4D4D">2</text>
<line x1="156.20" y1="642.2" x2="164.20" y2="642.2" stroke="#333" stroke-width="2.8"/>
<text transform="translate(148.90,650.40) scale(1.16,1)" font-size="22" text-anchor="end" fill="#4D4D4D">0</text>
<g clip-path="url(#s25)"><rect x="353.10" y="548.60" width="63.2" height="49.2" fill="#D9D9D9" stroke="#333" stroke-width="3.2"/>
<text x="384.70" y="582.60" font-size="25" text-anchor="middle" fill="#1A1A1A">COX2</text></g>
<g clip-path="url(#p25)"><rect x="353.10" y="597.80" width="63.2" height="54.2" fill="#fff"/>
<circle cx="359.0" cy="604.0" r="6.0" fill="#F8766D"/>
<circle cx="359.0" cy="611.2" r="6.0" fill="#F8766D"/>
<circle cx="407.7" cy="601.9" r="6.0" fill="#F8766D"/>
<circle cx="409.1" cy="602.6" r="6.0" fill="#F8766D"/>
<circle cx="407.7" cy="613.3" r="6.0" fill="#F8766D"/>
<circle cx="402.0" cy="617.6" r="6.0" fill="#F8766D"/>
<circle cx="403.4" cy="629.8" r="6.0" fill="#F8766D"/>
<circle cx="400.5" cy="636.9" r="6.0" fill="#F8766D"/>
<circle cx="403.4" cy="642.7" r="6.0" fill="#F8766D"/>
<circle cx="410.6" cy="645.5" r="6.0" fill="#F8766D"/>
<circle cx="370.5" cy="615.5" r="6.0" fill="#F8766D"/>
<circle cx="370.5" cy="640.5" r="6.0" fill="#F8766D"/>
<circle cx="384.8" cy="648.4" r="6.0" fill="#F8766D"/>
<circle cx="393.4" cy="601.9" r="6.0" fill="#F8766D"/>
<circle cx="359.0" cy="607.6" r="5.0" fill="#F8766D"/>
<circle cx="364.7" cy="613.3" r="5.0" fill="#F8766D"/>
<circle cx="408.4" cy="602.2" r="5.0" fill="#F8766D"/>
<circle cx="407.7" cy="607.6" r="5.0" fill="#F8766D"/>
<circle cx="408.4" cy="608.0" r="5.0" fill="#F8766D"/>
<circle cx="404.8" cy="615.5" r="5.0" fill="#F8766D"/>
<circle cx="402.7" cy="623.7" r="5.0" fill="#F8766D"/>
<circle cx="402.0" cy="633.4" r="5.0" fill="#F8766D"/>
<circle cx="402.0" cy="639.8" r="5.0" fill="#F8766D"/>
<circle cx="407.0" cy="644.1" r="5.0" fill="#F8766D"/>
<circle cx="366.2" cy="601.9" r="6.0" fill="#00BFC4"/>
<circle cx="376.2" cy="602.6" r="6.0" fill="#00BFC4"/>
<circle cx="384.8" cy="604.0" r="6.0" fill="#00BFC4"/>
<circle cx="394.8" cy="604.7" r="6.0" fill="#00BFC4"/>
<circle cx="372.6" cy="615.5" r="6.0" fill="#00BFC4"/>
<circle cx="382.6" cy="614.0" r="6.0" fill="#00BFC4"/>
<circle cx="390.5" cy="615.5" r="6.0" fill="#00BFC4"/>
<circle cx="406.3" cy="621.2" r="6.0" fill="#00BFC4"/>
<circle cx="397.7" cy="621.2" r="6.0" fill="#00BFC4"/>
<circle cx="379.1" cy="622.6" r="6.0" fill="#00BFC4"/>
<circle cx="389.1" cy="624.8" r="6.0" fill="#00BFC4"/>
<circle cx="369.0" cy="632.7" r="6.0" fill="#00BFC4"/>
<circle cx="379.1" cy="631.2" r="6.0" fill="#00BFC4"/>
<circle cx="393.4" cy="632.7" r="6.0" fill="#00BFC4"/>
<circle cx="370.5" cy="639.8" r="6.0" fill="#00BFC4"/>
<circle cx="381.2" cy="639.8" r="6.0" fill="#00BFC4"/>
<circle cx="393.4" cy="642.7" r="6.0" fill="#00BFC4"/>
<circle cx="409.1" cy="639.5" r="6.0" fill="#00BFC4"/>
<circle cx="371.9" cy="647.0" r="6.0" fill="#00BFC4"/>
<circle cx="381.9" cy="647.0" r="6.0" fill="#00BFC4"/>
<circle cx="391.9" cy="647.0" r="6.0" fill="#00BFC4"/>
<circle cx="382.6" cy="631.2" r="6.0" fill="#00BFC4"/>
<circle cx="377.6" cy="635.5" r="6.0" fill="#00BFC4"/>
<circle cx="386.2" cy="636.9" r="6.0" fill="#00BFC4"/>
<circle cx="387.7" cy="626.2" r="6.0" fill="#00BFC4"/>
<circle cx="374.1" cy="626.2" r="6.0" fill="#00BFC4"/>
<circle cx="371.2" cy="602.2" r="5.0" fill="#00BFC4"/>
<circle cx="380.5" cy="603.3" r="5.0" fill="#00BFC4"/>
<circle cx="389.8" cy="604.4" r="5.0" fill="#00BFC4"/>
<circle cx="383.7" cy="609.0" r="5.0" fill="#00BFC4"/>
<circle cx="392.7" cy="610.1" r="5.0" fill="#00BFC4"/>
<circle cx="377.6" cy="614.8" r="5.0" fill="#00BFC4"/>
<circle cx="375.8" cy="619.1" r="5.0" fill="#00BFC4"/>
<circle cx="373.3" cy="620.8" r="5.0" fill="#00BFC4"/>
<circle cx="386.6" cy="614.8" r="5.0" fill="#00BFC4"/>
<circle cx="380.9" cy="618.3" r="5.0" fill="#00BFC4"/>
<circle cx="394.1" cy="618.3" r="5.0" fill="#00BFC4"/>
<circle cx="389.8" cy="620.1" r="5.0" fill="#00BFC4"/>
<circle cx="389.1" cy="620.8" r="5.0" fill="#00BFC4"/>
<circle cx="402.0" cy="621.2" r="5.0" fill="#00BFC4"/>
<circle cx="393.4" cy="623.0" r="5.0" fill="#00BFC4"/>
<circle cx="395.5" cy="626.9" r="5.0" fill="#00BFC4"/>
<circle cx="392.7" cy="623.7" r="5.0" fill="#00BFC4"/>
<circle cx="384.1" cy="623.7" r="5.0" fill="#00BFC4"/>
<circle cx="379.1" cy="626.9" r="5.0" fill="#00BFC4"/>
<circle cx="380.9" cy="626.9" r="5.0" fill="#00BFC4"/>
<circle cx="383.4" cy="624.4" r="5.0" fill="#00BFC4"/>
<circle cx="376.6" cy="624.4" r="5.0" fill="#00BFC4"/>
<circle cx="384.1" cy="628.0" r="5.0" fill="#00BFC4"/>
<circle cx="391.2" cy="628.7" r="5.0" fill="#00BFC4"/>
<circle cx="385.9" cy="628.0" r="5.0" fill="#00BFC4"/>
<circle cx="388.4" cy="625.5" r="5.0" fill="#00BFC4"/>
<circle cx="374.1" cy="631.9" r="5.0" fill="#00BFC4"/>
<circle cx="369.8" cy="636.2" r="5.0" fill="#00BFC4"/>
<circle cx="373.3" cy="634.1" r="5.0" fill="#00BFC4"/>
<circle cx="371.5" cy="629.4" r="5.0" fill="#00BFC4"/>
<circle cx="374.8" cy="635.5" r="5.0" fill="#00BFC4"/>
<circle cx="380.1" cy="635.5" r="5.0" fill="#00BFC4"/>
<circle cx="380.9" cy="631.2" r="5.0" fill="#00BFC4"/>
<circle cx="378.3" cy="633.4" r="5.0" fill="#00BFC4"/>
<circle cx="382.6" cy="634.1" r="5.0" fill="#00BFC4"/>
<circle cx="383.4" cy="628.7" r="5.0" fill="#00BFC4"/>
<circle cx="376.6" cy="628.7" r="5.0" fill="#00BFC4"/>
<circle cx="393.4" cy="637.7" r="5.0" fill="#00BFC4"/>
<circle cx="388.0" cy="631.9" r="5.0" fill="#00BFC4"/>
<circle cx="389.8" cy="634.8" r="5.0" fill="#00BFC4"/>
<circle cx="390.5" cy="629.4" r="5.0" fill="#00BFC4"/>
<circle cx="375.8" cy="639.8" r="5.0" fill="#00BFC4"/>
<circle cx="371.2" cy="643.4" r="5.0" fill="#00BFC4"/>
<circle cx="374.1" cy="637.7" r="5.0" fill="#00BFC4"/>
<circle cx="376.6" cy="643.4" r="5.0" fill="#00BFC4"/>
<circle cx="381.6" cy="643.4" r="5.0" fill="#00BFC4"/>
<circle cx="381.9" cy="635.5" r="5.0" fill="#00BFC4"/>
<circle cx="379.4" cy="637.7" r="5.0" fill="#00BFC4"/>
<circle cx="383.7" cy="638.4" r="5.0" fill="#00BFC4"/>
<circle cx="387.7" cy="644.8" r="5.0" fill="#00BFC4"/>
<circle cx="392.7" cy="644.8" r="5.0" fill="#00BFC4"/>
<circle cx="389.8" cy="639.8" r="5.0" fill="#00BFC4"/>
<circle cx="376.9" cy="647.0" r="5.0" fill="#00BFC4"/>
<circle cx="386.9" cy="647.0" r="5.0" fill="#00BFC4"/>
<circle cx="379.8" cy="641.2" r="5.0" fill="#00BFC4"/>
<circle cx="384.1" cy="642.0" r="5.0" fill="#00BFC4"/>
<circle cx="389.1" cy="642.0" r="5.0" fill="#00BFC4"/>
<circle cx="380.1" cy="633.4" r="5.0" fill="#00BFC4"/>
<circle cx="384.4" cy="634.1" r="5.0" fill="#00BFC4"/>
<circle cx="385.1" cy="628.7" r="5.0" fill="#00BFC4"/>
<circle cx="378.3" cy="628.7" r="5.0" fill="#00BFC4"/>
<circle cx="381.9" cy="636.2" r="5.0" fill="#00BFC4"/>
<circle cx="375.8" cy="630.9" r="5.0" fill="#00BFC4"/>
<circle cx="386.9" cy="631.6" r="5.0" fill="#00BFC4"/>
<line x1="357.9" y1="624.4" x2="412.0" y2="624.4" stroke="#F8766D" stroke-width="2.7"/>
<line x1="366.9" y1="624.4" x2="407.7" y2="624.4" stroke="#00BFC4" stroke-width="2.7"/>
<rect x="353.10" y="597.80" width="63.2" height="54.2" fill="none" stroke="#333" stroke-width="3.2"/></g>
<line x1="345.10" y1="599.9000000000001" x2="353.10" y2="599.9000000000001" stroke="#333" stroke-width="2.8"/>
<text transform="translate(337.80,608.10) scale(1.16,1)" font-size="22" text-anchor="end" fill="#4D4D4D">5.0e-05</text>
<line x1="345.10" y1="612.5000000000001" x2="353.10" y2="612.5000000000001" stroke="#333" stroke-width="2.8"/>
<text transform="translate(337.80,620.70) scale(1.16,1)" font-size="22" text-anchor="end" fill="#4D4D4D">2.5e-05</text>
<line x1="345.10" y1="625.4000000000001" x2="353.10" y2="625.4000000000001" stroke="#333" stroke-width="2.8"/>
<text transform="translate(337.80,633.60) scale(1.16,1)" font-size="22" text-anchor="end" fill="#4D4D4D">0.0e+00</text>
<line x1="345.10" y1="638.0000000000001" x2="353.10" y2="638.0000000000001" stroke="#333" stroke-width="2.8"/>
<text transform="translate(337.80,646.20) scale(1.16,1)" font-size="22" text-anchor="end" fill="#4D4D4D">-2.5e-05</text>
<line x1="345.10" y1="650.8000000000001" x2="353.10" y2="650.8000000000001" stroke="#333" stroke-width="2.8"/>
<text transform="translate(337.80,659.00) scale(1.16,1)" font-size="22" text-anchor="end" fill="#4D4D4D">-5.0e-05</text>
<g clip-path="url(#s26)"><rect x="542.00" y="548.60" width="63.2" height="49.2" fill="#D9D9D9" stroke="#333" stroke-width="3.2"/>
<text x="573.60" y="582.60" font-size="25" text-anchor="middle" fill="#1A1A1A">COX1</text></g>
<g clip-path="url(#p26)"><rect x="542.00" y="597.80" width="63.2" height="54.2" fill="#fff"/>
<circle cx="545.9" cy="603.3" r="6.0" fill="#F8766D"/>
<circle cx="546.6" cy="620.5" r="6.0" fill="#F8766D"/>
<circle cx="565.2" cy="601.9" r="6.0" fill="#F8766D"/>
<circle cx="575.2" cy="601.9" r="6.0" fill="#F8766D"/>
<circle cx="592.4" cy="603.3" r="6.0" fill="#F8766D"/>
<circle cx="598.1" cy="613.3" r="6.0" fill="#F8766D"/>
<circle cx="589.5" cy="621.2" r="6.0" fill="#F8766D"/>
<circle cx="593.8" cy="631.2" r="6.0" fill="#F8766D"/>
<circle cx="595.3" cy="637.7" r="6.0" fill="#F8766D"/>
<circle cx="592.4" cy="644.1" r="6.0" fill="#F8766D"/>
<circle cx="570.2" cy="645.5" r="6.0" fill="#F8766D"/>
<circle cx="582.4" cy="647.0" r="6.0" fill="#F8766D"/>
<circle cx="552.3" cy="606.9" r="6.0" fill="#F8766D"/>
<circle cx="549.1" cy="605.1" r="5.0" fill="#F8766D"/>
<circle cx="570.2" cy="601.9" r="5.0" fill="#F8766D"/>
<circle cx="595.3" cy="608.3" r="5.0" fill="#F8766D"/>
<circle cx="593.8" cy="617.3" r="5.0" fill="#F8766D"/>
<circle cx="591.7" cy="626.2" r="5.0" fill="#F8766D"/>
<circle cx="594.5" cy="634.4" r="5.0" fill="#F8766D"/>
<circle cx="593.8" cy="640.9" r="5.0" fill="#F8766D"/>
<circle cx="587.4" cy="645.5" r="5.0" fill="#F8766D"/>
<circle cx="576.3" cy="646.3" r="5.0" fill="#F8766D"/>
<circle cx="554.5" cy="604.7" r="6.0" fill="#00BFC4"/>
<circle cx="565.2" cy="606.2" r="6.0" fill="#00BFC4"/>
<circle cx="568.1" cy="609.0" r="6.0" fill="#00BFC4"/>
<circle cx="583.8" cy="601.2" r="6.0" fill="#00BFC4"/>
<circle cx="580.9" cy="611.2" r="6.0" fill="#00BFC4"/>
<circle cx="588.1" cy="611.2" r="6.0" fill="#00BFC4"/>
<circle cx="558.8" cy="616.9" r="6.0" fill="#00BFC4"/>
<circle cx="568.8" cy="616.9" r="6.0" fill="#00BFC4"/>
<circle cx="578.1" cy="617.6" r="6.0" fill="#00BFC4"/>
<circle cx="597.4" cy="622.3" r="6.0" fill="#00BFC4"/>
<circle cx="559.5" cy="628.4" r="6.0" fill="#00BFC4"/>
<circle cx="570.2" cy="628.4" r="6.0" fill="#00BFC4"/>
<circle cx="582.4" cy="627.6" r="6.0" fill="#00BFC4"/>
<circle cx="559.5" cy="636.9" r="6.0" fill="#00BFC4"/>
<circle cx="570.2" cy="636.9" r="6.0" fill="#00BFC4"/>
<circle cx="582.4" cy="638.4" r="6.0" fill="#00BFC4"/>
<circle cx="555.2" cy="641.2" r="6.0" fill="#00BFC4"/>
<circle cx="573.1" cy="644.1" r="6.0" fill="#00BFC4"/>
<circle cx="558.8" cy="648.4" r="6.0" fill="#00BFC4"/>
<circle cx="595.3" cy="648.4" r="6.0" fill="#00BFC4"/>
<circle cx="559.8" cy="605.5" r="5.0" fill="#00BFC4"/>
<circle cx="566.6" cy="607.6" r="5.0" fill="#00BFC4"/>
<circle cx="567.0" cy="611.5" r="5.0" fill="#00BFC4"/>
<circle cx="563.4" cy="613.0" r="5.0" fill="#00BFC4"/>
<circle cx="568.4" cy="613.0" r="5.0" fill="#00BFC4"/>
<circle cx="582.4" cy="606.2" r="5.0" fill="#00BFC4"/>
<circle cx="586.0" cy="606.2" r="5.0" fill="#00BFC4"/>
<circle cx="584.5" cy="611.2" r="5.0" fill="#00BFC4"/>
<circle cx="579.5" cy="614.4" r="5.0" fill="#00BFC4"/>
<circle cx="583.1" cy="614.4" r="5.0" fill="#00BFC4"/>
<circle cx="563.8" cy="616.9" r="5.0" fill="#00BFC4"/>
<circle cx="559.1" cy="622.6" r="5.0" fill="#00BFC4"/>
<circle cx="573.4" cy="617.3" r="5.0" fill="#00BFC4"/>
<circle cx="569.5" cy="622.6" r="5.0" fill="#00BFC4"/>
<circle cx="580.2" cy="622.6" r="5.0" fill="#00BFC4"/>
<circle cx="564.8" cy="628.4" r="5.0" fill="#00BFC4"/>
<circle cx="559.5" cy="632.7" r="5.0" fill="#00BFC4"/>
<circle cx="576.3" cy="628.0" r="5.0" fill="#00BFC4"/>
<circle cx="570.2" cy="632.7" r="5.0" fill="#00BFC4"/>
<circle cx="582.4" cy="633.0" r="5.0" fill="#00BFC4"/>
<circle cx="564.8" cy="636.9" r="5.0" fill="#00BFC4"/>
<circle cx="557.3" cy="639.1" r="5.0" fill="#00BFC4"/>
<circle cx="559.1" cy="642.7" r="5.0" fill="#00BFC4"/>
<circle cx="576.3" cy="637.7" r="5.0" fill="#00BFC4"/>
<circle cx="571.6" cy="640.5" r="5.0" fill="#00BFC4"/>
<circle cx="577.7" cy="641.2" r="5.0" fill="#00BFC4"/>
<circle cx="557.0" cy="644.8" r="5.0" fill="#00BFC4"/>
<line x1="546.6" y1="625.1" x2="601.0" y2="625.1" stroke="#F8766D" stroke-width="2.7"/>
<line x1="555.2" y1="625.1" x2="596.7" y2="625.1" stroke="#00BFC4" stroke-width="2.7"/>
<rect x="542.00" y="597.80" width="63.2" height="54.2" fill="none" stroke="#333" stroke-width="3.2"/></g>
<line x1="534.00" y1="599.9000000000001" x2="542.00" y2="599.9000000000001" stroke="#333" stroke-width="2.8"/>
<text transform="translate(526.70,608.10) scale(1.16,1)" font-size="22" text-anchor="end" fill="#4D4D4D">5.0e-05</text>
<line x1="534.00" y1="612.5000000000001" x2="542.00" y2="612.5000000000001" stroke="#333" stroke-width="2.8"/>
<text transform="translate(526.70,620.70) scale(1.16,1)" font-size="22" text-anchor="end" fill="#4D4D4D">2.5e-05</text>
<line x1="534.00" y1="625.4000000000001" x2="542.00" y2="625.4000000000001" stroke="#333" stroke-width="2.8"/>
<text transform="translate(526.70,633.60) scale(1.16,1)" font-size="22" text-anchor="end" fill="#4D4D4D">0.0e+00</text>
<line x1="534.00" y1="638.0000000000001" x2="542.00" y2="638.0000000000001" stroke="#333" stroke-width="2.8"/>
<text transform="translate(526.70,646.20) scale(1.16,1)" font-size="22" text-anchor="end" fill="#4D4D4D">-2.5e-05</text>
<line x1="534.00" y1="650.8000000000001" x2="542.00" y2="650.8000000000001" stroke="#333" stroke-width="2.8"/>
<text transform="translate(526.70,659.00) scale(1.16,1)" font-size="22" text-anchor="end" fill="#4D4D4D">-5.0e-05</text>
<g clip-path="url(#s27)"><rect x="730.90" y="548.60" width="63.2" height="49.2" fill="#D9D9D9" stroke="#333" stroke-width="3.2"/>
<text x="762.50" y="582.60" font-size="25" text-anchor="middle" fill="#1A1A1A">ND4</text></g>
<g clip-path="url(#p27)"><rect x="730.90" y="597.80" width="63.2" height="54.2" fill="#fff"/>
<circle cx="734.9" cy="606.9" r="6.0" fill="#F8766D"/>
<circle cx="778.5" cy="604.7" r="6.0" fill="#F8766D"/>
<circle cx="785.7" cy="611.9" r="6.0" fill="#F8766D"/>
<circle cx="749.9" cy="620.5" r="6.0" fill="#F8766D"/>
<circle cx="739.9" cy="636.9" r="6.0" fill="#F8766D"/>
<circle cx="734.9" cy="646.3" r="6.0" fill="#F8766D"/>
<circle cx="784.3" cy="631.9" r="6.0" fill="#F8766D"/>
<circle cx="787.1" cy="634.1" r="6.0" fill="#F8766D"/>
<circle cx="778.5" cy="636.9" r="6.0" fill="#F8766D"/>
<circle cx="784.3" cy="644.1" r="6.0" fill="#F8766D"/>
<circle cx="781.4" cy="645.5" r="6.0" fill="#F8766D"/>
<circle cx="782.1" cy="608.3" r="5.0" fill="#F8766D"/>
<circle cx="737.4" cy="641.6" r="5.0" fill="#F8766D"/>
<circle cx="785.7" cy="633.0" r="5.0" fill="#F8766D"/>
<circle cx="781.4" cy="634.4" r="5.0" fill="#F8766D"/>
<circle cx="784.3" cy="638.0" r="5.0" fill="#F8766D"/>
<circle cx="782.8" cy="635.5" r="5.0" fill="#F8766D"/>
<circle cx="785.7" cy="639.1" r="5.0" fill="#F8766D"/>
<circle cx="781.4" cy="640.5" r="5.0" fill="#F8766D"/>
<circle cx="780.0" cy="641.2" r="5.0" fill="#F8766D"/>
<circle cx="782.8" cy="644.8" r="5.0" fill="#F8766D"/>
<circle cx="749.2" cy="604.7" r="6.0" fill="#00BFC4"/>
<circle cx="759.2" cy="604.0" r="6.0" fill="#00BFC4"/>
<circle cx="767.1" cy="604.0" r="6.0" fill="#00BFC4"/>
<circle cx="749.2" cy="609.0" r="6.0" fill="#00BFC4"/>
<circle cx="772.8" cy="612.6" r="6.0" fill="#00BFC4"/>
<circle cx="785.7" cy="613.3" r="6.0" fill="#00BFC4"/>
<circle cx="784.3" cy="621.2" r="6.0" fill="#00BFC4"/>
<circle cx="761.4" cy="615.5" r="6.0" fill="#00BFC4"/>
<circle cx="769.9" cy="617.6" r="6.0" fill="#00BFC4"/>
<circle cx="749.9" cy="622.6" r="6.0" fill="#00BFC4"/>
<circle cx="744.9" cy="627.6" r="6.0" fill="#00BFC4"/>
<circle cx="755.6" cy="627.6" r="6.0" fill="#00BFC4"/>
<circle cx="767.1" cy="627.6" r="6.0" fill="#00BFC4"/>
<circle cx="775.7" cy="626.9" r="6.0" fill="#00BFC4"/>
<circle cx="745.6" cy="639.8" r="6.0" fill="#00BFC4"/>
<circle cx="755.6" cy="636.9" r="6.0" fill="#00BFC4"/>
<circle cx="767.1" cy="636.9" r="6.0" fill="#00BFC4"/>
<circle cx="769.9" cy="640.5" r="6.0" fill="#00BFC4"/>
<circle cx="752.8" cy="647.0" r="6.0" fill="#00BFC4"/>
<circle cx="762.8" cy="647.0" r="6.0" fill="#00BFC4"/>
<circle cx="771.4" cy="647.0" r="6.0" fill="#00BFC4"/>
<circle cx="754.2" cy="604.4" r="5.0" fill="#00BFC4"/>
<circle cx="749.2" cy="606.9" r="5.0" fill="#00BFC4"/>
<circle cx="763.1" cy="604.0" r="5.0" fill="#00BFC4"/>
<circle cx="754.2" cy="606.5" r="5.0" fill="#00BFC4"/>
<circle cx="760.3" cy="609.7" r="5.0" fill="#00BFC4"/>
<circle cx="769.9" cy="608.3" r="5.0" fill="#00BFC4"/>
<circle cx="767.1" cy="614.0" r="5.0" fill="#00BFC4"/>
<circle cx="771.4" cy="615.1" r="5.0" fill="#00BFC4"/>
<circle cx="785.0" cy="617.3" r="5.0" fill="#00BFC4"/>
<circle cx="780.0" cy="624.1" r="5.0" fill="#00BFC4"/>
<circle cx="765.7" cy="616.5" r="5.0" fill="#00BFC4"/>
<circle cx="768.5" cy="622.6" r="5.0" fill="#00BFC4"/>
<circle cx="772.8" cy="622.3" r="5.0" fill="#00BFC4"/>
<circle cx="747.4" cy="625.1" r="5.0" fill="#00BFC4"/>
<circle cx="752.8" cy="625.1" r="5.0" fill="#00BFC4"/>
<circle cx="750.3" cy="627.6" r="5.0" fill="#00BFC4"/>
<circle cx="745.3" cy="633.7" r="5.0" fill="#00BFC4"/>
<circle cx="761.4" cy="627.6" r="5.0" fill="#00BFC4"/>
<circle cx="755.6" cy="632.3" r="5.0" fill="#00BFC4"/>
<circle cx="771.4" cy="627.3" r="5.0" fill="#00BFC4"/>
<circle cx="767.1" cy="632.3" r="5.0" fill="#00BFC4"/>
<circle cx="750.6" cy="638.4" r="5.0" fill="#00BFC4"/>
<circle cx="749.2" cy="643.4" r="5.0" fill="#00BFC4"/>
<circle cx="761.4" cy="636.9" r="5.0" fill="#00BFC4"/>
<circle cx="754.2" cy="642.0" r="5.0" fill="#00BFC4"/>
<circle cx="759.2" cy="642.0" r="5.0" fill="#00BFC4"/>
<circle cx="768.5" cy="638.7" r="5.0" fill="#00BFC4"/>
<circle cx="764.9" cy="642.0" r="5.0" fill="#00BFC4"/>
<circle cx="769.2" cy="642.0" r="5.0" fill="#00BFC4"/>
<circle cx="766.4" cy="643.7" r="5.0" fill="#00BFC4"/>
<circle cx="770.7" cy="643.7" r="5.0" fill="#00BFC4"/>
<circle cx="757.8" cy="647.0" r="5.0" fill="#00BFC4"/>
<circle cx="767.1" cy="647.0" r="5.0" fill="#00BFC4"/>
<line x1="735.6" y1="625.1" x2="789.3" y2="625.1" stroke="#F8766D" stroke-width="2.7"/>
<line x1="744.2" y1="625.1" x2="785.0" y2="625.1" stroke="#00BFC4" stroke-width="2.7"/>
<rect x="730.90" y="597.80" width="63.2" height="54.2" fill="none" stroke="#333" stroke-width="3.2"/></g>
<line x1="722.90" y1="599.9000000000001" x2="730.90" y2="599.9000000000001" stroke="#333" stroke-width="2.8"/>
<text transform="translate(715.60,608.10) scale(1.16,1)" font-size="22" text-anchor="end" fill="#4D4D4D">5.0e-05</text>
<line x1="722.90" y1="612.5000000000001" x2="730.90" y2="612.5000000000001" stroke="#333" stroke-width="2.8"/>
<text transform="translate(715.60,620.70) scale(1.16,1)" font-size="22" text-anchor="end" fill="#4D4D4D">2.5e-05</text>
<line x1="722.90" y1="625.4000000000001" x2="730.90" y2="625.4000000000001" stroke="#333" stroke-width="2.8"/>
<text transform="translate(715.60,633.60) scale(1.16,1)" font-size="22" text-anchor="end" fill="#4D4D4D">0.0e+00</text>
<line x1="722.90" y1="638.0000000000001" x2="730.90" y2="638.0000000000001" stroke="#333" stroke-width="2.8"/>
<text transform="translate(715.60,646.20) scale(1.16,1)" font-size="22" text-anchor="end" fill="#4D4D4D">-2.5e-05</text>
<line x1="722.90" y1="650.8000000000001" x2="730.90" y2="650.8000000000001" stroke="#333" stroke-width="2.8"/>
<text transform="translate(715.60,659.00) scale(1.16,1)" font-size="22" text-anchor="end" fill="#4D4D4D">-5.0e-05</text>
<g clip-path="url(#s28)"><rect x="919.80" y="548.60" width="63.2" height="49.2" fill="#D9D9D9" stroke="#333" stroke-width="3.2"/>
<text x="951.40" y="582.60" font-size="25" text-anchor="middle" fill="#1A1A1A">CYTB</text></g>
<g clip-path="url(#p28)"><rect x="919.80" y="597.80" width="63.2" height="54.2" fill="#fff"/>
<circle cx="924.6" cy="605.5" r="6.0" fill="#F8766D"/>
<circle cx="923.9" cy="621.2" r="6.0" fill="#F8766D"/>
<circle cx="963.2" cy="604.7" r="6.0" fill="#F8766D"/>
<circle cx="969.7" cy="608.3" r="6.0" fill="#F8766D"/>
<circle cx="975.4" cy="613.3" r="6.0" fill="#F8766D"/>
<circle cx="966.1" cy="617.6" r="6.0" fill="#F8766D"/>
<circle cx="974.0" cy="631.2" r="6.0" fill="#F8766D"/>
<circle cx="974.7" cy="638.4" r="6.0" fill="#F8766D"/>
<circle cx="970.4" cy="638.4" r="6.0" fill="#F8766D"/>
<circle cx="936.0" cy="639.8" r="6.0" fill="#F8766D"/>
<circle cx="927.5" cy="615.5" r="6.0" fill="#F8766D"/>
<circle cx="926.0" cy="610.5" r="5.0" fill="#F8766D"/>
<circle cx="925.7" cy="618.3" r="5.0" fill="#F8766D"/>
<circle cx="966.5" cy="606.5" r="5.0" fill="#F8766D"/>
<circle cx="972.5" cy="610.8" r="5.0" fill="#F8766D"/>
<circle cx="967.9" cy="613.0" r="5.0" fill="#F8766D"/>
<circle cx="970.8" cy="615.5" r="5.0" fill="#F8766D"/>
<circle cx="974.3" cy="634.8" r="5.0" fill="#F8766D"/>
<circle cx="972.2" cy="634.8" r="5.0" fill="#F8766D"/>
<circle cx="972.5" cy="638.4" r="5.0" fill="#F8766D"/>
<circle cx="937.5" cy="603.3" r="6.0" fill="#00BFC4"/>
<circle cx="951.1" cy="603.3" r="6.0" fill="#00BFC4"/>
<circle cx="954.7" cy="605.5" r="6.0" fill="#00BFC4"/>
<circle cx="974.0" cy="602.6" r="6.0" fill="#00BFC4"/>
<circle cx="936.8" cy="610.5" r="6.0" fill="#00BFC4"/>
<circle cx="950.4" cy="610.5" r="6.0" fill="#00BFC4"/>
<circle cx="932.5" cy="616.9" r="6.0" fill="#00BFC4"/>
<circle cx="941.8" cy="615.5" r="6.0" fill="#00BFC4"/>
<circle cx="956.1" cy="615.5" r="6.0" fill="#00BFC4"/>
<circle cx="958.2" cy="619.8" r="6.0" fill="#00BFC4"/>
<circle cx="961.1" cy="624.1" r="6.0" fill="#00BFC4"/>
<circle cx="938.9" cy="629.1" r="6.0" fill="#00BFC4"/>
<circle cx="948.9" cy="628.4" r="6.0" fill="#00BFC4"/>
<circle cx="958.9" cy="629.8" r="6.0" fill="#00BFC4"/>
<circle cx="943.2" cy="636.9" r="6.0" fill="#00BFC4"/>
<circle cx="953.2" cy="636.9" r="6.0" fill="#00BFC4"/>
<circle cx="961.8" cy="638.4" r="6.0" fill="#00BFC4"/>
<circle cx="966.1" cy="642.7" r="6.0" fill="#00BFC4"/>
<circle cx="949.6" cy="647.0" r="6.0" fill="#00BFC4"/>
<circle cx="958.9" cy="647.0" r="6.0" fill="#00BFC4"/>
<circle cx="974.0" cy="648.4" r="6.0" fill="#00BFC4"/>
<circle cx="931.7" cy="645.9" r="6.0" fill="#00BFC4"/>
<circle cx="937.1" cy="606.9" r="5.0" fill="#00BFC4"/>
<circle cx="952.9" cy="604.4" r="5.0" fill="#00BFC4"/>
<circle cx="950.7" cy="606.9" r="5.0" fill="#00BFC4"/>
<circle cx="952.5" cy="608.0" r="5.0" fill="#00BFC4"/>
<circle cx="955.4" cy="610.5" r="5.0" fill="#00BFC4"/>
<circle cx="934.6" cy="613.7" r="5.0" fill="#00BFC4"/>
<circle cx="939.3" cy="613.0" r="5.0" fill="#00BFC4"/>
<circle cx="946.1" cy="613.0" r="5.0" fill="#00BFC4"/>
<circle cx="953.2" cy="613.0" r="5.0" fill="#00BFC4"/>
<circle cx="954.3" cy="615.1" r="5.0" fill="#00BFC4"/>
<circle cx="937.1" cy="616.2" r="5.0" fill="#00BFC4"/>
<circle cx="957.2" cy="617.6" r="5.0" fill="#00BFC4"/>
<circle cx="958.6" cy="619.8" r="5.0" fill="#00BFC4"/>
<circle cx="959.7" cy="621.9" r="5.0" fill="#00BFC4"/>
<circle cx="958.6" cy="624.8" r="5.0" fill="#00BFC4"/>
<circle cx="960.0" cy="626.9" r="5.0" fill="#00BFC4"/>
<circle cx="943.9" cy="628.7" r="5.0" fill="#00BFC4"/>
<circle cx="941.1" cy="633.0" r="5.0" fill="#00BFC4"/>
<circle cx="953.9" cy="629.1" r="5.0" fill="#00BFC4"/>
<circle cx="946.1" cy="632.7" r="5.0" fill="#00BFC4"/>
<circle cx="951.1" cy="632.7" r="5.0" fill="#00BFC4"/>
<circle cx="956.1" cy="633.4" r="5.0" fill="#00BFC4"/>
<circle cx="960.4" cy="634.1" r="5.0" fill="#00BFC4"/>
<circle cx="948.2" cy="636.9" r="5.0" fill="#00BFC4"/>
<circle cx="946.4" cy="642.0" r="5.0" fill="#00BFC4"/>
<circle cx="957.5" cy="637.7" r="5.0" fill="#00BFC4"/>
<circle cx="951.4" cy="642.0" r="5.0" fill="#00BFC4"/>
<circle cx="956.1" cy="642.0" r="5.0" fill="#00BFC4"/>
<circle cx="964.0" cy="640.5" r="5.0" fill="#00BFC4"/>
<circle cx="960.4" cy="642.7" r="5.0" fill="#00BFC4"/>
<circle cx="962.5" cy="644.8" r="5.0" fill="#00BFC4"/>
<circle cx="970.0" cy="645.5" r="5.0" fill="#00BFC4"/>
<circle cx="954.3" cy="647.0" r="5.0" fill="#00BFC4"/>
<line x1="924.6" y1="625.1" x2="977.6" y2="625.1" stroke="#F8766D" stroke-width="2.7"/>
<line x1="933.2" y1="625.1" x2="974.0" y2="625.1" stroke="#00BFC4" stroke-width="2.7"/>
<rect x="919.80" y="597.80" width="63.2" height="54.2" fill="none" stroke="#333" stroke-width="3.2"/></g>
<line x1="911.80" y1="599.9000000000001" x2="919.80" y2="599.9000000000001" stroke="#333" stroke-width="2.8"/>
<text transform="translate(904.50,608.10) scale(1.16,1)" font-size="22" text-anchor="end" fill="#4D4D4D">5.0e-05</text>
<line x1="911.80" y1="612.5000000000001" x2="919.80" y2="612.5000000000001" stroke="#333" stroke-width="2.8"/>
<text transform="translate(904.50,620.70) scale(1.16,1)" font-size="22" text-anchor="end" fill="#4D4D4D">2.5e-05</text>
<line x1="911.80" y1="625.4000000000001" x2="919.80" y2="625.4000000000001" stroke="#333" stroke-width="2.8"/>
<text transform="translate(904.50,633.60) scale(1.16,1)" font-size="22" text-anchor="end" fill="#4D4D4D">0.0e+00</text>
<line x1="911.80" y1="638.0000000000001" x2="919.80" y2="638.0000000000001" stroke="#333" stroke-width="2.8"/>
<text transform="translate(904.50,646.20) scale(1.16,1)" font-size="22" text-anchor="end" fill="#4D4D4D">-2.5e-05</text>
<line x1="911.80" y1="650.8000000000001" x2="919.80" y2="650.8000000000001" stroke="#333" stroke-width="2.8"/>
<text transform="translate(904.50,659.00) scale(1.16,1)" font-size="22" text-anchor="end" fill="#4D4D4D">-5.0e-05</text>
<g clip-path="url(#s29)"><rect x="1108.70" y="548.60" width="63.2" height="49.2" fill="#D9D9D9" stroke="#333" stroke-width="3.2"/>
<text x="1140.30" y="582.60" font-size="25" text-anchor="middle" fill="#1A1A1A">HGB1P</text></g>
<g clip-path="url(#p29)"><rect x="1108.70" y="597.80" width="63.2" height="54.2" fill="#fff"/>
<circle cx="1124.3" cy="601.2" r="6.0" fill="#F8766D"/>
<circle cx="1155.1" cy="603.3" r="6.0" fill="#F8766D"/>
<circle cx="1161.5" cy="608.3" r="6.0" fill="#F8766D"/>
<circle cx="1154.4" cy="620.5" r="6.0" fill="#F8766D"/>
<circle cx="1112.9" cy="619.1" r="6.0" fill="#F8766D"/>
<circle cx="1115.7" cy="628.4" r="6.0" fill="#F8766D"/>
<circle cx="1113.6" cy="638.4" r="6.0" fill="#F8766D"/>
<circle cx="1122.9" cy="640.5" r="6.0" fill="#F8766D"/>
<circle cx="1153.7" cy="631.2" r="6.0" fill="#F8766D"/>
<circle cx="1165.1" cy="628.4" r="6.0" fill="#F8766D"/>
<circle cx="1162.3" cy="638.4" r="6.0" fill="#F8766D"/>
<circle cx="1160.1" cy="648.4" r="6.0" fill="#F8766D"/>
<circle cx="1128.6" cy="648.4" r="6.0" fill="#F8766D"/>
<circle cx="1147.9" cy="647.0" r="6.0" fill="#F8766D"/>
<circle cx="1158.3" cy="605.8" r="5.0" fill="#F8766D"/>
<circle cx="1154.0" cy="625.9" r="5.0" fill="#F8766D"/>
<circle cx="1114.3" cy="623.7" r="5.0" fill="#F8766D"/>
<circle cx="1114.7" cy="633.4" r="5.0" fill="#F8766D"/>
<circle cx="1118.2" cy="639.5" r="5.0" fill="#F8766D"/>
<circle cx="1125.8" cy="644.5" r="5.0" fill="#F8766D"/>
<circle cx="1159.4" cy="629.8" r="5.0" fill="#F8766D"/>
<circle cx="1158.0" cy="634.8" r="5.0" fill="#F8766D"/>
<circle cx="1163.7" cy="633.4" r="5.0" fill="#F8766D"/>
<circle cx="1161.2" cy="643.4" r="5.0" fill="#F8766D"/>
<circle cx="1154.0" cy="647.7" r="5.0" fill="#F8766D"/>
<circle cx="1133.6" cy="602.6" r="6.0" fill="#00BFC4"/>
<circle cx="1143.7" cy="602.6" r="6.0" fill="#00BFC4"/>
<circle cx="1150.8" cy="604.0" r="6.0" fill="#00BFC4"/>
<circle cx="1125.8" cy="610.5" r="6.0" fill="#00BFC4"/>
<circle cx="1135.8" cy="610.5" r="6.0" fill="#00BFC4"/>
<circle cx="1146.5" cy="611.2" r="6.0" fill="#00BFC4"/>
<circle cx="1120.7" cy="617.6" r="6.0" fill="#00BFC4"/>
<circle cx="1130.8" cy="617.6" r="6.0" fill="#00BFC4"/>
<circle cx="1140.8" cy="616.9" r="6.0" fill="#00BFC4"/>
<circle cx="1146.5" cy="615.5" r="6.0" fill="#00BFC4"/>
<circle cx="1126.5" cy="631.2" r="6.0" fill="#00BFC4"/>
<circle cx="1135.8" cy="631.2" r="6.0" fill="#00BFC4"/>
<circle cx="1145.1" cy="631.2" r="6.0" fill="#00BFC4"/>
<circle cx="1162.3" cy="626.2" r="6.0" fill="#00BFC4"/>
<circle cx="1163.0" cy="634.1" r="6.0" fill="#00BFC4"/>
<circle cx="1132.2" cy="639.8" r="6.0" fill="#00BFC4"/>
<circle cx="1142.2" cy="639.8" r="6.0" fill="#00BFC4"/>
<circle cx="1153.7" cy="640.5" r="6.0" fill="#00BFC4"/>
<circle cx="1132.2" cy="644.1" r="6.0" fill="#00BFC4"/>
<circle cx="1140.8" cy="645.5" r="6.0" fill="#00BFC4"/>
<circle cx="1149.4" cy="643.4" r="6.0" fill="#00BFC4"/>
<circle cx="1138.6" cy="602.6" r="5.0" fill="#00BFC4"/>
<circle cx="1129.7" cy="606.5" r="5.0" fill="#00BFC4"/>
<circle cx="1134.7" cy="606.5" r="5.0" fill="#00BFC4"/>
<circle cx="1147.2" cy="603.3" r="5.0" fill="#00BFC4"/>
<circle cx="1139.7" cy="606.5" r="5.0" fill="#00BFC4"/>
<circle cx="1145.1" cy="606.9" r="5.0" fill="#00BFC4"/>
<circle cx="1148.7" cy="607.6" r="5.0" fill="#00BFC4"/>
<circle cx="1148.7" cy="609.7" r="5.0" fill="#00BFC4"/>
<circle cx="1130.8" cy="610.5" r="5.0" fill="#00BFC4"/>
<circle cx="1123.3" cy="614.0" r="5.0" fill="#00BFC4"/>
<circle cx="1128.3" cy="614.0" r="5.0" fill="#00BFC4"/>
<circle cx="1141.1" cy="610.8" r="5.0" fill="#00BFC4"/>
<circle cx="1133.3" cy="614.0" r="5.0" fill="#00BFC4"/>
<circle cx="1138.3" cy="613.7" r="5.0" fill="#00BFC4"/>
<circle cx="1141.1" cy="613.0" r="5.0" fill="#00BFC4"/>
<circle cx="1143.7" cy="614.0" r="5.0" fill="#00BFC4"/>
<circle cx="1146.5" cy="613.3" r="5.0" fill="#00BFC4"/>
<circle cx="1125.8" cy="617.6" r="5.0" fill="#00BFC4"/>
<circle cx="1135.8" cy="617.3" r="5.0" fill="#00BFC4"/>
<circle cx="1143.7" cy="616.2" r="5.0" fill="#00BFC4"/>
<circle cx="1131.1" cy="631.2" r="5.0" fill="#00BFC4"/>
<circle cx="1129.3" cy="635.5" r="5.0" fill="#00BFC4"/>
<circle cx="1140.4" cy="631.2" r="5.0" fill="#00BFC4"/>
<circle cx="1134.0" cy="635.5" r="5.0" fill="#00BFC4"/>
<circle cx="1139.0" cy="635.5" r="5.0" fill="#00BFC4"/>
<circle cx="1143.7" cy="635.5" r="5.0" fill="#00BFC4"/>
<circle cx="1162.6" cy="630.1" r="5.0" fill="#00BFC4"/>
<circle cx="1158.3" cy="637.3" r="5.0" fill="#00BFC4"/>
<circle cx="1137.2" cy="639.8" r="5.0" fill="#00BFC4"/>
<circle cx="1132.2" cy="642.0" r="5.0" fill="#00BFC4"/>
<circle cx="1136.5" cy="642.7" r="5.0" fill="#00BFC4"/>
<circle cx="1147.9" cy="640.2" r="5.0" fill="#00BFC4"/>
<circle cx="1137.2" cy="642.0" r="5.0" fill="#00BFC4"/>
<circle cx="1141.5" cy="642.7" r="5.0" fill="#00BFC4"/>
<circle cx="1145.8" cy="641.6" r="5.0" fill="#00BFC4"/>
<circle cx="1151.5" cy="642.0" r="5.0" fill="#00BFC4"/>
<circle cx="1136.5" cy="644.8" r="5.0" fill="#00BFC4"/>
<circle cx="1145.1" cy="644.5" r="5.0" fill="#00BFC4"/>
<line x1="1119.3" y1="625.1" x2="1167.3" y2="625.1" stroke="#F8766D" stroke-width="2.7"/>
<line x1="1122.2" y1="625.1" x2="1164.4" y2="625.1" stroke="#00BFC4" stroke-width="2.7"/>
<rect x="1108.70" y="597.80" width="63.2" height="54.2" fill="none" stroke="#333" stroke-width="3.2"/></g>
<line x1="1100.70" y1="599.9000000000001" x2="1108.70" y2="599.9000000000001" stroke="#333" stroke-width="2.8"/>
<text transform="translate(1093.40,608.10) scale(1.16,1)" font-size="22" text-anchor="end" fill="#4D4D4D">5.0e-05</text>
<line x1="1100.70" y1="612.5000000000001" x2="1108.70" y2="612.5000000000001" stroke="#333" stroke-width="2.8"/>
<text transform="translate(1093.40,620.70) scale(1.16,1)" font-size="22" text-anchor="end" fill="#4D4D4D">2.5e-05</text>
<line x1="1100.70" y1="625.4000000000001" x2="1108.70" y2="625.4000000000001" stroke="#333" stroke-width="2.8"/>
<text transform="translate(1093.40,633.60) scale(1.16,1)" font-size="22" text-anchor="end" fill="#4D4D4D">0.0e+00</text>
<line x1="1100.70" y1="638.0000000000001" x2="1108.70" y2="638.0000000000001" stroke="#333" stroke-width="2.8"/>
<text transform="translate(1093.40,646.20) scale(1.16,1)" font-size="22" text-anchor="end" fill="#4D4D4D">-2.5e-05</text>
<line x1="1100.70" y1="650.8000000000001" x2="1108.70" y2="650.8000000000001" stroke="#333" stroke-width="2.8"/>
<text transform="translate(1093.40,659.00) scale(1.16,1)" font-size="22" text-anchor="end" fill="#4D4D4D">-5.0e-05</text>
<g clip-path="url(#s30)"><rect x="164.20" y="668.75" width="63.2" height="49.2" fill="#D9D9D9" stroke="#333" stroke-width="3.2"/>
<text x="195.80" y="702.75" font-size="25" text-anchor="middle" fill="#1A1A1A">ND2</text></g>
<g clip-path="url(#p30)"><rect x="164.20" y="717.95" width="63.2" height="54.2" fill="#fff"/>
<circle cx="214.4" cy="722.6" r="6.0" fill="#F8766D"/>
<circle cx="220.8" cy="723.3" r="6.0" fill="#F8766D"/>
<circle cx="221.6" cy="725.5" r="6.0" fill="#F8766D"/>
<circle cx="169.3" cy="737.6" r="6.0" fill="#F8766D"/>
<circle cx="180.0" cy="739.8" r="6.0" fill="#F8766D"/>
<circle cx="170.7" cy="751.9" r="6.0" fill="#F8766D"/>
<circle cx="170.7" cy="764.1" r="6.0" fill="#F8766D"/>
<circle cx="211.5" cy="741.2" r="6.0" fill="#F8766D"/>
<circle cx="214.4" cy="754.1" r="6.0" fill="#F8766D"/>
<circle cx="220.1" cy="764.1" r="6.0" fill="#F8766D"/>
<circle cx="210.1" cy="735.5" r="6.0" fill="#F8766D"/>
<circle cx="217.6" cy="722.9" r="5.0" fill="#F8766D"/>
<circle cx="218.0" cy="724.0" r="5.0" fill="#F8766D"/>
<circle cx="221.2" cy="724.4" r="5.0" fill="#F8766D"/>
<circle cx="174.7" cy="738.7" r="5.0" fill="#F8766D"/>
<circle cx="170.7" cy="758.0" r="5.0" fill="#F8766D"/>
<circle cx="210.8" cy="738.3" r="5.0" fill="#F8766D"/>
<circle cx="217.3" cy="759.1" r="5.0" fill="#F8766D"/>
<circle cx="177.2" cy="726.9" r="6.0" fill="#00BFC4"/>
<circle cx="184.3" cy="723.3" r="6.0" fill="#00BFC4"/>
<circle cx="194.4" cy="723.3" r="6.0" fill="#00BFC4"/>
<circle cx="202.9" cy="724.0" r="6.0" fill="#00BFC4"/>
<circle cx="206.5" cy="726.9" r="6.0" fill="#00BFC4"/>
<circle cx="185.1" cy="731.9" r="6.0" fill="#00BFC4"/>
<circle cx="195.8" cy="732.6" r="6.0" fill="#00BFC4"/>
<circle cx="217.3" cy="733.3" r="6.0" fill="#00BFC4"/>
<circle cx="185.1" cy="737.6" r="6.0" fill="#00BFC4"/>
<circle cx="195.8" cy="737.6" r="6.0" fill="#00BFC4"/>
<circle cx="206.5" cy="742.6" r="6.0" fill="#00BFC4"/>
<circle cx="182.9" cy="744.1" r="6.0" fill="#00BFC4"/>
<circle cx="217.3" cy="750.1" r="6.0" fill="#00BFC4"/>
<circle cx="180.0" cy="751.2" r="6.0" fill="#00BFC4"/>
<circle cx="190.1" cy="749.8" r="6.0" fill="#00BFC4"/>
<circle cx="200.1" cy="749.8" r="6.0" fill="#00BFC4"/>
<circle cx="206.5" cy="751.2" r="6.0" fill="#00BFC4"/>
<circle cx="178.6" cy="756.9" r="6.0" fill="#00BFC4"/>
<circle cx="188.6" cy="756.9" r="6.0" fill="#00BFC4"/>
<circle cx="200.1" cy="756.9" r="6.0" fill="#00BFC4"/>
<circle cx="183.6" cy="766.3" r="6.0" fill="#00BFC4"/>
<circle cx="193.6" cy="764.1" r="6.0" fill="#00BFC4"/>
<circle cx="202.9" cy="764.1" r="6.0" fill="#00BFC4"/>
<circle cx="210.1" cy="766.3" r="6.0" fill="#00BFC4"/>
<circle cx="180.8" cy="725.1" r="5.0" fill="#00BFC4"/>
<circle cx="181.1" cy="729.4" r="5.0" fill="#00BFC4"/>
<circle cx="189.3" cy="723.3" r="5.0" fill="#00BFC4"/>
<circle cx="184.7" cy="727.6" r="5.0" fill="#00BFC4"/>
<circle cx="198.7" cy="723.7" r="5.0" fill="#00BFC4"/>
<circle cx="195.1" cy="728.0" r="5.0" fill="#00BFC4"/>
<circle cx="204.7" cy="725.5" r="5.0" fill="#00BFC4"/>
<circle cx="199.4" cy="728.3" r="5.0" fill="#00BFC4"/>
<circle cx="201.2" cy="729.7" r="5.0" fill="#00BFC4"/>
<circle cx="190.4" cy="732.3" r="5.0" fill="#00BFC4"/>
<circle cx="185.1" cy="734.8" r="5.0" fill="#00BFC4"/>
<circle cx="190.4" cy="734.8" r="5.0" fill="#00BFC4"/>
<circle cx="184.0" cy="738.0" r="5.0" fill="#00BFC4"/>
<circle cx="190.4" cy="735.1" r="5.0" fill="#00BFC4"/>
<circle cx="195.8" cy="735.1" r="5.0" fill="#00BFC4"/>
<circle cx="190.4" cy="737.6" r="5.0" fill="#00BFC4"/>
<circle cx="184.0" cy="740.8" r="5.0" fill="#00BFC4"/>
<circle cx="201.2" cy="740.1" r="5.0" fill="#00BFC4"/>
<circle cx="203.3" cy="746.2" r="5.0" fill="#00BFC4"/>
<circle cx="206.5" cy="746.9" r="5.0" fill="#00BFC4"/>
<circle cx="181.5" cy="747.6" r="5.0" fill="#00BFC4"/>
<circle cx="186.5" cy="746.9" r="5.0" fill="#00BFC4"/>
<circle cx="211.9" cy="750.7" r="5.0" fill="#00BFC4"/>
<circle cx="185.1" cy="750.5" r="5.0" fill="#00BFC4"/>
<circle cx="179.3" cy="754.1" r="5.0" fill="#00BFC4"/>
<circle cx="184.3" cy="754.1" r="5.0" fill="#00BFC4"/>
<circle cx="195.1" cy="749.8" r="5.0" fill="#00BFC4"/>
<circle cx="189.3" cy="753.4" r="5.0" fill="#00BFC4"/>
<circle cx="195.1" cy="753.4" r="5.0" fill="#00BFC4"/>
<circle cx="203.3" cy="750.5" r="5.0" fill="#00BFC4"/>
<circle cx="200.1" cy="753.4" r="5.0" fill="#00BFC4"/>
<circle cx="203.3" cy="754.1" r="5.0" fill="#00BFC4"/>
<circle cx="183.6" cy="756.9" r="5.0" fill="#00BFC4"/>
<circle cx="181.1" cy="761.6" r="5.0" fill="#00BFC4"/>
<circle cx="194.4" cy="756.9" r="5.0" fill="#00BFC4"/>
<circle cx="186.1" cy="761.6" r="5.0" fill="#00BFC4"/>
<circle cx="191.1" cy="760.5" r="5.0" fill="#00BFC4"/>
<circle cx="196.9" cy="760.5" r="5.0" fill="#00BFC4"/>
<circle cx="201.5" cy="760.5" r="5.0" fill="#00BFC4"/>
<circle cx="188.6" cy="765.2" r="5.0" fill="#00BFC4"/>
<circle cx="198.3" cy="764.1" r="5.0" fill="#00BFC4"/>
<circle cx="206.5" cy="765.2" r="5.0" fill="#00BFC4"/>
<line x1="169.3" y1="745.1" x2="223.0" y2="745.1" stroke="#F8766D" stroke-width="2.7"/>
<line x1="177.9" y1="745.1" x2="218.7" y2="745.1" stroke="#00BFC4" stroke-width="2.7"/>
<rect x="164.20" y="717.95" width="63.2" height="54.2" fill="none" stroke="#333" stroke-width="3.2"/></g>
<line x1="156.20" y1="720.0500000000001" x2="164.20" y2="720.0500000000001" stroke="#333" stroke-width="2.8"/>
<text transform="translate(148.90,728.25) scale(1.16,1)" font-size="22" text-anchor="end" fill="#4D4D4D">5.0e-05</text>
<line x1="156.20" y1="732.6500000000001" x2="164.20" y2="732.6500000000001" stroke="#333" stroke-width="2.8"/>
<text transform="translate(148.90,740.85) scale(1.16,1)" font-size="22" text-anchor="end" fill="#4D4D4D">2.5e-05</text>
<line x1="156.20" y1="745.5500000000001" x2="164.20" y2="745.5500000000001" stroke="#333" stroke-width="2.8"/>
<text transform="translate(148.90,753.75) scale(1.16,1)" font-size="22" text-anchor="end" fill="#4D4D4D">0.0e+00</text>
<line x1="156.20" y1="758.1500000000001" x2="164.20" y2="758.1500000000001" stroke="#333" stroke-width="2.8"/>
<text transform="translate(148.90,766.35) scale(1.16,1)" font-size="22" text-anchor="end" fill="#4D4D4D">-2.5e-05</text>
<line x1="156.20" y1="770.95" x2="164.20" y2="770.95" stroke="#333" stroke-width="2.8"/>
<text transform="translate(148.90,779.15) scale(1.16,1)" font-size="22" text-anchor="end" fill="#4D4D4D">-5.0e-05</text>
<line x1="167.70" y1="772.15" x2="167.70" y2="780.15" stroke="#333" stroke-width="2.8"/>
<text transform="translate(167.70,804.3) scale(1.16,1)" font-size="22" text-anchor="middle" fill="#4D4D4D">-3</text>
<line x1="178.10" y1="772.15" x2="178.10" y2="780.15" stroke="#333" stroke-width="2.8"/>
<text transform="translate(178.10,804.3) scale(1.16,1)" font-size="22" text-anchor="middle" fill="#4D4D4D">-2</text>
<line x1="188.50" y1="772.15" x2="188.50" y2="780.15" stroke="#333" stroke-width="2.8"/>
<text transform="translate(188.50,804.3) scale(1.16,1)" font-size="22" text-anchor="middle" fill="#4D4D4D">-1</text>
<line x1="198.90" y1="772.15" x2="198.90" y2="780.15" stroke="#333" stroke-width="2.8"/>
<text transform="translate(198.90,804.3) scale(1.16,1)" font-size="22" text-anchor="middle" fill="#4D4D4D">0</text>
<line x1="209.30" y1="772.15" x2="209.30" y2="780.15" stroke="#333" stroke-width="2.8"/>
<text transform="translate(209.30,804.3) scale(1.16,1)" font-size="22" text-anchor="middle" fill="#4D4D4D">1</text>
<line x1="219.70" y1="772.15" x2="219.70" y2="780.15" stroke="#333" stroke-width="2.8"/>
<text transform="translate(219.70,804.3) scale(1.16,1)" font-size="22" text-anchor="middle" fill="#4D4D4D">2</text>
<g clip-path="url(#s31)"><rect x="353.10" y="668.75" width="63.2" height="49.2" fill="#D9D9D9" stroke="#333" stroke-width="3.2"/>
<text x="384.70" y="702.75" font-size="25" text-anchor="middle" fill="#1A1A1A">ND1</text></g>
<g clip-path="url(#p31)"><rect x="353.10" y="717.95" width="63.2" height="54.2" fill="#fff"/>
<circle cx="362.6" cy="731.2" r="6.0" fill="#F8766D"/>
<circle cx="357.6" cy="742.6" r="6.0" fill="#F8766D"/>
<circle cx="403.4" cy="722.6" r="6.0" fill="#F8766D"/>
<circle cx="409.8" cy="724.0" r="6.0" fill="#F8766D"/>
<circle cx="403.4" cy="735.5" r="6.0" fill="#F8766D"/>
<circle cx="402.0" cy="744.1" r="6.0" fill="#F8766D"/>
<circle cx="403.4" cy="751.2" r="6.0" fill="#F8766D"/>
<circle cx="357.6" cy="764.1" r="6.0" fill="#F8766D"/>
<circle cx="377.6" cy="767.0" r="6.0" fill="#F8766D"/>
<circle cx="400.5" cy="762.7" r="6.0" fill="#F8766D"/>
<circle cx="409.8" cy="769.1" r="6.0" fill="#F8766D"/>
<circle cx="370.5" cy="751.2" r="6.0" fill="#F8766D"/>
<circle cx="403.4" cy="728.3" r="6.0" fill="#F8766D"/>
<circle cx="407.7" cy="739.1" r="6.0" fill="#F8766D"/>
<circle cx="409.8" cy="746.2" r="6.0" fill="#F8766D"/>
<circle cx="407.7" cy="756.9" r="6.0" fill="#F8766D"/>
<circle cx="404.8" cy="764.1" r="6.0" fill="#F8766D"/>
<circle cx="406.6" cy="723.3" r="5.0" fill="#F8766D"/>
<circle cx="403.4" cy="725.5" r="5.0" fill="#F8766D"/>
<circle cx="406.6" cy="726.2" r="5.0" fill="#F8766D"/>
<circle cx="402.7" cy="739.8" r="5.0" fill="#F8766D"/>
<circle cx="403.4" cy="731.9" r="5.0" fill="#F8766D"/>
<circle cx="405.5" cy="737.3" r="5.0" fill="#F8766D"/>
<circle cx="402.7" cy="747.6" r="5.0" fill="#F8766D"/>
<circle cx="404.8" cy="741.6" r="5.0" fill="#F8766D"/>
<circle cx="405.9" cy="745.1" r="5.0" fill="#F8766D"/>
<circle cx="402.0" cy="756.9" r="5.0" fill="#F8766D"/>
<circle cx="406.6" cy="748.7" r="5.0" fill="#F8766D"/>
<circle cx="405.5" cy="754.1" r="5.0" fill="#F8766D"/>
<circle cx="405.2" cy="765.9" r="5.0" fill="#F8766D"/>
<circle cx="404.1" cy="759.8" r="5.0" fill="#F8766D"/>
<circle cx="402.7" cy="763.4" r="5.0" fill="#F8766D"/>
<circle cx="408.8" cy="763.0" r="5.0" fill="#F8766D"/>
<circle cx="407.3" cy="766.6" r="5.0" fill="#F8766D"/>
<circle cx="405.5" cy="733.7" r="5.0" fill="#F8766D"/>
<circle cx="408.8" cy="742.6" r="5.0" fill="#F8766D"/>
<circle cx="408.8" cy="751.6" r="5.0" fill="#F8766D"/>
<circle cx="406.3" cy="760.5" r="5.0" fill="#F8766D"/>
<circle cx="372.6" cy="724.7" r="6.0" fill="#00BFC4"/>
<circle cx="391.9" cy="724.7" r="6.0" fill="#00BFC4"/>
<circle cx="371.2" cy="731.9" r="6.0" fill="#00BFC4"/>
<circle cx="381.9" cy="731.9" r="6.0" fill="#00BFC4"/>
<circle cx="390.5" cy="732.6" r="6.0" fill="#00BFC4"/>
<circle cx="364.7" cy="743.3" r="6.0" fill="#00BFC4"/>
<circle cx="376.2" cy="741.2" r="6.0" fill="#00BFC4"/>
<circle cx="386.9" cy="740.5" r="6.0" fill="#00BFC4"/>
<circle cx="393.4" cy="742.6" r="6.0" fill="#00BFC4"/>
<circle cx="369.8" cy="756.9" r="6.0" fill="#00BFC4"/>
<circle cx="379.8" cy="754.1" r="6.0" fill="#00BFC4"/>
<circle cx="390.5" cy="754.1" r="6.0" fill="#00BFC4"/>
<circle cx="396.2" cy="754.8" r="6.0" fill="#00BFC4"/>
<circle cx="407.0" cy="756.9" r="6.0" fill="#00BFC4"/>
<circle cx="381.2" cy="759.8" r="6.0" fill="#00BFC4"/>
<circle cx="366.2" cy="767.0" r="6.0" fill="#00BFC4"/>
<circle cx="388.4" cy="765.5" r="6.0" fill="#00BFC4"/>
<circle cx="393.4" cy="766.3" r="6.0" fill="#00BFC4"/>
<circle cx="408.4" cy="767.7" r="6.0" fill="#00BFC4"/>
<circle cx="381.2" cy="724.7" r="6.0" fill="#00BFC4"/>
<circle cx="381.9" cy="746.2" r="6.0" fill="#00BFC4"/>
<circle cx="376.2" cy="749.8" r="6.0" fill="#00BFC4"/>
<circle cx="386.2" cy="748.4" r="6.0" fill="#00BFC4"/>
<circle cx="371.9" cy="728.3" r="5.0" fill="#00BFC4"/>
<circle cx="377.3" cy="728.3" r="5.0" fill="#00BFC4"/>
<circle cx="376.9" cy="724.7" r="5.0" fill="#00BFC4"/>
<circle cx="386.9" cy="728.3" r="5.0" fill="#00BFC4"/>
<circle cx="391.2" cy="728.7" r="5.0" fill="#00BFC4"/>
<circle cx="386.6" cy="724.7" r="5.0" fill="#00BFC4"/>
<circle cx="376.6" cy="731.9" r="5.0" fill="#00BFC4"/>
<circle cx="373.7" cy="736.5" r="5.0" fill="#00BFC4"/>
<circle cx="376.2" cy="728.3" r="5.0" fill="#00BFC4"/>
<circle cx="386.2" cy="732.3" r="5.0" fill="#00BFC4"/>
<circle cx="379.1" cy="736.5" r="5.0" fill="#00BFC4"/>
<circle cx="384.4" cy="736.2" r="5.0" fill="#00BFC4"/>
<circle cx="381.6" cy="728.3" r="5.0" fill="#00BFC4"/>
<circle cx="388.7" cy="736.5" r="5.0" fill="#00BFC4"/>
<circle cx="391.9" cy="737.6" r="5.0" fill="#00BFC4"/>
<circle cx="385.9" cy="728.7" r="5.0" fill="#00BFC4"/>
<circle cx="370.5" cy="742.3" r="5.0" fill="#00BFC4"/>
<circle cx="381.6" cy="740.8" r="5.0" fill="#00BFC4"/>
<circle cx="379.1" cy="743.7" r="5.0" fill="#00BFC4"/>
<circle cx="376.2" cy="745.5" r="5.0" fill="#00BFC4"/>
<circle cx="381.2" cy="744.8" r="5.0" fill="#00BFC4"/>
<circle cx="390.2" cy="741.6" r="5.0" fill="#00BFC4"/>
<circle cx="384.4" cy="743.3" r="5.0" fill="#00BFC4"/>
<circle cx="386.6" cy="744.4" r="5.0" fill="#00BFC4"/>
<circle cx="391.9" cy="748.4" r="5.0" fill="#00BFC4"/>
<circle cx="387.7" cy="744.4" r="5.0" fill="#00BFC4"/>
<circle cx="389.8" cy="745.5" r="5.0" fill="#00BFC4"/>
<circle cx="374.8" cy="755.5" r="5.0" fill="#00BFC4"/>
<circle cx="375.5" cy="758.4" r="5.0" fill="#00BFC4"/>
<circle cx="368.0" cy="762.0" r="5.0" fill="#00BFC4"/>
<circle cx="373.0" cy="753.4" r="5.0" fill="#00BFC4"/>
<circle cx="385.1" cy="754.1" r="5.0" fill="#00BFC4"/>
<circle cx="380.5" cy="756.9" r="5.0" fill="#00BFC4"/>
<circle cx="380.9" cy="750.1" r="5.0" fill="#00BFC4"/>
<circle cx="378.0" cy="751.9" r="5.0" fill="#00BFC4"/>
<circle cx="383.0" cy="751.2" r="5.0" fill="#00BFC4"/>
<circle cx="393.4" cy="754.4" r="5.0" fill="#00BFC4"/>
<circle cx="385.9" cy="756.9" r="5.0" fill="#00BFC4"/>
<circle cx="389.4" cy="759.8" r="5.0" fill="#00BFC4"/>
<circle cx="386.2" cy="750.1" r="5.0" fill="#00BFC4"/>
<circle cx="388.4" cy="751.2" r="5.0" fill="#00BFC4"/>
<circle cx="401.6" cy="755.9" r="5.0" fill="#00BFC4"/>
<circle cx="394.8" cy="760.5" r="5.0" fill="#00BFC4"/>
<circle cx="391.2" cy="751.6" r="5.0" fill="#00BFC4"/>
<circle cx="407.7" cy="762.3" r="5.0" fill="#00BFC4"/>
<circle cx="384.8" cy="762.7" r="5.0" fill="#00BFC4"/>
<circle cx="378.7" cy="754.8" r="5.0" fill="#00BFC4"/>
<circle cx="390.9" cy="765.9" r="5.0" fill="#00BFC4"/>
<circle cx="379.1" cy="748.0" r="5.0" fill="#00BFC4"/>
<circle cx="384.1" cy="747.3" r="5.0" fill="#00BFC4"/>
<circle cx="381.2" cy="749.1" r="5.0" fill="#00BFC4"/>
<line x1="358.3" y1="745.5" x2="412.0" y2="745.5" stroke="#F8766D" stroke-width="2.7"/>
<line x1="366.9" y1="745.5" x2="407.7" y2="745.5" stroke="#00BFC4" stroke-width="2.7"/>
<rect x="353.10" y="717.95" width="63.2" height="54.2" fill="none" stroke="#333" stroke-width="3.2"/></g>
<line x1="345.10" y1="720.0500000000001" x2="353.10" y2="720.0500000000001" stroke="#333" stroke-width="2.8"/>
<text transform="translate(337.80,728.25) scale(1.16,1)" font-size="22" text-anchor="end" fill="#4D4D4D">5.0e-05</text>
<line x1="345.10" y1="732.6500000000001" x2="353.10" y2="732.6500000000001" stroke="#333" stroke-width="2.8"/>
<text transform="translate(337.80,740.85) scale(1.16,1)" font-size="22" text-anchor="end" fill="#4D4D4D">2.5e-05</text>
<line x1="345.10" y1="745.5500000000001" x2="353.10" y2="745.5500000000001" stroke="#333" stroke-width="2.8"/>
<text transform="translate(337.80,753.75) scale(1.16,1)" font-size="22" text-anchor="end" fill="#4D4D4D">0.0e+00</text>
<line x1="345.10" y1="758.1500000000001" x2="353.10" y2="758.1500000000001" stroke="#333" stroke-width="2.8"/>
<text transform="translate(337.80,766.35) scale(1.16,1)" font-size="22" text-anchor="end" fill="#4D4D4D">-2.5e-05</text>
<line x1="345.10" y1="770.95" x2="353.10" y2="770.95" stroke="#333" stroke-width="2.8"/>
<text transform="translate(337.80,779.15) scale(1.16,1)" font-size="22" text-anchor="end" fill="#4D4D4D">-5.0e-05</text>
<line x1="356.60" y1="772.15" x2="356.60" y2="780.15" stroke="#333" stroke-width="2.8"/>
<text transform="translate(356.60,804.3) scale(1.16,1)" font-size="22" text-anchor="middle" fill="#4D4D4D">-3</text>
<line x1="367.00" y1="772.15" x2="367.00" y2="780.15" stroke="#333" stroke-width="2.8"/>
<text transform="translate(367.00,804.3) scale(1.16,1)" font-size="22" text-anchor="middle" fill="#4D4D4D">-2</text>
<line x1="377.40" y1="772.15" x2="377.40" y2="780.15" stroke="#333" stroke-width="2.8"/>
<text transform="translate(377.40,804.3) scale(1.16,1)" font-size="22" text-anchor="middle" fill="#4D4D4D">-1</text>
<line x1="387.80" y1="772.15" x2="387.80" y2="780.15" stroke="#333" stroke-width="2.8"/>
<text transform="translate(387.80,804.3) scale(1.16,1)" font-size="22" text-anchor="middle" fill="#4D4D4D">0</text>
<line x1="398.20" y1="772.15" x2="398.20" y2="780.15" stroke="#333" stroke-width="2.8"/>
<text transform="translate(398.20,804.3) scale(1.16,1)" font-size="22" text-anchor="middle" fill="#4D4D4D">1</text>
<line x1="408.60" y1="772.15" x2="408.60" y2="780.15" stroke="#333" stroke-width="2.8"/>
<text transform="translate(408.60,804.3) scale(1.16,1)" font-size="22" text-anchor="middle" fill="#4D4D4D">2</text>
<g clip-path="url(#s32)"><rect x="542.00" y="668.75" width="63.2" height="49.2" fill="#D9D9D9" stroke="#333" stroke-width="3.2"/>
<text x="573.60" y="702.75" font-size="25" text-anchor="middle" fill="#1A1A1A">RPL21P128</text></g>
<g clip-path="url(#p32)"><rect x="542.00" y="717.95" width="63.2" height="54.2" fill="#fff"/>
<circle cx="558.8" cy="723.3" r="6.0" fill="#F8766D"/>
<circle cx="588.1" cy="724.0" r="6.0" fill="#F8766D"/>
<circle cx="601.0" cy="723.3" r="6.0" fill="#F8766D"/>
<circle cx="598.1" cy="736.9" r="6.0" fill="#F8766D"/>
<circle cx="589.5" cy="737.6" r="6.0" fill="#F8766D"/>
<circle cx="548.0" cy="744.1" r="6.0" fill="#F8766D"/>
<circle cx="548.0" cy="755.5" r="6.0" fill="#F8766D"/>
<circle cx="589.5" cy="754.1" r="6.0" fill="#F8766D"/>
<circle cx="592.4" cy="761.2" r="6.0" fill="#F8766D"/>
<circle cx="586.7" cy="767.0" r="6.0" fill="#F8766D"/>
<circle cx="568.1" cy="748.4" r="6.0" fill="#F8766D"/>
<circle cx="596.7" cy="728.3" r="6.0" fill="#F8766D"/>
<circle cx="599.6" cy="744.1" r="6.0" fill="#F8766D"/>
<circle cx="599.6" cy="754.1" r="6.0" fill="#F8766D"/>
<circle cx="595.3" cy="764.1" r="6.0" fill="#F8766D"/>
<circle cx="588.1" cy="744.1" r="6.0" fill="#F8766D"/>
<circle cx="598.8" cy="768.4" r="6.0" fill="#F8766D"/>
<circle cx="592.4" cy="726.2" r="5.0" fill="#F8766D"/>
<circle cx="598.8" cy="725.8" r="5.0" fill="#F8766D"/>
<circle cx="593.8" cy="737.3" r="5.0" fill="#F8766D"/>
<circle cx="597.4" cy="732.6" r="5.0" fill="#F8766D"/>
<circle cx="598.8" cy="740.5" r="5.0" fill="#F8766D"/>
<circle cx="593.1" cy="740.5" r="5.0" fill="#F8766D"/>
<circle cx="593.1" cy="733.0" r="5.0" fill="#F8766D"/>
<circle cx="594.5" cy="740.8" r="5.0" fill="#F8766D"/>
<circle cx="588.8" cy="740.8" r="5.0" fill="#F8766D"/>
<circle cx="548.0" cy="749.8" r="5.0" fill="#F8766D"/>
<circle cx="591.0" cy="757.7" r="5.0" fill="#F8766D"/>
<circle cx="594.5" cy="754.1" r="5.0" fill="#F8766D"/>
<circle cx="592.4" cy="759.1" r="5.0" fill="#F8766D"/>
<circle cx="588.8" cy="749.1" r="5.0" fill="#F8766D"/>
<circle cx="589.5" cy="764.1" r="5.0" fill="#F8766D"/>
<circle cx="596.0" cy="757.7" r="5.0" fill="#F8766D"/>
<circle cx="593.8" cy="762.7" r="5.0" fill="#F8766D"/>
<circle cx="595.6" cy="764.8" r="5.0" fill="#F8766D"/>
<circle cx="591.0" cy="765.5" r="5.0" fill="#F8766D"/>
<circle cx="592.8" cy="767.7" r="5.0" fill="#F8766D"/>
<circle cx="599.6" cy="749.1" r="5.0" fill="#F8766D"/>
<circle cx="593.8" cy="744.1" r="5.0" fill="#F8766D"/>
<circle cx="597.4" cy="759.1" r="5.0" fill="#F8766D"/>
<circle cx="597.1" cy="766.3" r="5.0" fill="#F8766D"/>
<circle cx="560.9" cy="726.2" r="6.0" fill="#00BFC4"/>
<circle cx="570.9" cy="724.0" r="6.0" fill="#00BFC4"/>
<circle cx="583.1" cy="722.6" r="6.0" fill="#00BFC4"/>
<circle cx="586.7" cy="729.7" r="6.0" fill="#00BFC4"/>
<circle cx="553.7" cy="735.5" r="6.0" fill="#00BFC4"/>
<circle cx="563.8" cy="735.5" r="6.0" fill="#00BFC4"/>
<circle cx="573.8" cy="734.0" r="6.0" fill="#00BFC4"/>
<circle cx="578.1" cy="739.1" r="6.0" fill="#00BFC4"/>
<circle cx="560.2" cy="742.6" r="6.0" fill="#00BFC4"/>
<circle cx="558.0" cy="751.2" r="6.0" fill="#00BFC4"/>
<circle cx="568.1" cy="752.7" r="6.0" fill="#00BFC4"/>
<circle cx="580.9" cy="749.8" r="6.0" fill="#00BFC4"/>
<circle cx="595.3" cy="753.7" r="6.0" fill="#00BFC4"/>
<circle cx="559.5" cy="761.2" r="6.0" fill="#00BFC4"/>
<circle cx="569.5" cy="760.5" r="6.0" fill="#00BFC4"/>
<circle cx="579.5" cy="761.2" r="6.0" fill="#00BFC4"/>
<circle cx="563.8" cy="767.0" r="6.0" fill="#00BFC4"/>
<circle cx="575.2" cy="767.0" r="6.0" fill="#00BFC4"/>
<circle cx="596.0" cy="768.0" r="6.0" fill="#00BFC4"/>
<circle cx="570.2" cy="744.1" r="6.0" fill="#00BFC4"/>
<circle cx="580.9" cy="744.1" r="6.0" fill="#00BFC4"/>
<circle cx="568.8" cy="756.9" r="6.0" fill="#00BFC4"/>
<circle cx="565.9" cy="725.1" r="5.0" fill="#00BFC4"/>
<circle cx="557.3" cy="730.8" r="5.0" fill="#00BFC4"/>
<circle cx="562.3" cy="730.8" r="5.0" fill="#00BFC4"/>
<circle cx="577.0" cy="723.3" r="5.0" fill="#00BFC4"/>
<circle cx="572.4" cy="729.0" r="5.0" fill="#00BFC4"/>
<circle cx="584.9" cy="726.2" r="5.0" fill="#00BFC4"/>
<circle cx="558.8" cy="735.5" r="5.0" fill="#00BFC4"/>
<circle cx="557.0" cy="739.1" r="5.0" fill="#00BFC4"/>
<circle cx="568.8" cy="734.8" r="5.0" fill="#00BFC4"/>
<circle cx="562.0" cy="739.1" r="5.0" fill="#00BFC4"/>
<circle cx="567.0" cy="739.8" r="5.0" fill="#00BFC4"/>
<circle cx="575.9" cy="736.5" r="5.0" fill="#00BFC4"/>
<circle cx="572.0" cy="739.1" r="5.0" fill="#00BFC4"/>
<circle cx="577.4" cy="739.1" r="5.0" fill="#00BFC4"/>
<circle cx="579.5" cy="744.4" r="5.0" fill="#00BFC4"/>
<circle cx="574.1" cy="741.6" r="5.0" fill="#00BFC4"/>
<circle cx="579.5" cy="741.6" r="5.0" fill="#00BFC4"/>
<circle cx="559.1" cy="746.9" r="5.0" fill="#00BFC4"/>
<circle cx="565.2" cy="743.3" r="5.0" fill="#00BFC4"/>
<circle cx="563.1" cy="751.9" r="5.0" fill="#00BFC4"/>
<circle cx="558.8" cy="756.2" r="5.0" fill="#00BFC4"/>
<circle cx="563.4" cy="754.1" r="5.0" fill="#00BFC4"/>
<circle cx="563.8" cy="756.9" r="5.0" fill="#00BFC4"/>
<circle cx="568.8" cy="756.6" r="5.0" fill="#00BFC4"/>
<circle cx="569.1" cy="748.4" r="5.0" fill="#00BFC4"/>
<circle cx="568.4" cy="754.8" r="5.0" fill="#00BFC4"/>
<circle cx="580.2" cy="755.5" r="5.0" fill="#00BFC4"/>
<circle cx="575.6" cy="746.9" r="5.0" fill="#00BFC4"/>
<circle cx="580.9" cy="746.9" r="5.0" fill="#00BFC4"/>
<circle cx="564.5" cy="760.9" r="5.0" fill="#00BFC4"/>
<circle cx="561.6" cy="764.1" r="5.0" fill="#00BFC4"/>
<circle cx="564.1" cy="759.1" r="5.0" fill="#00BFC4"/>
<circle cx="574.5" cy="760.9" r="5.0" fill="#00BFC4"/>
<circle cx="566.6" cy="763.7" r="5.0" fill="#00BFC4"/>
<circle cx="572.4" cy="763.7" r="5.0" fill="#00BFC4"/>
<circle cx="569.1" cy="758.7" r="5.0" fill="#00BFC4"/>
<circle cx="577.4" cy="764.1" r="5.0" fill="#00BFC4"/>
<circle cx="574.1" cy="759.1" r="5.0" fill="#00BFC4"/>
<circle cx="569.5" cy="767.0" r="5.0" fill="#00BFC4"/>
<circle cx="566.3" cy="762.0" r="5.0" fill="#00BFC4"/>
<circle cx="572.0" cy="762.0" r="5.0" fill="#00BFC4"/>
<circle cx="575.6" cy="744.1" r="5.0" fill="#00BFC4"/>
<line x1="555.9" y1="745.5" x2="601.0" y2="745.5" stroke="#F8766D" stroke-width="2.7"/>
<line x1="555.9" y1="745.5" x2="596.0" y2="745.5" stroke="#00BFC4" stroke-width="2.7"/>
<rect x="542.00" y="717.95" width="63.2" height="54.2" fill="none" stroke="#333" stroke-width="3.2"/></g>
<line x1="534.00" y1="720.0500000000001" x2="542.00" y2="720.0500000000001" stroke="#333" stroke-width="2.8"/>
<text transform="translate(526.70,728.25) scale(1.16,1)" font-size="22" text-anchor="end" fill="#4D4D4D">5.0e-05</text>
<line x1="534.00" y1="732.6500000000001" x2="542.00" y2="732.6500000000001" stroke="#333" stroke-width="2.8"/>
<text transform="translate(526.70,740.85) scale(1.16,1)" font-size="22" text-anchor="end" fill="#4D4D4D">2.5e-05</text>
<line x1="534.00" y1="745.5500000000001" x2="542.00" y2="745.5500000000001" stroke="#333" stroke-width="2.8"/>
<text transform="translate(526.70,753.75) scale(1.16,1)" font-size="22" text-anchor="end" fill="#4D4D4D">0.0e+00</text>
<line x1="534.00" y1="758.1500000000001" x2="542.00" y2="758.1500000000001" stroke="#333" stroke-width="2.8"/>
<text transform="translate(526.70,766.35) scale(1.16,1)" font-size="22" text-anchor="end" fill="#4D4D4D">-2.5e-05</text>
<line x1="534.00" y1="770.95" x2="542.00" y2="770.95" stroke="#333" stroke-width="2.8"/>
<text transform="translate(526.70,779.15) scale(1.16,1)" font-size="22" text-anchor="end" fill="#4D4D4D">-5.0e-05</text>
<line x1="545.50" y1="772.15" x2="545.50" y2="780.15" stroke="#333" stroke-width="2.8"/>
<text transform="translate(545.50,804.3) scale(1.16,1)" font-size="22" text-anchor="middle" fill="#4D4D4D">-3</text>
<line x1="555.90" y1="772.15" x2="555.90" y2="780.15" stroke="#333" stroke-width="2.8"/>
<text transform="translate(555.90,804.3) scale(1.16,1)" font-size="22" text-anchor="middle" fill="#4D4D4D">-2</text>
<line x1="566.30" y1="772.15" x2="566.30" y2="780.15" stroke="#333" stroke-width="2.8"/>
<text transform="translate(566.30,804.3) scale(1.16,1)" font-size="22" text-anchor="middle" fill="#4D4D4D">-1</text>
<line x1="576.70" y1="772.15" x2="576.70" y2="780.15" stroke="#333" stroke-width="2.8"/>
<text transform="translate(576.70,804.3) scale(1.16,1)" font-size="22" text-anchor="middle" fill="#4D4D4D">0</text>
<line x1="587.10" y1="772.15" x2="587.10" y2="780.15" stroke="#333" stroke-width="2.8"/>
<text transform="translate(587.10,804.3) scale(1.16,1)" font-size="22" text-anchor="middle" fill="#4D4D4D">1</text>
<line x1="597.50" y1="772.15" x2="597.50" y2="780.15" stroke="#333" stroke-width="2.8"/>
<text transform="translate(597.50,804.3) scale(1.16,1)" font-size="22" text-anchor="middle" fill="#4D4D4D">2</text>
<g clip-path="url(#s33)"><rect x="730.90" y="668.75" width="63.2" height="49.2" fill="#D9D9D9" stroke="#333" stroke-width="3.2"/>
<text x="762.50" y="702.75" font-size="25" text-anchor="middle" fill="#1A1A1A">ND4L</text></g>
<g clip-path="url(#p33)"><rect x="730.90" y="717.95" width="63.2" height="54.2" fill="#fff"/>
<circle cx="734.9" cy="734.8" r="6.0" fill="#F8766D"/>
<circle cx="736.3" cy="741.2" r="6.0" fill="#F8766D"/>
<circle cx="777.1" cy="724.7" r="6.0" fill="#F8766D"/>
<circle cx="781.4" cy="731.9" r="6.0" fill="#F8766D"/>
<circle cx="782.8" cy="739.8" r="6.0" fill="#F8766D"/>
<circle cx="788.6" cy="748.4" r="6.0" fill="#F8766D"/>
<circle cx="787.1" cy="750.5" r="6.0" fill="#F8766D"/>
<circle cx="737.0" cy="756.9" r="6.0" fill="#F8766D"/>
<circle cx="778.5" cy="765.5" r="6.0" fill="#F8766D"/>
<circle cx="775.7" cy="759.8" r="6.0" fill="#F8766D"/>
<circle cx="788.6" cy="735.5" r="6.0" fill="#F8766D"/>
<circle cx="788.6" cy="742.6" r="6.0" fill="#F8766D"/>
<circle cx="785.7" cy="756.9" r="6.0" fill="#F8766D"/>
<circle cx="788.6" cy="764.1" r="6.0" fill="#F8766D"/>
<circle cx="735.6" cy="738.0" r="5.0" fill="#F8766D"/>
<circle cx="779.3" cy="728.3" r="5.0" fill="#F8766D"/>
<circle cx="782.1" cy="735.8" r="5.0" fill="#F8766D"/>
<circle cx="785.0" cy="733.7" r="5.0" fill="#F8766D"/>
<circle cx="785.7" cy="744.1" r="5.0" fill="#F8766D"/>
<circle cx="785.0" cy="745.1" r="5.0" fill="#F8766D"/>
<circle cx="785.7" cy="737.6" r="5.0" fill="#F8766D"/>
<circle cx="785.7" cy="741.2" r="5.0" fill="#F8766D"/>
<circle cx="787.8" cy="749.4" r="5.0" fill="#F8766D"/>
<circle cx="788.6" cy="745.5" r="5.0" fill="#F8766D"/>
<circle cx="787.1" cy="752.7" r="5.0" fill="#F8766D"/>
<circle cx="787.8" cy="746.6" r="5.0" fill="#F8766D"/>
<circle cx="786.4" cy="753.7" r="5.0" fill="#F8766D"/>
<circle cx="777.1" cy="762.7" r="5.0" fill="#F8766D"/>
<circle cx="782.1" cy="761.2" r="5.0" fill="#F8766D"/>
<circle cx="783.5" cy="764.8" r="5.0" fill="#F8766D"/>
<circle cx="780.7" cy="758.4" r="5.0" fill="#F8766D"/>
<circle cx="788.6" cy="739.1" r="5.0" fill="#F8766D"/>
<circle cx="787.1" cy="760.5" r="5.0" fill="#F8766D"/>
<circle cx="748.5" cy="723.3" r="6.0" fill="#00BFC4"/>
<circle cx="759.2" cy="723.3" r="6.0" fill="#00BFC4"/>
<circle cx="767.1" cy="723.3" r="6.0" fill="#00BFC4"/>
<circle cx="785.7" cy="721.9" r="6.0" fill="#00BFC4"/>
<circle cx="743.5" cy="731.9" r="6.0" fill="#00BFC4"/>
<circle cx="754.2" cy="731.9" r="6.0" fill="#00BFC4"/>
<circle cx="764.2" cy="732.6" r="6.0" fill="#00BFC4"/>
<circle cx="769.9" cy="735.5" r="6.0" fill="#00BFC4"/>
<circle cx="745.6" cy="739.1" r="6.0" fill="#00BFC4"/>
<circle cx="755.6" cy="739.1" r="6.0" fill="#00BFC4"/>
<circle cx="747.0" cy="751.9" r="6.0" fill="#00BFC4"/>
<circle cx="757.1" cy="751.2" r="6.0" fill="#00BFC4"/>
<circle cx="767.1" cy="751.2" r="6.0" fill="#00BFC4"/>
<circle cx="776.4" cy="752.7" r="6.0" fill="#00BFC4"/>
<circle cx="784.3" cy="760.9" r="6.0" fill="#00BFC4"/>
<circle cx="747.8" cy="762.7" r="6.0" fill="#00BFC4"/>
<circle cx="757.8" cy="762.7" r="6.0" fill="#00BFC4"/>
<circle cx="767.8" cy="761.2" r="6.0" fill="#00BFC4"/>
<circle cx="754.2" cy="767.0" r="6.0" fill="#00BFC4"/>
<circle cx="764.2" cy="767.0" r="6.0" fill="#00BFC4"/>
<circle cx="753.8" cy="723.3" r="5.0" fill="#00BFC4"/>
<circle cx="746.0" cy="727.6" r="5.0" fill="#00BFC4"/>
<circle cx="751.3" cy="727.6" r="5.0" fill="#00BFC4"/>
<circle cx="763.1" cy="723.3" r="5.0" fill="#00BFC4"/>
<circle cx="756.7" cy="727.6" r="5.0" fill="#00BFC4"/>
<circle cx="761.7" cy="728.0" r="5.0" fill="#00BFC4"/>
<circle cx="765.7" cy="728.0" r="5.0" fill="#00BFC4"/>
<circle cx="748.8" cy="731.9" r="5.0" fill="#00BFC4"/>
<circle cx="744.5" cy="735.5" r="5.0" fill="#00BFC4"/>
<circle cx="759.2" cy="732.3" r="5.0" fill="#00BFC4"/>
<circle cx="749.9" cy="735.5" r="5.0" fill="#00BFC4"/>
<circle cx="754.9" cy="735.5" r="5.0" fill="#00BFC4"/>
<circle cx="767.1" cy="734.0" r="5.0" fill="#00BFC4"/>
<circle cx="759.9" cy="735.8" r="5.0" fill="#00BFC4"/>
<circle cx="750.6" cy="739.1" r="5.0" fill="#00BFC4"/>
<circle cx="756.3" cy="745.1" r="5.0" fill="#00BFC4"/>
<circle cx="752.1" cy="751.6" r="5.0" fill="#00BFC4"/>
<circle cx="747.4" cy="757.3" r="5.0" fill="#00BFC4"/>
<circle cx="762.1" cy="751.2" r="5.0" fill="#00BFC4"/>
<circle cx="757.4" cy="756.9" r="5.0" fill="#00BFC4"/>
<circle cx="771.7" cy="751.9" r="5.0" fill="#00BFC4"/>
<circle cx="767.4" cy="756.2" r="5.0" fill="#00BFC4"/>
<circle cx="780.3" cy="756.8" r="5.0" fill="#00BFC4"/>
<circle cx="772.1" cy="756.9" r="5.0" fill="#00BFC4"/>
<circle cx="752.8" cy="762.7" r="5.0" fill="#00BFC4"/>
<circle cx="751.0" cy="764.8" r="5.0" fill="#00BFC4"/>
<circle cx="762.8" cy="762.0" r="5.0" fill="#00BFC4"/>
<circle cx="756.0" cy="764.8" r="5.0" fill="#00BFC4"/>
<circle cx="761.0" cy="764.8" r="5.0" fill="#00BFC4"/>
<circle cx="766.0" cy="764.1" r="5.0" fill="#00BFC4"/>
<circle cx="759.2" cy="767.0" r="5.0" fill="#00BFC4"/>
<line x1="735.6" y1="745.1" x2="789.3" y2="745.1" stroke="#F8766D" stroke-width="2.7"/>
<line x1="744.2" y1="745.1" x2="785.0" y2="745.1" stroke="#00BFC4" stroke-width="2.7"/>
<rect x="730.90" y="717.95" width="63.2" height="54.2" fill="none" stroke="#333" stroke-width="3.2"/></g>
<line x1="722.90" y1="720.0500000000001" x2="730.90" y2="720.0500000000001" stroke="#333" stroke-width="2.8"/>
<text transform="translate(715.60,728.25) scale(1.16,1)" font-size="22" text-anchor="end" fill="#4D4D4D">5.0e-05</text>
<line x1="722.90" y1="732.6500000000001" x2="730.90" y2="732.6500000000001" stroke="#333" stroke-width="2.8"/>
<text transform="translate(715.60,740.85) scale(1.16,1)" font-size="22" text-anchor="end" fill="#4D4D4D">2.5e-05</text>
<line x1="722.90" y1="745.5500000000001" x2="730.90" y2="745.5500000000001" stroke="#333" stroke-width="2.8"/>
<text transform="translate(715.60,753.75) scale(1.16,1)" font-size="22" text-anchor="end" fill="#4D4D4D">0.0e+00</text>
<line x1="722.90" y1="758.1500000000001" x2="730.90" y2="758.1500000000001" stroke="#333" stroke-width="2.8"/>
<text transform="translate(715.60,766.35) scale(1.16,1)" font-size="22" text-anchor="end" fill="#4D4D4D">-2.5e-05</text>
<line x1="722.90" y1="770.95" x2="730.90" y2="770.95" stroke="#333" stroke-width="2.8"/>
<text transform="translate(715.60,779.15) scale(1.16,1)" font-size="22" text-anchor="end" fill="#4D4D4D">-5.0e-05</text>
<line x1="734.40" y1="772.15" x2="734.40" y2="780.15" stroke="#333" stroke-width="2.8"/>
<text transform="translate(734.40,804.3) scale(1.16,1)" font-size="22" text-anchor="middle" fill="#4D4D4D">-3</text>
<line x1="744.80" y1="772.15" x2="744.80" y2="780.15" stroke="#333" stroke-width="2.8"/>
<text transform="translate(744.80,804.3) scale(1.16,1)" font-size="22" text-anchor="middle" fill="#4D4D4D">-2</text>
<line x1="755.20" y1="772.15" x2="755.20" y2="780.15" stroke="#333" stroke-width="2.8"/>
<text transform="translate(755.20,804.3) scale(1.16,1)" font-size="22" text-anchor="middle" fill="#4D4D4D">-1</text>
<line x1="765.60" y1="772.15" x2="765.60" y2="780.15" stroke="#333" stroke-width="2.8"/>
<text transform="translate(765.60,804.3) scale(1.16,1)" font-size="22" text-anchor="middle" fill="#4D4D4D">0</text>
<line x1="776.00" y1="772.15" x2="776.00" y2="780.15" stroke="#333" stroke-width="2.8"/>
<text transform="translate(776.00,804.3) scale(1.16,1)" font-size="22" text-anchor="middle" fill="#4D4D4D">1</text>
<line x1="786.40" y1="772.15" x2="786.40" y2="780.15" stroke="#333" stroke-width="2.8"/>
<text transform="translate(786.40,804.3) scale(1.16,1)" font-size="22" text-anchor="middle" fill="#4D4D4D">2</text>
<g clip-path="url(#s34)"><rect x="919.80" y="668.75" width="63.2" height="49.2" fill="#D9D9D9" stroke="#333" stroke-width="3.2"/>
<text x="951.40" y="702.75" font-size="25" text-anchor="middle" fill="#1A1A1A">ATP8</text></g>
<g clip-path="url(#p34)"><rect x="919.80" y="717.95" width="63.2" height="54.2" fill="#fff"/>
<circle cx="927.8" cy="725.8" r="6.0" fill="#F8766D"/>
<circle cx="924.6" cy="739.1" r="6.0" fill="#F8766D"/>
<circle cx="923.9" cy="747.6" r="6.0" fill="#F8766D"/>
<circle cx="966.1" cy="724.0" r="6.0" fill="#F8766D"/>
<circle cx="975.4" cy="724.7" r="6.0" fill="#F8766D"/>
<circle cx="974.7" cy="732.6" r="6.0" fill="#F8766D"/>
<circle cx="967.5" cy="735.5" r="6.0" fill="#F8766D"/>
<circle cx="970.4" cy="738.3" r="6.0" fill="#F8766D"/>
<circle cx="976.1" cy="759.8" r="6.0" fill="#F8766D"/>
<circle cx="970.4" cy="756.9" r="6.0" fill="#F8766D"/>
<circle cx="966.1" cy="765.5" r="6.0" fill="#F8766D"/>
<circle cx="971.8" cy="768.4" r="6.0" fill="#F8766D"/>
<circle cx="937.5" cy="768.4" r="6.0" fill="#F8766D"/>
<circle cx="924.2" cy="743.3" r="5.0" fill="#F8766D"/>
<circle cx="970.8" cy="724.4" r="5.0" fill="#F8766D"/>
<circle cx="970.4" cy="728.3" r="5.0" fill="#F8766D"/>
<circle cx="966.8" cy="729.7" r="5.0" fill="#F8766D"/>
<circle cx="975.1" cy="728.7" r="5.0" fill="#F8766D"/>
<circle cx="971.1" cy="734.0" r="5.0" fill="#F8766D"/>
<circle cx="972.5" cy="735.5" r="5.0" fill="#F8766D"/>
<circle cx="969.0" cy="736.9" r="5.0" fill="#F8766D"/>
<circle cx="973.3" cy="758.4" r="5.0" fill="#F8766D"/>
<circle cx="971.1" cy="762.7" r="5.0" fill="#F8766D"/>
<circle cx="974.0" cy="764.1" r="5.0" fill="#F8766D"/>
<circle cx="968.3" cy="761.2" r="5.0" fill="#F8766D"/>
<circle cx="971.1" cy="762.7" r="5.0" fill="#F8766D"/>
<circle cx="969.0" cy="767.0" r="5.0" fill="#F8766D"/>
<circle cx="941.8" cy="726.2" r="6.0" fill="#00BFC4"/>
<circle cx="951.8" cy="724.0" r="6.0" fill="#00BFC4"/>
<circle cx="956.1" cy="728.3" r="6.0" fill="#00BFC4"/>
<circle cx="933.9" cy="734.8" r="6.0" fill="#00BFC4"/>
<circle cx="943.2" cy="734.0" r="6.0" fill="#00BFC4"/>
<circle cx="954.7" cy="739.1" r="6.0" fill="#00BFC4"/>
<circle cx="966.1" cy="743.3" r="6.0" fill="#00BFC4"/>
<circle cx="936.8" cy="741.2" r="6.0" fill="#00BFC4"/>
<circle cx="946.1" cy="739.8" r="6.0" fill="#00BFC4"/>
<circle cx="932.5" cy="749.8" r="6.0" fill="#00BFC4"/>
<circle cx="943.2" cy="749.8" r="6.0" fill="#00BFC4"/>
<circle cx="953.2" cy="749.8" r="6.0" fill="#00BFC4"/>
<circle cx="961.8" cy="751.2" r="6.0" fill="#00BFC4"/>
<circle cx="973.3" cy="750.1" r="6.0" fill="#00BFC4"/>
<circle cx="938.2" cy="760.5" r="6.0" fill="#00BFC4"/>
<circle cx="948.9" cy="759.8" r="6.0" fill="#00BFC4"/>
<circle cx="958.9" cy="756.9" r="6.0" fill="#00BFC4"/>
<circle cx="938.9" cy="766.3" r="6.0" fill="#00BFC4"/>
<circle cx="949.6" cy="765.5" r="6.0" fill="#00BFC4"/>
<circle cx="960.4" cy="766.3" r="6.0" fill="#00BFC4"/>
<circle cx="973.3" cy="764.1" r="6.0" fill="#00BFC4"/>
<circle cx="946.8" cy="725.1" r="5.0" fill="#00BFC4"/>
<circle cx="937.8" cy="730.5" r="5.0" fill="#00BFC4"/>
<circle cx="942.5" cy="730.1" r="5.0" fill="#00BFC4"/>
<circle cx="953.9" cy="726.2" r="5.0" fill="#00BFC4"/>
<circle cx="955.4" cy="733.7" r="5.0" fill="#00BFC4"/>
<circle cx="938.5" cy="734.4" r="5.0" fill="#00BFC4"/>
<circle cx="935.3" cy="738.0" r="5.0" fill="#00BFC4"/>
<circle cx="940.0" cy="737.6" r="5.0" fill="#00BFC4"/>
<circle cx="944.6" cy="736.9" r="5.0" fill="#00BFC4"/>
<circle cx="960.4" cy="741.2" r="5.0" fill="#00BFC4"/>
<circle cx="950.4" cy="739.4" r="5.0" fill="#00BFC4"/>
<circle cx="953.9" cy="744.4" r="5.0" fill="#00BFC4"/>
<circle cx="964.0" cy="747.3" r="5.0" fill="#00BFC4"/>
<circle cx="969.7" cy="746.7" r="5.0" fill="#00BFC4"/>
<circle cx="941.4" cy="740.5" r="5.0" fill="#00BFC4"/>
<circle cx="934.6" cy="745.5" r="5.0" fill="#00BFC4"/>
<circle cx="940.0" cy="745.5" r="5.0" fill="#00BFC4"/>
<circle cx="944.6" cy="744.8" r="5.0" fill="#00BFC4"/>
<circle cx="949.6" cy="744.8" r="5.0" fill="#00BFC4"/>
<circle cx="937.8" cy="749.8" r="5.0" fill="#00BFC4"/>
<circle cx="935.3" cy="755.2" r="5.0" fill="#00BFC4"/>
<circle cx="948.2" cy="749.8" r="5.0" fill="#00BFC4"/>
<circle cx="940.7" cy="755.2" r="5.0" fill="#00BFC4"/>
<circle cx="946.1" cy="754.8" r="5.0" fill="#00BFC4"/>
<circle cx="957.5" cy="750.5" r="5.0" fill="#00BFC4"/>
<circle cx="951.1" cy="754.8" r="5.0" fill="#00BFC4"/>
<circle cx="956.1" cy="753.4" r="5.0" fill="#00BFC4"/>
<circle cx="967.5" cy="750.7" r="5.0" fill="#00BFC4"/>
<circle cx="960.4" cy="754.1" r="5.0" fill="#00BFC4"/>
<circle cx="943.6" cy="760.2" r="5.0" fill="#00BFC4"/>
<circle cx="938.5" cy="763.4" r="5.0" fill="#00BFC4"/>
<circle cx="953.9" cy="758.4" r="5.0" fill="#00BFC4"/>
<circle cx="943.9" cy="763.0" r="5.0" fill="#00BFC4"/>
<circle cx="949.3" cy="762.7" r="5.0" fill="#00BFC4"/>
<circle cx="959.7" cy="761.6" r="5.0" fill="#00BFC4"/>
<circle cx="944.3" cy="765.9" r="5.0" fill="#00BFC4"/>
<circle cx="955.0" cy="765.9" r="5.0" fill="#00BFC4"/>
<line x1="930.3" y1="745.5" x2="978.3" y2="745.5" stroke="#F8766D" stroke-width="2.7"/>
<line x1="933.2" y1="745.5" x2="974.0" y2="745.5" stroke="#00BFC4" stroke-width="2.7"/>
<rect x="919.80" y="717.95" width="63.2" height="54.2" fill="none" stroke="#333" stroke-width="3.2"/></g>
<line x1="911.80" y1="720.0500000000001" x2="919.80" y2="720.0500000000001" stroke="#333" stroke-width="2.8"/>
<text transform="translate(904.50,728.25) scale(1.16,1)" font-size="22" text-anchor="end" fill="#4D4D4D">5.0e-05</text>
<line x1="911.80" y1="732.6500000000001" x2="919.80" y2="732.6500000000001" stroke="#333" stroke-width="2.8"/>
<text transform="translate(904.50,740.85) scale(1.16,1)" font-size="22" text-anchor="end" fill="#4D4D4D">2.5e-05</text>
<line x1="911.80" y1="745.5500000000001" x2="919.80" y2="745.5500000000001" stroke="#333" stroke-width="2.8"/>
<text transform="translate(904.50,753.75) scale(1.16,1)" font-size="22" text-anchor="end" fill="#4D4D4D">0.0e+00</text>
<line x1="911.80" y1="758.1500000000001" x2="919.80" y2="758.1500000000001" stroke="#333" stroke-width="2.8"/>
<text transform="translate(904.50,766.35) scale(1.16,1)" font-size="22" text-anchor="end" fill="#4D4D4D">-2.5e-05</text>
<line x1="911.80" y1="770.95" x2="919.80" y2="770.95" stroke="#333" stroke-width="2.8"/>
<text transform="translate(904.50,779.15) scale(1.16,1)" font-size="22" text-anchor="end" fill="#4D4D4D">-5.0e-05</text>
<line x1="923.30" y1="772.15" x2="923.30" y2="780.15" stroke="#333" stroke-width="2.8"/>
<text transform="translate(923.30,804.3) scale(1.16,1)" font-size="22" text-anchor="middle" fill="#4D4D4D">-3</text>
<line x1="933.70" y1="772.15" x2="933.70" y2="780.15" stroke="#333" stroke-width="2.8"/>
<text transform="translate(933.70,804.3) scale(1.16,1)" font-size="22" text-anchor="middle" fill="#4D4D4D">-2</text>
<line x1="944.10" y1="772.15" x2="944.10" y2="780.15" stroke="#333" stroke-width="2.8"/>
<text transform="translate(944.10,804.3) scale(1.16,1)" font-size="22" text-anchor="middle" fill="#4D4D4D">-1</text>
<line x1="954.50" y1="772.15" x2="954.50" y2="780.15" stroke="#333" stroke-width="2.8"/>
<text transform="translate(954.50,804.3) scale(1.16,1)" font-size="22" text-anchor="middle" fill="#4D4D4D">0</text>
<line x1="964.90" y1="772.15" x2="964.90" y2="780.15" stroke="#333" stroke-width="2.8"/>
<text transform="translate(964.90,804.3) scale(1.16,1)" font-size="22" text-anchor="middle" fill="#4D4D4D">1</text>
<line x1="975.30" y1="772.15" x2="975.30" y2="780.15" stroke="#333" stroke-width="2.8"/>
<text transform="translate(975.30,804.3) scale(1.16,1)" font-size="22" text-anchor="middle" fill="#4D4D4D">2</text>
<g clip-path="url(#s35)"><rect x="1108.70" y="668.75" width="63.2" height="49.2" fill="#D9D9D9" stroke="#333" stroke-width="3.2"/>
<text x="1138.60" y="702.75" font-size="25" text-anchor="middle" fill="#1A1A1A">LOC100411234</text></g>
<g clip-path="url(#p35)"><rect x="1108.70" y="717.95" width="63.2" height="54.2" fill="#fff"/>
<circle cx="1112.9" cy="744.1" r="6.0" fill="#F8766D"/>
<circle cx="1159.4" cy="723.3" r="6.0" fill="#F8766D"/>
<circle cx="1165.8" cy="725.5" r="6.0" fill="#F8766D"/>
<circle cx="1150.8" cy="737.6" r="6.0" fill="#F8766D"/>
<circle cx="1155.1" cy="746.9" r="6.0" fill="#F8766D"/>
<circle cx="1155.1" cy="751.2" r="6.0" fill="#F8766D"/>
<circle cx="1162.3" cy="755.5" r="6.0" fill="#F8766D"/>
<circle cx="1162.3" cy="760.5" r="6.0" fill="#F8766D"/>
<circle cx="1126.5" cy="758.4" r="6.0" fill="#F8766D"/>
<circle cx="1155.1" cy="767.0" r="6.0" fill="#F8766D"/>
<circle cx="1137.2" cy="767.0" r="6.0" fill="#F8766D"/>
<circle cx="1116.5" cy="768.4" r="6.0" fill="#F8766D"/>
<circle cx="1162.6" cy="724.4" r="5.0" fill="#F8766D"/>
<circle cx="1153.0" cy="742.3" r="5.0" fill="#F8766D"/>
<circle cx="1155.1" cy="749.1" r="5.0" fill="#F8766D"/>
<circle cx="1158.7" cy="751.2" r="5.0" fill="#F8766D"/>
<circle cx="1158.7" cy="753.4" r="5.0" fill="#F8766D"/>
<circle cx="1158.7" cy="755.9" r="5.0" fill="#F8766D"/>
<circle cx="1162.3" cy="758.0" r="5.0" fill="#F8766D"/>
<circle cx="1158.7" cy="763.7" r="5.0" fill="#F8766D"/>
<circle cx="1125.0" cy="722.6" r="6.0" fill="#00BFC4"/>
<circle cx="1135.1" cy="722.6" r="6.0" fill="#00BFC4"/>
<circle cx="1145.1" cy="722.6" r="6.0" fill="#00BFC4"/>
<circle cx="1122.2" cy="731.9" r="6.0" fill="#00BFC4"/>
<circle cx="1133.6" cy="731.2" r="6.0" fill="#00BFC4"/>
<circle cx="1145.1" cy="731.9" r="6.0" fill="#00BFC4"/>
<circle cx="1153.7" cy="730.5" r="6.0" fill="#00BFC4"/>
<circle cx="1163.0" cy="729.7" r="6.0" fill="#00BFC4"/>
<circle cx="1128.6" cy="737.6" r="6.0" fill="#00BFC4"/>
<circle cx="1138.6" cy="737.6" r="6.0" fill="#00BFC4"/>
<circle cx="1146.5" cy="736.9" r="6.0" fill="#00BFC4"/>
<circle cx="1127.2" cy="748.4" r="6.0" fill="#00BFC4"/>
<circle cx="1136.5" cy="748.4" r="6.0" fill="#00BFC4"/>
<circle cx="1143.7" cy="748.4" r="6.0" fill="#00BFC4"/>
<circle cx="1135.1" cy="755.5" r="6.0" fill="#00BFC4"/>
<circle cx="1145.1" cy="755.5" r="6.0" fill="#00BFC4"/>
<circle cx="1150.1" cy="757.7" r="6.0" fill="#00BFC4"/>
<circle cx="1163.7" cy="759.1" r="6.0" fill="#00BFC4"/>
<circle cx="1120.0" cy="768.4" r="6.0" fill="#00BFC4"/>
<circle cx="1132.9" cy="767.0" r="6.0" fill="#00BFC4"/>
<circle cx="1148.7" cy="768.4" r="6.0" fill="#00BFC4"/>
<circle cx="1130.1" cy="722.6" r="5.0" fill="#00BFC4"/>
<circle cx="1123.6" cy="727.2" r="5.0" fill="#00BFC4"/>
<circle cx="1129.3" cy="726.9" r="5.0" fill="#00BFC4"/>
<circle cx="1140.1" cy="722.6" r="5.0" fill="#00BFC4"/>
<circle cx="1134.3" cy="726.9" r="5.0" fill="#00BFC4"/>
<circle cx="1145.1" cy="727.2" r="5.0" fill="#00BFC4"/>
<circle cx="1149.4" cy="726.5" r="5.0" fill="#00BFC4"/>
<circle cx="1127.9" cy="731.5" r="5.0" fill="#00BFC4"/>
<circle cx="1125.4" cy="734.8" r="5.0" fill="#00BFC4"/>
<circle cx="1139.4" cy="731.5" r="5.0" fill="#00BFC4"/>
<circle cx="1131.1" cy="734.4" r="5.0" fill="#00BFC4"/>
<circle cx="1136.1" cy="734.4" r="5.0" fill="#00BFC4"/>
<circle cx="1149.4" cy="731.2" r="5.0" fill="#00BFC4"/>
<circle cx="1141.9" cy="734.8" r="5.0" fill="#00BFC4"/>
<circle cx="1145.8" cy="734.4" r="5.0" fill="#00BFC4"/>
<circle cx="1158.3" cy="730.1" r="5.0" fill="#00BFC4"/>
<circle cx="1150.1" cy="733.7" r="5.0" fill="#00BFC4"/>
<circle cx="1133.6" cy="737.6" r="5.0" fill="#00BFC4"/>
<circle cx="1127.9" cy="743.0" r="5.0" fill="#00BFC4"/>
<circle cx="1142.6" cy="737.3" r="5.0" fill="#00BFC4"/>
<circle cx="1137.6" cy="743.0" r="5.0" fill="#00BFC4"/>
<circle cx="1141.1" cy="743.0" r="5.0" fill="#00BFC4"/>
<circle cx="1145.1" cy="742.6" r="5.0" fill="#00BFC4"/>
<circle cx="1131.8" cy="748.4" r="5.0" fill="#00BFC4"/>
<circle cx="1131.1" cy="751.9" r="5.0" fill="#00BFC4"/>
<circle cx="1140.1" cy="748.4" r="5.0" fill="#00BFC4"/>
<circle cx="1135.8" cy="751.9" r="5.0" fill="#00BFC4"/>
<circle cx="1140.8" cy="751.9" r="5.0" fill="#00BFC4"/>
<circle cx="1139.4" cy="751.9" r="5.0" fill="#00BFC4"/>
<circle cx="1144.4" cy="751.9" r="5.0" fill="#00BFC4"/>
<circle cx="1146.9" cy="753.0" r="5.0" fill="#00BFC4"/>
<circle cx="1140.1" cy="755.5" r="5.0" fill="#00BFC4"/>
<circle cx="1134.0" cy="761.2" r="5.0" fill="#00BFC4"/>
<circle cx="1147.6" cy="756.6" r="5.0" fill="#00BFC4"/>
<circle cx="1149.4" cy="763.0" r="5.0" fill="#00BFC4"/>
<line x1="1113.6" y1="745.5" x2="1167.3" y2="745.5" stroke="#F8766D" stroke-width="2.7"/>
<line x1="1122.2" y1="745.5" x2="1163.0" y2="745.5" stroke="#00BFC4" stroke-width="2.7"/>
<rect x="1108.70" y="717.95" width="63.2" height="54.2" fill="none" stroke="#333" stroke-width="3.2"/></g>
<line x1="1100.70" y1="720.0500000000001" x2="1108.70" y2="720.0500000000001" stroke="#333" stroke-width="2.8"/>
<text transform="translate(1093.40,728.25) scale(1.16,1)" font-size="22" text-anchor="end" fill="#4D4D4D">5.0e-05</text>
<line x1="1100.70" y1="732.6500000000001" x2="1108.70" y2="732.6500000000001" stroke="#333" stroke-width="2.8"/>
<text transform="translate(1093.40,740.85) scale(1.16,1)" font-size="22" text-anchor="end" fill="#4D4D4D">2.5e-05</text>
<line x1="1100.70" y1="745.5500000000001" x2="1108.70" y2="745.5500000000001" stroke="#333" stroke-width="2.8"/>
<text transform="translate(1093.40,753.75) scale(1.16,1)" font-size="22" text-anchor="end" fill="#4D4D4D">0.0e+00</text>
<line x1="1100.70" y1="758.1500000000001" x2="1108.70" y2="758.1500000000001" stroke="#333" stroke-width="2.8"/>
<text transform="translate(1093.40,766.35) scale(1.16,1)" font-size="22" text-anchor="end" fill="#4D4D4D">-2.5e-05</text>
<line x1="1100.70" y1="770.95" x2="1108.70" y2="770.95" stroke="#333" stroke-width="2.8"/>
<text transform="translate(1093.40,779.15) scale(1.16,1)" font-size="22" text-anchor="end" fill="#4D4D4D">-5.0e-05</text>
<line x1="1112.20" y1="772.15" x2="1112.20" y2="780.15" stroke="#333" stroke-width="2.8"/>
<text transform="translate(1112.20,804.3) scale(1.16,1)" font-size="22" text-anchor="middle" fill="#4D4D4D">-3</text>
<line x1="1122.60" y1="772.15" x2="1122.60" y2="780.15" stroke="#333" stroke-width="2.8"/>
<text transform="translate(1122.60,804.3) scale(1.16,1)" font-size="22" text-anchor="middle" fill="#4D4D4D">-2</text>
<line x1="1133.00" y1="772.15" x2="1133.00" y2="780.15" stroke="#333" stroke-width="2.8"/>
<text transform="translate(1133.00,804.3) scale(1.16,1)" font-size="22" text-anchor="middle" fill="#4D4D4D">-1</text>
<line x1="1143.40" y1="772.15" x2="1143.40" y2="780.15" stroke="#333" stroke-width="2.8"/>
<text transform="translate(1143.40,804.3) scale(1.16,1)" font-size="22" text-anchor="middle" fill="#4D4D4D">0</text>
<line x1="1153.80" y1="772.15" x2="1153.80" y2="780.15" stroke="#333" stroke-width="2.8"/>
<text transform="translate(1153.80,804.3) scale(1.16,1)" font-size="22" text-anchor="middle" fill="#4D4D4D">1</text>
<line x1="1164.20" y1="772.15" x2="1164.20" y2="780.15" stroke="#333" stroke-width="2.8"/>
<text transform="translate(1164.20,804.3) scale(1.16,1)" font-size="22" text-anchor="middle" fill="#4D4D4D">2</text>
</svg></body></html>
